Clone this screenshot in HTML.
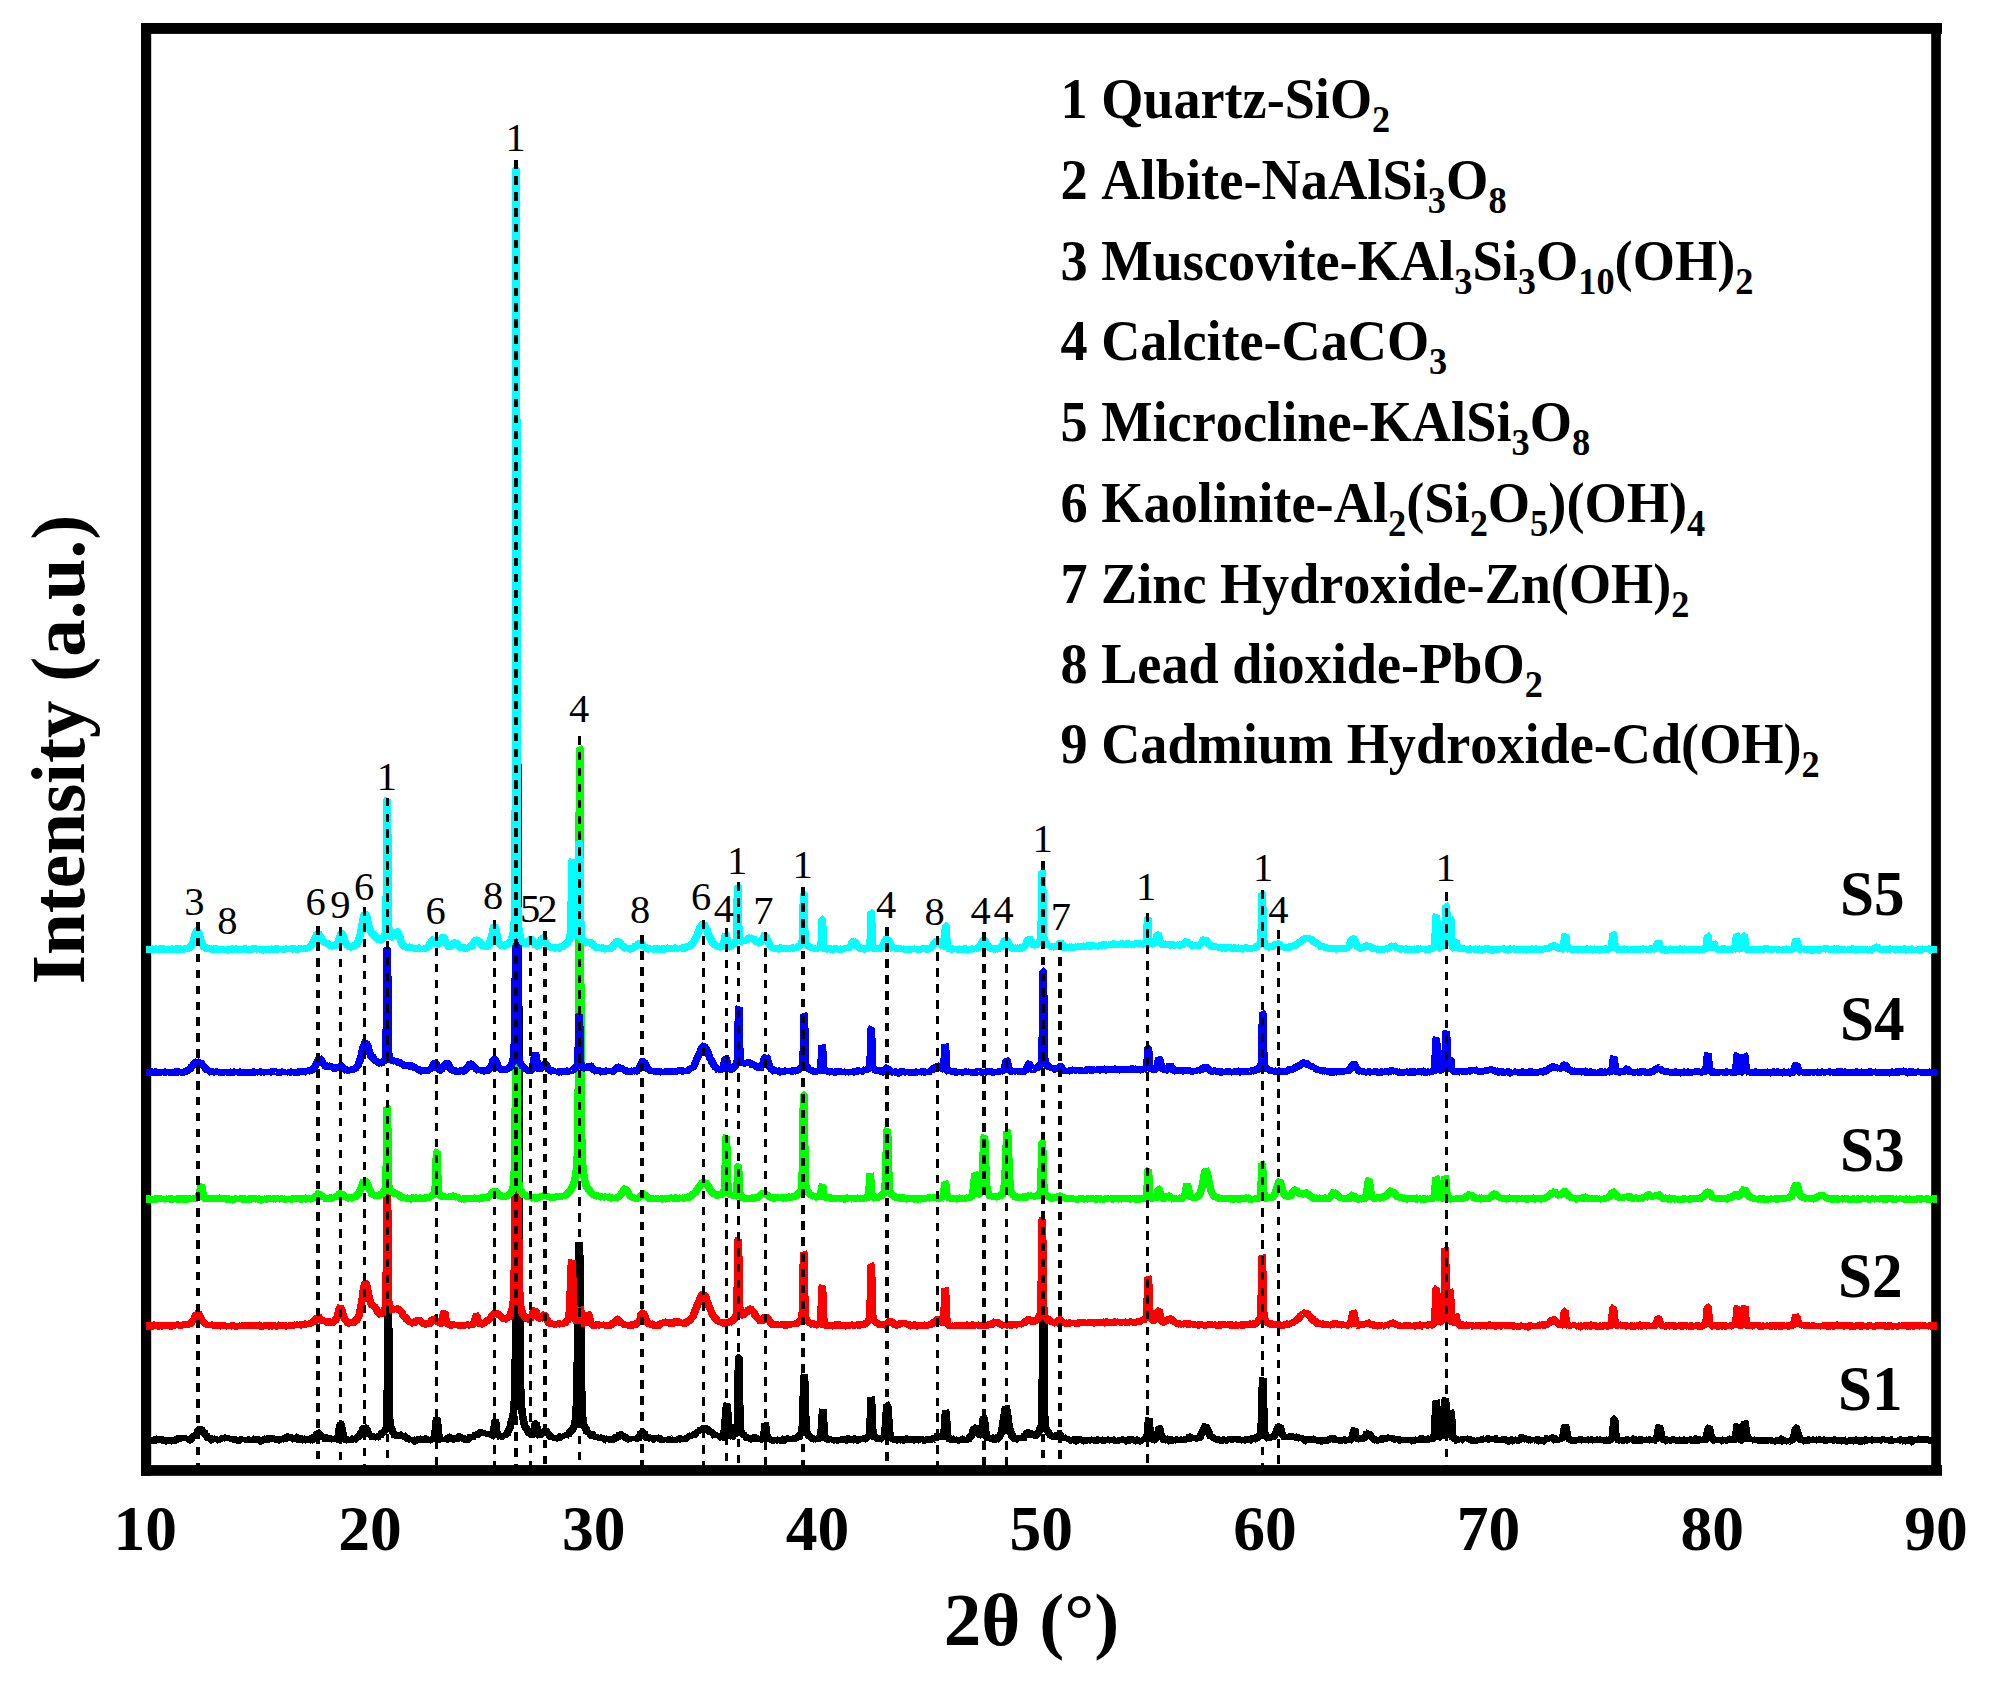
<!DOCTYPE html>
<html lang="en"><head><meta charset="utf-8"><title>XRD patterns</title><style>html,body{margin:0;padding:0;background:#fff}svg{display:block;font-kerning:none;font-variant-ligatures:none}</style></head><body>
<svg width="1993" height="1691" viewBox="0 0 1993 1691">
<rect width="1993" height="1691" fill="#fff"/>
<g fill="#000">
<rect x="141" y="23" width="10.2" height="1452.8"/>
<rect x="141" y="23" width="1801" height="10.9"/>
<rect x="1931.2" y="23" width="9.7" height="1452"/>
<rect x="141" y="1465.1" width="1801" height="10.7"/>
</g>
<g fill="none" stroke-width="7.6" stroke-linejoin="bevel" stroke-linecap="butt" shape-rendering="crispEdges">
<path stroke="#000000" d="M146.0,1440.2l.5,0l.5,0l.5,0l.5,0l.5,0l.5,0l.5,0l.5,0l.5-.3l.5,.6l.5-.8l.5,1.1l.5-1.1l.5,.2l.5,.7l.5,.4l.5-1.2l.5,1.2l.5,.6l.5-2.4l.5,0l.5,1.5l.5,.5l.5-.9l.5-.7l.5,0l.5-.5l.5,1.4l.5-.4l.5-.1l.5,1.4l.5-.5l.5-1.3l.5,0l.5,1l.5-1.4l.5,2.5l.5-.3l.5-.2l.5-.6l.5,0l.5-.6l.5,.4l.5-1.7l.5,2.6l.5-.6l.5-1l.5,1.6l.5-2.5l.5,2.1l.5-.5l.5,.6l.5,.1l.5-1l.5-.4l.5,1.2l.5-1.9l.5,.8l.5,.7l.5,0l.5-1l.5-.3l.5,0l.5,1.1l.5-.8l.5-1.6l.5-.4l.5-.6l.5,1.7l.5,.3l.5-2l.5,.8l.5,.4l.5-2.4l.5,2.4l.5-.8l.5,2.1l.5-1.3l.5,1.7l.5-1.5l.5-.1l.5,2.2l.5-1.9l.5,.3l.5,.3l.5,.2l.5,.2l.5,.3l.5,.6l.5,.1l.5-2.3l.5-1.4l.5,1.3l.5-2.4l.5,1.1l.5-.7l.5-.6l.5-.6l.5,1.4l.5-1.1l.5-1.3l.5,.9l.5-3.3l.5-.7l.5-.5l.5-1.1l.5-.2l.5-.5l.5,.8l.5,.7l.5-1l.5,1l.5,1.5l.5,0l.5,1.4l.5-1.8l.5,1.5l.5,2.9l.5-.9l.5,1.9l.5-2.4l.5,3.3l.5,.3l.5-.1l.5,1.5l.5-1.5l.5,1.2l.5-.8l.5,.2l.5,2.1l.5,0l.5-2.1l.5,.4l.5,1.7l.5-1.1l.5,1.3l.5-1.2l.5-.4l.5,.3l.5,1.4l.5-.7l.5-1l.5,1l.5-1.8l.5,2l.5,.2l.5-1.3l.5,.3l.5,.5l.5-2.2l.5,1.8l.5-.7l.5-.3l.5,.3l.5,.6l.5-2.4l.5,1.8l.5-1.6l.5,.9l.5-.2l.5,.4l.5-1l.5,2.1l.5-3l.5,3.1l.5-1.2l.5-.7l.5,2.8l.5-1.5l.5-.2l.5,1.7l.5-1.5l.5,.9l.5-.5l.5-1.7l.5,1.4l.5,.6l.5,.3l.5,1l.5-.5l.5-.4l.5-.4l.5,1.4l.5-1.9l.5,1.3l.5,.3l.5-.2l.5-1.1l.5,.3l.5-1.1l.5,1.1l.5-.8l.5-.7l.5,2.1l.5-.9l.5,.9l.5-1l.5,1.4l.5-1.8l.5,1l.5,1.4l.5-1.4l.5,1.1l.5-.5l.5-1.1l.5-.1l.5,2.5l.5-1.8l.5,.5l.5-.7l.5,.8l.5-.7l.5,1.3l.5-1.5l.5,.8l.5-1.1l.5,.6l.5-1.2l.5-.3l.5,1.7l.5-3.5l.5,3l.5,0l.5,.8l.5,1.2l.5-.7l.5-.4l.5-.9l.5,1.9l.5,.1l.5-.7l.5,.2l.5,.3l.5-1.1l.5,.4l.5-1.5l.5,0l.5,2.7l.5-1.8l.5-.3l.5-1.1l.5,1.5l.5-.5l.5-1.4l.5-.1l.5,.3l.5,1.4l.5-2.3l.5,1.2l.5,.1l.5-1l.5-.8l.5,1l.5,.2l.5-.7l.5-1l.5,2.7l.5-.4l.5-2.1l.5,2l.5,2.3l.5-2.5l.5,1.5l.5,.9l.5-1.6l.5,.7l.5,0l.5,.2l.5-1.2l.5,.4l.5-1.2l.5,1.1l.5,.8l.5-1.4l.5,0l.5,2.5l.5-2.6l.5,.7l.5-.6l.5-.5l.5-2.1l.5,.1l.5,.7l.5,.7l.5,.2l.5-.7l.5-.7l.5,.8l.5,.8l.5-2l.5,2.6l.5-1.2l.5,2.1l.5-1.1l.5,1.1l.5-.7l.5,1l.5,.8l.5-1.6l.5,.9l.5-.4l.5-2.6l.5-.2l.5,1.6l.5,.5l.5-.5l.5,1.9l.5-.5l.5,1.2l.5-1.4l.5,.5l.5-.2l.5-.9l.5-.1l.5,1.5l.5-.3l.5-1.4l.5,1.4l.5-1.1l.5-.2l.5,.8l.5,1.2l.5-1.5l.5-.8l.5,1.3l.5,.5l.5-1.3l.5,0l.5,.6l.5,.2l.5,.1l.5,.2l.5-1.4l.5,1.3l.5,.1l.5-1.8l.5-2l.5-1l.5,3.2l.5-2.9l.5-1l.5-1l.5-.8l.5,.8l.5-.3l.5-.4l.5,.1l.5,2.8l.5-.7l.5,1.4l.5-.2l.5,.5l.5,1.1l.5-.6l.5,1.4l.5-1.5l.5,1.8l.5-.2l.5,.8l.5-.6l.5-1.2l.5,1l.5-.1l.5-1.3l.5-.6l.5,.8l.5-1.2l.5,2.5l.5-1.5l.5,2l.5-1.4l.5,2.7l.5-1.2l.5,1.2l.5-1.1l.5,.6l.5-3l.5,2.1l.5,.9l.5-1.5l.5,1.2l.5-.2l.5-2.6l.5,.4l.5-3.9l.5-2.4l.5-4l.5-1.4l.5-2.6l.5,.8l.5,1.5l.5,3l.5,2.6l.5,2.5l.5,2l.5,3.4l.5-1.2l.5,1.3l.5,1.2l.5-.7l.5,.7l.5-.5l.5,.1l.5,.9l.5-1l.5,.8l.5-1.1l.5,2.1l.5-2.1l.5,.5l.5-.2l.5-1.5l.5,1.3l.5-.6l.5-.7l.5-.5l.5,2.2l.5-2.1l.5,1.5l.5,0l.5-2.5l.5,1.7l.5-1.2l.5-1l.5-.9l.5,.7l.5-.5l.5-.5l.5-1l.5-1.8l.5,1.6l.5-2.6l.5-1.9l.5-1.1l.5,1.1l.5-3l.5,.5l.5,.5l.5,.4l.5,.3l.5,.7l.5-.2l.5,2.8l.5,1.3l.5,1.1l.5,.3l.5,2.4l.5-2.2l.5,1.6l.5-.2l.5,.4l.5,.5l.5,.6l.5,.8l.5-.6l.5-.2l.5-.4l.5-.4l.5-.3l.5,1.9l.5-.6l.5-.3l.5-.1l.5-1.2l.5,1.2l.5-1.7l.5,1l.5-.2l.5,.4l.5-2.4l.5-1l.5-.1l.5,.4l.5-1.6l.5,.7l.5-2.2l.5,2l.5-2l.5-.1l.5-2.1l.5-1.4l.5-9.6l.5-42.3l.5-80.4l.5-.5l.5,81.3l.5,40.6l.5,8.6l.5,4l.5-.8l.5,1.1l.5,.8l.5,1.5l.5,2.1l.5-1.1l.5,1.7l.5,.2l.5,2.9l.5-2l.5,.2l.5-.8l.5,1l.5,1.5l.5-1.3l.5,2.6l.5-4.4l.5,.5l.5,1.8l.5,1.5l.5-1.1l.5-.7l.5,.2l.5-.4l.5-.4l.5,1.1l.5-.3l.5,.3l.5,0l.5,.2l.5,2.8l.5-1.5l.5-1.1l.5,1.8l.5,.8l.5-.1l.5-1.1l.5,2.3l.5-1.7l.5,3l.5-3.9l.5,1.4l.5-1l.5,1.9l.5-.7l.5-1.8l.5,3.1l.5-1.6l.5,2.7l.5,.2l.5-2.6l.5,.7l.5,.4l.5-.4l.5,.2l.5-.7l.5-.3l.5-.2l.5,1l.5-.8l.5,0l.5,.3l.5,.8l.5,1.9l.5-2.2l.5-.2l.5,1.2l.5-2l.5,.8l.5,1.1l.5-2l.5-.2l.5-.1l.5,2l.5-1.2l.5,1.1l.5,1.7l.5-2.1l.5-.1l.5-2.1l.5,1.7l.5-.9l.5,1.5l.5-1.2l.5,1.5l.5-2.4l.5,1.1l.5-4.1l.5-2.2l.5-4.4l.5-5.3l.5-5.4l.5,1.4l.5,2.8l.5,6.2l.5,4.5l.5,3.6l.5,2.5l.5,1l.5,.6l.5-1.1l.5,.2l.5-1.2l.5,1.4l.5,1.3l.5-2.9l.5,2.1l.5-1.6l.5,1l.5-1.2l.5,.8l.5,.5l.5-.4l.5-.2l.5-.7l.5-2.9l.5,1.4l.5,0l.5-.7l.5,2.2l.5,.4l.5,.4l.5,.4l.5-2.1l.5,2l.5,.6l.5-.9l.5,.5l.5,.4l.5-1.4l.5,1.9l.5-1.8l.5-1l.5-.9l.5,.5l.5,1.1l.5-.8l.5-1.6l.5-.3l.5,1.7l.5,1.4l.5-1.1l.5-1.3l.5,1.8l.5,1.5l.5-.3l.5-1.1l.5,.4l.5,.6l.5-.4l.5,.3l.5,0l.5,1l.5-.4l.5-.6l.5-.3l.5,.2l.5-1.6l.5-.3l.5-.7l.5,.8l.5,.3l.5,.1l.5,.8l.5-2.3l.5,1.2l.5-2.1l.5,.2l.5-.5l.5-.8l.5,.8l.5-.3l.5,.5l.5-.5l.5-.7l.5-1.1l.5,.5l.5-.6l.5-.1l.5,.3l.5-2.5l.5,1.9l.5-.4l.5,2.3l.5-1.6l.5-.5l.5-.4l.5,1.8l.5-1.1l.5,1.9l.5-.6l.5-.2l.5-1.3l.5,1.6l.5-1.2l.5,3.4l.5-.9l.5-.6l.5,1.1l.5-1.5l.5,1.8l.5-1.7l.5,2.1l.5-.3l.5-1.8l.5-.4l.5-4.6l.5-4.5l.5-3.7l.5-1.6l.5,5.3l.5,5.3l.5,3.4l.5,2.7l.5-.5l.5,.1l.5-.2l.5-.8l.5,1.2l.5,1.1l.5-1.3l.5,.7l.5-.1l.5-.1l.5-.9l.5,.4l.5-1.3l.5,1.6l.5,.5l.5-2.9l.5,.6l.5-1l.5,.6l.5-.7l.5-2.5l.5-.1l.5-1.3l.5-.9l.5-.4l.5-3.3l.5-.6l.5-3.8l.5-1.2l.5-1.7l.5-2.4l.5-3.4l.5-4.8l.5-8.6l.5-16.6l.5-35.6l.5-82.9l.5-145.5l.5-195.3l.5-158.1l.5-.2l.5,158.1l.5,194.8l.5,146.3l.5,81.8l.5,37.5l.5,15.6l.5,7.9l.5,4.3l.5,5.7l.5,1.6l.5,3.5l.5,1.5l.5,2.6l.5,.3l.5,2.4l.5,.7l.5-1.5l.5,2.3l.5,.6l.5,2.4l.5-1.1l.5,1.8l.5,.6l.5-.5l.5,.7l.5-.7l.5,2.3l.5-.5l.5-.5l.5-1.1l.5-1l.5-2.4l.5-2.3l.5-3.6l.5-.5l.5,.1l.5,1.2l.5,2.8l.5,2.4l.5,3.5l.5,.1l.5,1l.5,.9l.5,.7l.5-1.8l.5,0l.5-.4l.5-.3l.5-2.1l.5,1.6l.5-1.7l.5-.1l.5,.9l.5-2l.5,1.4l.5-1.3l.5,.6l.5,1.1l.5,.7l.5,1.7l.5-.3l.5,.4l.5,.3l.5,.4l.5,2.7l.5-1.3l.5,2.6l.5-2.7l.5,1.5l.5-.9l.5,.6l.5-.5l.5-.3l.5,1.5l.5-.3l.5-.3l.5-1.2l.5,.9l.5,.2l.5-2l.5,3.9l.5-2.7l.5,.3l.5-.8l.5-.2l.5-.3l.5,1.5l.5-1.9l.5,.4l.5,.8l.5-1.3l.5,1.8l.5-1.9l.5,.5l.5-1.5l.5,1.6l.5-.6l.5-.2l.5-.4l.5,.6l.5-1.7l.5,.1l.5-2l.5-.2l.5,1.1l.5-1.6l.5-.8l.5,.3l.5-2.7l.5,.3l.5-1.2l.5-.3l.5-2.4l.5-3.7l.5-.2l.5-6.8l.5-11.5l.5-20.6l.5-30.9l.5-38.9l.5-41.3l.5-28l.5,1.9l.5,24.8l.5,41.2l.5,40.6l.5,31.3l.5,20.8l.5,10.6l.5,7.3l.5,2.1l.5,1.9l.5,2.1l.5,.4l.5-.8l.5,2.1l.5,2.4l.5,.7l.5-1.2l.5,2.8l.5-2l.5,2.6l.5-.5l.5,.6l.5,.5l.5-.2l.5-1.8l.5,1.2l.5,.7l.5,3.2l.5-1.5l.5-.9l.5,1.6l.5-2.1l.5,1.8l.5,.2l.5,1l.5-.4l.5-1l.5,.9l.5,.8l.5-1.9l.5,.7l.5,1.4l.5-.7l.5,1l.5-.9l.5,1.4l.5-.7l.5-1.2l.5,2.6l.5-1.2l.5,0l.5,.9l.5,0l.5,.5l.5-1l.5-2.7l.5,3.7l.5-1.5l.5-.4l.5,.7l.5,.1l.5-2l.5,2.6l.5-.7l.5,.3l.5-.2l.5,.4l.5,.2l.5-.5l.5,.8l.5-1l.5-1.5l.5-.9l.5,.2l.5,1.9l.5,.5l.5-2.1l.5,.2l.5-1l.5-.8l.5-.4l.5-1.1l.5,1.8l.5-.9l.5-.4l.5,0l.5,1.8l.5-1.1l.5,1l.5-1.2l.5,1.4l.5,2.2l.5-.7l.5,.5l.5-1.7l.5,1.8l.5,.1l.5,.5l.5,0l.5-1l.5,1l.5-.7l.5-.7l.5,.9l.5,.3l.5-.8l.5,.7l.5-1.1l.5,2.3l.5-1.7l.5,1.6l.5-.8l.5-1.5l.5,1.3l.5-1.8l.5,1.8l.5-.3l.5,1.4l.5-1.8l.5-.9l.5,0l.5-1.1l.5-2.3l.5-1.7l.5,.5l.5,.2l.5-.9l.5,0l.5,1.6l.5-1.1l.5,1.1l.5,1.5l.5-.2l.5,2.1l.5,1.1l.5-.4l.5,.7l.5-.7l.5,1.7l.5-1.1l.5,1.5l.5-2.1l.5-.1l.5,1.3l.5,.6l.5-2.2l.5,2.5l.5-.2l.5-3.3l.5,2.6l.5-1l.5,.4l.5,.1l.5-1.1l.5,.4l.5,.3l.5,.8l.5-2.1l.5,2.5l.5-1.6l.5,1.1l.5,.4l.5-.1l.5,.2l.5,1.7l.5-1.6l.5,.5l.5,1.9l.5-2.7l.5,.8l.5-.9l.5,.9l.5,.5l.5-1.1l.5,1.1l.5-.4l.5-1.6l.5,.7l.5,.8l.5-.3l.5-.8l.5,.3l.5-.6l.5,1.3l.5-.2l.5,1l.5-2.1l.5,1.1l.5,.4l.5-.2l.5-1.6l.5,2l.5-.4l.5-.6l.5,1l.5-2.2l.5,1.4l.5,.6l.5-.5l.5,0l.5,.7l.5-1.2l.5-.3l.5-.1l.5,.8l.5-.5l.5,.6l.5-1l.5-.5l.5,2.1l.5-.6l.5-1.7l.5,.4l.5,.1l.5,0l.5-.9l.5,.5l.5-1.4l.5,1.4l.5-1l.5-2.2l.5,1.9l.5-.7l.5-.2l.5-.4l.5,1.7l.5-1.6l.5,.4l.5-1l.5,.1l.5-.5l.5,.5l.5-1l.5-1.8l.5,.3l.5,.1l.5-1.6l.5,1.2l.5-2.3l.5,.9l.5,1.1l.5-1.3l.5-.8l.5-.7l.5,1.3l.5-1.8l.5,.1l.5,.8l.5-.9l.5,1.3l.5,.8l.5-3.4l.5,.9l.5-.3l.5,1.9l.5-.8l.5,.6l.5,.5l.5,1.4l.5,.2l.5,.2l.5,1.3l.5-.9l.5-.1l.5-.4l.5,1l.5,.1l.5,1.2l.5-1.1l.5,2.3l.5,.2l.5,.8l.5-2.3l.5,1.7l.5,.7l.5-1.1l.5-.2l.5,2.2l.5-2.4l.5,1.6l.5-1.1l.5,1.9l.5,.1l.5-.8l.5,1.9l.5-.5l.5,1.1l.5-2.4l.5-.9l.5-2.8l.5-3.9l.5-5.2l.5-6.8l.5-7.2l.5-4.8l.5-.6l.5,4.5l.5,7l.5,5.9l.5,6.8l.5,4.7l.5,2.4l.5,.8l.5-.5l.5,.1l.5,.9l.5-.3l.5-.9l.5-1.1l.5,.9l.5-.9l.5-1.1l.5,1l.5-1.8l.5-1.7l.5-1.3l.5-8.7l.5-26.4l.5-37.4l.5-.1l.5,36.8l.5,26.8l.5,7.5l.5,3.8l.5,.8l.5,.5l.5,.7l.5-.9l.5,1.5l.5,1.2l.5-1.2l.5,2.5l.5-1.4l.5,1l.5,.6l.5,1.3l.5-1.7l.5,3.1l.5-1.6l.5,.6l.5-.7l.5,1.4l.5-.2l.5-1.5l.5-1.5l.5,2.1l.5,1l.5-.5l.5-.8l.5-.8l.5-.3l.5,.4l.5-.3l.5,1l.5,.8l.5-.4l.5-.6l.5,.9l.5,1l.5-1.3l.5-.9l.5,1.2l.5-1l.5,1.3l.5,.1l.5-.6l.5,.6l.5,.9l.5-4.2l.5-1l.5-6.5l.5-5.2l.5,1l.5,4.3l.5,4.1l.5,3.3l.5,2.6l.5-1.5l.5,1.1l.5-.1l.5,1.5l.5-.4l.5,1.9l.5-1.8l.5,1.2l.5-.1l.5-.8l.5,.5l.5,.6l.5-1.3l.5,1l.5-1.5l.5,1.4l.5,.5l.5-.6l.5-1.2l.5,1.3l.5,0l.5,2l.5-2.6l.5-.4l.5,.7l.5,.1l.5-.1l.5-.2l.5,1l.5-1.6l.5,1.5l.5-.4l.5-2l.5-.4l.5,2.2l.5,.2l.5-1.9l.5,.2l.5,2l.5-2l.5-.1l.5,1l.5-1.1l.5-.9l.5,2.1l.5-1.6l.5,.5l.5,1.7l.5-1.3l.5,.7l.5-1.8l.5,1.6l.5-.6l.5-.2l.5,.4l.5,1.5l.5-2.8l.5,.5l.5-1.3l.5,1.3l.5-1.1l.5-.5l.5,.8l.5-.8l.5-2l.5-.6l.5-1l.5,1.5l.5-3.4l.5-8.5l.5-16.5l.5-15.8l.5-14l.5-2.2l.5,16.5l.5,19.7l.5,12.7l.5,8.5l.5,.7l.5,.7l.5,1.8l.5,.7l.5,.3l.5,1.5l.5-1l.5,1l.5-.7l.5,1.3l.5,.7l.5,.1l.5-2.5l.5,3.4l.5-1.4l.5,1.4l.5-.2l.5,.4l.5-1.7l.5,1.7l.5-.6l.5-.1l.5,.4l.5-.4l.5-2.2l.5,2.3l.5,1.1l.5-2.5l.5-5.2l.5-5.9l.5-8.1l.5-7.2l.5-2.1l.5,8.8l.5,8.4l.5,7.4l.5,3.2l.5,1.4l.5-.6l.5,.8l.5,.2l.5,.4l.5,.2l.5,0l.5,.3l.5-.7l.5,1.5l.5-.7l.5-1.7l.5,1.5l.5-.3l.5-.3l.5-.7l.5,1.9l.5,0l.5-1.1l.5,1l.5-.3l.5,1.7l.5-.7l.5-1.2l.5,.8l.5,0l.5-.8l.5,.5l.5,2l.5-2.8l.5,1.7l.5-2.2l.5,.6l.5,.8l.5-1.3l.5-.7l.5,1.2l.5,1.4l.5-1l.5-.2l.5,1.4l.5-.3l.5-1.4l.5-1.6l.5,.3l.5,.7l.5,1.2l.5-.3l.5,.1l.5-1.6l.5,2.8l.5-3.4l.5,1.9l.5,.4l.5-.8l.5,.1l.5,.6l.5,0l.5-.4l.5-.6l.5-.1l.5,2.4l.5-1l.5-.1l.5,.1l.5-.2l.5-.9l.5,.4l.5-.3l.5,.6l.5,.3l.5-1.9l.5,2.1l.5-2l.5,.3l.5,.1l.5-.1l.5,.1l.5-1.8l.5,.9l.5,1.1l.5,.1l.5-.9l.5-.1l.5-1.2l.5,.2l.5-1.4l.5,.7l.5-3.2l.5-7.8l.5-12l.5-15.6l.5,1l.5,14.6l.5,13.2l.5,6.2l.5,4.4l.5,.8l.5-1l.5,1.6l.5-.8l.5-.1l.5,0l.5,1.1l.5,1.7l.5-1.4l.5,.7l.5-.5l.5-1.3l.5,1.6l.5-.2l.5-1.8l.5-1.1l.5,1.5l.5,.2l.5,1.4l.5-2.3l.5-.9l.5-1.1l.5-4.4l.5-6l.5-7.5l.5-8.3l.5-4l.5,.2l.5,3.9l.5,6.3l.5,8.6l.5,6.9l.5,3.3l.5,2.7l.5,1.8l.5-.4l.5,.8l.5-.9l.5,1.1l.5,.5l.5-.3l.5,0l.5,0l.5,.5l.5,2.6l.5-3.1l.5-.1l.5,1.4l.5-1l.5,.7l.5,.3l.5-1.5l.5-.2l.5,1.3l.5-2.4l.5,.9l.5,1.3l.5,.3l.5-.7l.5,.5l.5,.2l.5-.4l.5-1.5l.5,.9l.5-.7l.5,1.1l.5-1.7l.5-.2l.5,1.6l.5-.3l.5-.4l.5,.6l.5,.3l.5,.2l.5,2l.5-2.4l.5,.2l.5,1.2l.5-1.4l.5,1.9l.5-2.3l.5,.8l.5,.4l.5,.2l.5-1.2l.5-.4l.5,2.6l.5-1.6l.5-.5l.5,.2l.5,.2l.5,.1l.5-1.1l.5,.3l.5,0l.5,1.3l.5-1.1l.5,1.5l.5-.7l.5,.1l.5,0l.5-.9l.5,1.5l.5-2.3l.5,2.3l.5,.4l.5-1.4l.5-.6l.5-.2l.5,1.2l.5-.7l.5,.1l.5-.8l.5,.2l.5,.6l.5-.5l.5,.1l.5-.4l.5,1l.5-1.7l.5,.1l.5,.9l.5-.1l.5,.1l.5,.7l.5-3.2l.5,1l.5-1.5l.5-1.6l.5,1l.5,2.3l.5-1.2l.5,.1l.5,1l.5-1.1l.5,.9l.5,1.5l.5-1.6l.5,2.1l.5-3.9l.5-3l.5-5.6l.5-8.2l.5-7.9l.5,1l.5,5.4l.5,9.5l.5,7.5l.5,3l.5-1.7l.5,3.2l.5,.7l.5-1.1l.5,1.4l.5,.1l.5-1.2l.5,1.3l.5,.5l.5-1.5l.5,0l.5,2.6l.5-1.2l.5-.6l.5-.3l.5-.5l.5,.9l.5-.1l.5,.8l.5-.2l.5-1.5l.5,1.6l.5-1.5l.5,1.1l.5,.3l.5-.6l.5-1.2l.5,2.6l.5-2l.5,0l.5-.7l.5,.9l.5-.2l.5,1.6l.5-.5l.5-.5l.5,1.4l.5-3.1l.5,1.6l.5-1.4l.5,1.2l.5-.5l.5-1.4l.5-.5l.5,1.1l.5-2l.5-.8l.5-1.2l.5-1.7l.5-2.3l.5,.7l.5-3.4l.5,.2l.5,.7l.5,.3l.5,.5l.5,1l.5,1.5l.5,.7l.5,.3l.5,1.7l.5-.5l.5,1.6l.5-.2l.5,2.2l.5-3.6l.5-1.7l.5-4.3l.5-3.9l.5-4.1l.5-2.7l.5,.9l.5,2.2l.5,5.5l.5,5.1l.5,1.1l.5,4.4l.5,1.3l.5,.9l.5,.9l.5-.9l.5,0l.5-.4l.5,.4l.5,1.8l.5-2.3l.5,2.3l.5-2.6l.5,.1l.5,2.2l.5-2.8l.5,2.1l.5,.6l.5-.4l.5-.9l.5,.4l.5,1.1l.5-1l.5-.2l.5-1.3l.5,1.6l.5-4.8l.5,1.8l.5-.4l.5-.8l.5-1.1l.5-3.2l.5-1.1l.5-3.5l.5-3.7l.5-2.8l.5-3.4l.5-3.8l.5-4.2l.5,.2l.5-1.9l.5,1.5l.5,2.8l.5,2.9l.5,3.6l.5,4.1l.5,3l.5,2.5l.5,2.4l.5,2.7l.5,2l.5-2.4l.5,4.2l.5,1.8l.5,.1l.5,.1l.5,.8l.5,.1l.5-.3l.5,1.1l.5-.3l.5-.5l.5-.1l.5-.1l.5,1.2l.5-1.8l.5,.6l.5-.4l.5-.3l.5,.7l.5-.5l.5,.4l.5-1.7l.5,.7l.5,1.8l.5-1.3l.5-1.8l.5-.6l.5,1.7l.5-2.7l.5-.1l.5-2.5l.5,.3l.5,.7l.5-.2l.5-.5l.5,.1l.5-.2l.5,1l.5,1.4l.5-.9l.5,0l.5,1.1l.5,.5l.5,.7l.5-1.6l.5,1.9l.5-.4l.5,.3l.5-.5l.5-1.9l.5,2.1l.5-1.8l.5-1.8l.5,.6l.5-1.7l.5,1l.5-3.4l.5,.1l.5-1.3l.5-1.4l.5-2l.5-15.6l.5-46l.5-68.5l.5,2.8l.5,65l.5,49.3l.5,12.3l.5,3.4l.5,1.4l.5,.9l.5,1.6l.5-.2l.5,1.1l.5,1.1l.5,1l.5,.2l.5,.9l.5,1.5l.5-1.4l.5-.5l.5,1.4l.5,.6l.5-.1l.5,.4l.5,.2l.5-2.3l.5,3l.5-1.2l.5,.5l.5-.3l.5-.8l.5-.5l.5-2.1l.5,.5l.5-.4l.5,.3l.5,1.5l.5-.7l.5,.9l.5,.6l.5,.6l.5,.4l.5-1l.5,1.3l.5,.4l.5,.1l.5,.3l.5,1.7l.5-2.7l.5,3.1l.5-2l.5-.5l.5,2.9l.5-.8l.5-1.1l.5,1.7l.5-3l.5,1.9l.5,1.4l.5,.2l.5-1.1l.5,.7l.5-1.2l.5-1.2l.5,.8l.5,1.1l.5-.8l.5-.2l.5,1.5l.5,.8l.5,.2l.5-1.4l.5-.1l.5-1.2l.5,.5l.5-.4l.5,.5l.5-.7l.5,2.7l.5-2.5l.5,1l.5,1l.5-.1l.5,.2l.5-.3l.5,.6l.5-1.8l.5,.6l.5-.9l.5,1.1l.5-.1l.5-1.5l.5,.8l.5,.7l.5-.2l.5-.7l.5,.6l.5,1.1l.5-.9l.5,.1l.5,.9l.5-1l.5,1.7l.5-1.5l.5,1.3l.5-.6l.5-1l.5,.3l.5,.3l.5-.2l.5-.2l.5-.1l.5-.5l.5,.1l.5-.7l.5,2.3l.5-.7l.5-.5l.5-1.8l.5,1.6l.5,0l.5,.5l.5,.6l.5-.3l.5-.5l.5,.7l.5-1.1l.5-1.6l.5,2.2l.5,.6l.5-.6l.5-1.2l.5,1l.5,1l.5-1.6l.5-.2l.5,2.7l.5-2.1l.5,.2l.5,1.1l.5-1.4l.5-.9l.5,1.4l.5-.3l.5,.1l.5,0l.5,1.9l.5-.6l.5-1.6l.5,.5l.5,.3l.5-1.7l.5,1.2l.5,.2l.5,.1l.5-1.2l.5,2.4l.5-3.3l.5,.7l.5,.5l.5,.1l.5-.1l.5,.7l.5-.7l.5,.4l.5-.8l.5,1.7l.5-2.5l.5,2.3l.5,.3l.5,0l.5-1.1l.5-1.2l.5,2.3l.5-.9l.5-.7l.5-.1l.5,1.6l.5-.6l.5,.3l.5-1l.5-.1l.5-.4l.5,1.1l.5-.5l.5-.3l.5,.9l.5,.2l.5,.5l.5,.1l.5-1.5l.5-.1l.5,1.1l.5,.6l.5-1.7l.5,2.5l.5-1.4l.5,.6l.5,.1l.5-1.8l.5,1.7l.5-1.5l.5,.4l.5,1l.5-1.6l.5-.4l.5-.7l.5,3.4l.5-2.3l.5-.4l.5-3.4l.5-2.9l.5-7.2l.5-5.5l.5-2l.5,5.9l.5,7.4l.5,5.3l.5,1.1l.5,1.3l.5,.6l.5-.2l.5-1.2l.5,.9l.5,.7l.5-.1l.5-.7l.5-.1l.5-1.3l.5,1.5l.5-3.7l.5-1.5l.5-.7l.5-4.1l.5-1.1l.5,.2l.5,1.2l.5,2.6l.5,2.8l.5-1.8l.5,4.4l.5,1.8l.5-.5l.5,.8l.5,.2l.5-.5l.5-.5l.5,2.4l.5-1.4l.5,.1l.5,1.5l.5-2.2l.5,0l.5,1.5l.5,0l.5-1.2l.5-.9l.5,.4l.5,1.4l.5,.1l.5-.2l.5-.4l.5-1.5l.5,3.6l.5-2.3l.5,.5l.5,.4l.5-.8l.5,0l.5,.2l.5,.2l.5,.7l.5-1.8l.5,2.7l.5-2.1l.5,.3l.5-.6l.5,1.3l.5-.6l.5-.1l.5,.5l.5-2.4l.5,1l.5,1.5l.5-.8l.5,.6l.5-1.1l.5,.2l.5-.1l.5-1.6l.5,.3l.5-.1l.5,.3l.5,.1l.5-.5l.5-1l.5,0l.5,1.8l.5-.2l.5,.8l.5-2l.5,2.3l.5-1.4l.5-.1l.5,1.6l.5-1.1l.5,1.1l.5-2.1l.5,1.3l.5-.2l.5,1.3l.5-1.6l.5,1.3l.5-2l.5,.1l.5-.8l.5,0l.5-.7l.5-2.3l.5-.6l.5,1.2l.5-2.7l.5-1.9l.5-.9l.5,.7l.5-3l.5-.6l.5-.3l.5-.4l.5,2l.5,.6l.5,1.4l.5,.5l.5-.5l.5,4.7l.5,.5l.5,1.2l.5,1.5l.5-1.2l.5,2.1l.5-1.1l.5,0l.5,.3l.5,1.3l.5-1.3l.5-.2l.5,2.9l.5-1.7l.5,.5l.5,1.1l.5-.9l.5,.4l.5-.3l.5,.7l.5-.8l.5-.6l.5,2.6l.5-1.9l.5,1.1l.5,.1l.5-.5l.5,.2l.5-.3l.5,.5l.5,.7l.5-1.8l.5-.3l.5,2.1l.5-.3l.5-1.6l.5,1l.5,.7l.5-2.3l.5,.3l.5,.2l.5,.3l.5-.7l.5,.7l.5-.8l.5,.5l.5,.4l.5-.2l.5,.1l.5-.8l.5,.6l.5,1.3l.5-2.4l.5,2.7l.5-.7l.5-.9l.5,1.2l.5-.4l.5-1.3l.5,.4l.5,.2l.5,.7l.5,1.3l.5-2.4l.5,2.5l.5-1.9l.5,.9l.5,1.5l.5-1.4l.5,.4l.5-1.8l.5,.3l.5-1.1l.5,1.8l.5,.1l.5-1l.5-.9l.5,.9l.5,.5l.5,.8l.5-2.5l.5,1.9l.5,.8l.5-1.4l.5,.9l.5,.1l.5-2.1l.5,.2l.5,0l.5-.7l.5,.7l.5,1.3l.5-1.5l.5-.1l.5,.8l.5,.1l.5-2.6l.5,.2l.5,.9l.5-.3l.5-1.7l.5-.2l.5-1.3l.5-.8l.5-3.2l.5-10.6l.5-19.5l.5-20.7l.5-1l.5,20.6l.5,21.5l.5,9.9l.5,3.8l.5,1.5l.5-.4l.5-.1l.5,2.4l.5,.8l.5,.2l.5-2.5l.5,.9l.5-.2l.5,1.4l.5-1.1l.5,.3l.5,.9l.5,1.4l.5-2.7l.5,1l.5-1l.5-.5l.5-1.3l.5-.5l.5-1.2l.5-.8l.5-.3l.5-2.3l.5-1.1l.5-.7l.5-1.3l.5-.6l.5,.9l.5-.4l.5,.9l.5,2l.5,1.6l.5,2.2l.5,1l.5,1.2l.5-.9l.5,1.8l.5,.9l.5,.8l.5-.8l.5-1l.5,.4l.5-.4l.5,2.2l.5-1.4l.5,1.2l.5-1.7l.5-.6l.5,1.2l.5-1l.5-.3l.5,.3l.5,.6l.5-1.6l.5,2.1l.5-2l.5,.8l.5,1.4l.5-.5l.5-.5l.5,.7l.5,.1l.5,.2l.5-1.5l.5,1.6l.5,0l.5-.2l.5,.6l.5-1.4l.5,3.7l.5-1.7l.5,.7l.5-1.2l.5,.2l.5-.4l.5-.6l.5,2.5l.5-.7l.5,1.7l.5,0l.5-1.4l.5,1.4l.5-1.4l.5,.2l.5,1.2l.5-2l.5,1.7l.5-1.9l.5,2.6l.5-2l.5-.1l.5,.8l.5,.4l.5,.9l.5-1.3l.5-.9l.5,0l.5,.8l.5,1.1l.5-2.8l.5,1.2l.5,.5l.5,0l.5-.9l.5,1.4l.5,.9l.5-.3l.5-2.8l.5,2.1l.5,.7l.5-1.5l.5,.5l.5,.7l.5,0l.5,.4l.5,.3l.5-.6l.5-2.4l.5,1.8l.5,.8l.5,.6l.5-.7l.5-1.6l.5,.4l.5-1.7l.5,1.6l.5-.1l.5-.5l.5-.5l.5,.3l.5-.8l.5,.5l.5-.5l.5,1l.5-.6l.5,.2l.5,.4l.5,.1l.5,.5l.5,1l.5,1l.5-1.6l.5-.6l.5,.7l.5-1l.5,.6l.5-.4l.5,1.4l.5,.1l.5,.2l.5-1.9l.5,1.2l.5-.1l.5,.6l.5-1.8l.5,1.6l.5-.2l.5-1l.5,.1l.5-.4l.5,1.1l.5-.5l.5,.7l.5,.3l.5-1.3l.5,.4l.5,.3l.5-1.6l.5,.2l.5-.5l.5,1.8l.5-.1l.5-2.1l.5-1.5l.5-2.9l.5-2.3l.5-.8l.5-.4l.5,.9l.5,2.6l.5,4.3l.5,0l.5-.1l.5,2.6l.5-.9l.5,.6l.5-1l.5,.2l.5-.4l.5,.6l.5,.6l.5-.8l.5-.5l.5-.2l.5-1l.5,1.7l.5,.3l.5-2.5l.5-.7l.5,.7l.5-1.6l.5-1.1l.5-1.4l.5,.3l.5-.2l.5-.5l.5,2.6l.5-1.3l.5,1.1l.5,1.6l.5-.1l.5-.3l.5,1.4l.5-.8l.5,3.2l.5-.6l.5,.5l.5,0l.5,.1l.5,.2l.5-.9l.5,1.6l.5-.1l.5-.8l.5-1.6l.5,1.6l.5,.1l.5,.5l.5,.8l.5-.7l.5-.9l.5-.5l.5-.3l.5-.2l.5,.1l.5-.1l.5,1.9l.5-1.6l.5-1.3l.5,1l.5-1.5l.5,.5l.5,.3l.5,1.4l.5-1.5l.5-.1l.5,0l.5-.5l.5,.6l.5,.5l.5,.7l.5-1.3l.5,.5l.5-.8l.5,2.3l.5-1.1l.5,.4l.5,0l.5-.3l.5,.6l.5,1.2l.5-1l.5-2l.5,3.3l.5-.8l.5-.3l.5,.2l.5,.3l.5,.2l.5-.4l.5-.7l.5,.8l.5-.9l.5,1l.5-1.4l.5,2l.5-1.2l.5,1l.5-1.7l.5,.8l.5,.9l.5-.4l.5,.6l.5-2l.5,2l.5-.7l.5-.7l.5,.4l.5,.7l.5-1.2l.5,.5l.5,1.1l.5,0l.5-1.8l.5,2.2l.5-.4l.5-2.5l.5,1.1l.5,0l.5,.9l.5-1.6l.5,1.7l.5-1.3l.5,1.6l.5-.5l.5,2l.5-3.3l.5,1.3l.5-1.5l.5,.4l.5-.5l.5-.2l.5,.2l.5,1.3l.5-.5l.5,2.3l.5-2.1l.5,1.3l.5-1.2l.5-.1l.5,.5l.5-1.4l.5,.3l.5,0l.5,.1l.5,.4l.5,1l.5-1.9l.5-.3l.5,1.2l.5,.4l.5,.9l.5-1.9l.5-.1l.5-.7l.5-1.5l.5,.6l.5-4.7l.5-10.1l.5-11.9l.5-9.6l.5,.9l.5,9.7l.5,11.7l.5,9.4l.5,3.4l.5,1.6l.5-.2l.5-1.5l.5,1.2l.5-.9l.5,0l.5,.6l.5-1l.5-2.7l.5-2.9l.5-8.4l.5-13.1l.5-9.3l.5-.6l.5,8.6l.5,12.1l.5,8.9l.5,4.5l.5,2.4l.5,1.4l.5-2.4l.5,2.6l.5-2l.5-7.5l.5-15.5l.5,.4l.5,16.7l.5,7.1l.5,2.9l.5-2.4l.5,1l.5,.9l.5,.2l.5-.4l.5,1.2l.5,.3l.5,1l.5,.4l.5-2.5l.5-1.1l.5,2.2l.5-1.8l.5,2.4l.5-2.1l.5,1.8l.5-.3l.5-.1l.5-2.5l.5,1.7l.5,.5l.5,.5l.5-2.7l.5,1.3l.5-.7l.5,.6l.5-1l.5,1.6l.5-.3l.5,1.3l.5-1.5l.5,.6l.5,.7l.5-.2l.5-.1l.5,.4l.5,1.4l.5-1.3l.5-.2l.5,1l.5,.7l.5-.9l.5-.2l.5,.9l.5-1.6l.5,.4l.5,.5l.5,.5l.5-.8l.5,.6l.5-.7l.5-1.5l.5,1.4l.5,2.1l.5-2.1l.5,1l.5-1.4l.5-.4l.5,.4l.5-1l.5,.1l.5-.5l.5,2.8l.5-1.9l.5,1.9l.5-3.2l.5,1.7l.5-.3l.5,1.3l.5-1.7l.5-.5l.5-.1l.5,1.8l.5-.9l.5,.7l.5-.8l.5,.5l.5,.6l.5-1.5l.5-.4l.5,1.1l.5-.4l.5-.5l.5,.2l.5,.1l.5,.5l.5-.5l.5,.2l.5,.1l.5-1.2l.5,2l.5,.7l.5-.6l.5,1.3l.5-1.5l.5,.6l.5-1l.5,.1l.5-.7l.5,1.1l.5,.4l.5-.8l.5,.2l.5-.3l.5,.1l.5,1l.5-.6l.5,.5l.5-.3l.5,.8l.5,.4l.5,0l.5-.8l.5,.9l.5-1.2l.5-.7l.5,0l.5,1l.5-.2l.5,.5l.5,.1l.5-2.5l.5,1.4l.5,.1l.5-1.1l.5,2.6l.5-1.2l.5-2.7l.5,1.7l.5,.7l.5,.7l.5,.2l.5-1.4l.5-.9l.5,1.7l.5-2.1l.5-.6l.5-.5l.5,.3l.5-.8l.5,1.4l.5-.2l.5,1.1l.5,0l.5-.6l.5,2.5l.5-1.1l.5-.3l.5-.6l.5,.4l.5,.5l.5,0l.5,1.1l.5-1.9l.5,1.5l.5-2.2l.5,1.7l.5,.2l.5,.4l.5-1.5l.5,1.5l.5-1.5l.5,1.7l.5-.6l.5,.2l.5-1.3l.5,2.3l.5-.3l.5-1.7l.5-.3l.5,.3l.5-1l.5,2.4l.5,1.7l.5-1.7l.5-.1l.5-.3l.5-.1l.5,1.4l.5-.2l.5-2l.5-.7l.5,1.1l.5,1.3l.5-1.7l.5,1.1l.5-1.6l.5-.7l.5-.4l.5,1.2l.5,.5l.5,.5l.5-3.5l.5,1.2l.5,.2l.5,.9l.5-1.4l.5,.2l.5,.7l.5-1.6l.5,1.5l.5-.7l.5,.5l.5,2.5l.5,.5l.5-1l.5-1.1l.5-1l.5,2.5l.5-.9l.5,.7l.5,.5l.5-1.5l.5,.3l.5-1l.5,1.3l.5-1l.5,.6l.5-2l.5-.5l.5-3.4l.5-4.1l.5-1.1l.5-3.1l.5,1.3l.5,1.1l.5,2.1l.5,3.1l.5,3.2l.5,1.7l.5,0l.5,1.1l.5,.4l.5,1.3l.5-.2l.5-1.3l.5,.8l.5,0l.5-1.2l.5,2.1l.5-.3l.5,.8l.5-.7l.5,.9l.5,.8l.5-2l.5,.4l.5,0l.5,.6l.5-3.4l.5,2.6l.5-2.8l.5,2.3l.5-.5l.5,.1l.5,.2l.5,.4l.5,.4l.5,1.7l.5-2.2l.5,.3l.5,.8l.5-1.4l.5,1.1l.5-.5l.5,.7l.5-1.5l.5,.2l.5,1.8l.5-1.7l.5,1.7l.5-1.4l.5,.8l.5-.7l.5,.3l.5-1l.5,.1l.5,.1l.5-1.5l.5,3l.5-1.5l.5-.3l.5,1.2l.5,.5l.5-1.9l.5,2.1l.5-2.8l.5,1.1l.5-.1l.5,1.3l.5-1.8l.5,.9l.5-1.2l.5,1.7l.5-.3l.5,.8l.5-.8l.5-.9l.5-.6l.5,2l.5-.3l.5-.6l.5,1l.5-.7l.5,.2l.5,.9l.5,.4l.5-1.3l.5-.1l.5-.8l.5,1.5l.5-.1l.5,0l.5-1l.5,.6l.5,.1l.5-2.4l.5,.4l.5-3.2l.5-4.5l.5-8.2l.5-3.7l.5,0l.5,4.1l.5,7.9l.5,4.6l.5,2.8l.5,1l.5-.4l.5,.9l.5-.3l.5,3l.5-1.7l.5,.3l.5-1.5l.5,.4l.5,.4l.5,.5l.5-.8l.5,1.4l.5-2.2l.5,1.7l.5,.4l.5-1.1l.5-.2l.5-.8l.5,.2l.5-.1l.5,.6l.5,.1l.5,.2l.5-1.2l.5,1.1l.5,1.4l.5-2.5l.5,1.7l.5-.8l.5-1.1l.5,.3l.5,1.1l.5,0l.5-1.5l.5-.2l.5,1l.5,.5l.5-.2l.5,.8l.5,.4l.5-.5l.5-.8l.5,.5l.5,1.8l.5-2.6l.5-.1l.5,.3l.5,.4l.5,.5l.5,0l.5-.8l.5,.9l.5,.7l.5-.9l.5,1.2l.5-1.4l.5,.6l.5-.6l.5-2.2l.5,1.9l.5-.2l.5,1.8l.5-.8l.5-.9l.5,0l.5,.3l.5-1.5l.5,2.8l.5-1.7l.5,1.6l.5-1.8l.5,3.1l.5-1.7l.5-1.2l.5,.3l.5-.8l.5,.9l.5-1.2l.5-2l.5-.6l.5-.9l.5-4.3l.5-3l.5-1.5l.5-.9l.5,2.9l.5,.9l.5,4.2l.5,2l.5,1.9l.5,1.9l.5,0l.5,1.8l.5-1.5l.5,.2l.5-1.4l.5,.5l.5,1.7l.5,.1l.5-1.8l.5,2.1l.5-.7l.5-.3l.5-1.4l.5,2.3l.5-.3l.5-.3l.5-.1l.5,.8l.5-1.3l.5-.4l.5,.3l.5,.6l.5-.3l.5,.4l.5-1.5l.5,1.4l.5-.2l.5-1.6l.5,.7l.5,1l.5,1l.5-.6l.5,.1l.5-1.2l.5,2l.5-1.1l.5-.6l.5,.4l.5-.4l.5,.5l.5,.1l.5,.2l.5-.5l.5-.2l.5,0l.5-.5l.5,.9l.5,.2l.5,.1l.5-1.4l.5,1.8l.5-3.1l.5,.8l.5,1.5l.5-.8l.5,1.5l.5-.6l.5-.3l.5,2.3l.5-1.2l.5-.3l.5,.9l.5-2.7l.5,1.5l.5,2l.5-3.9l.5-.2l.5-.1l.5,1.8l.5,.2l.5-.3l.5-.8l.5,.9l.5,1l.5-.8l.5-1.2l.5-.3l.5,3.4l.5-2.6l.5,.8l.5,.6l.5-1.1l.5-1.2l.5,2.8l.5-1.6l.5-1.8l.5-.9l.5-1.1l.5-2.8l.5-1.2l.5-2.2l.5-2.1l.5-.3l.5,1.1l.5,2.3l.5,2.7l.5,2.2l.5,1.6l.5,.4l.5,.2l.5,.2l.5,2l.5,.2l.5-.1l.5,0l.5,1l.5-1.5l.5-1.4l.5,3.5l.5-2.5l.5,1.7l.5-2l.5,.6l.5-.9l.5,.7l.5,.9l.5,1.1l.5-1.1l.5-.5l.5,.1l.5,.9l.5,.3l.5-1.4l.5-.4l.5-.5l.5,1.7l.5-.2l.5-1.4l.5,1.2l.5-.7l.5,.4l.5,1.3l.5-.9l.5-1.3l.5-.1l.5,2.3l.5-.9l.5-.6l.5-.4l.5-.2l.5,1l.5,2.2l.5-1.8l.5-1.9l.5,1l.5-2.3l.5-3.4l.5-4.3l.5-3.7l.5-1.8l.5,5.2l.5,4.3l.5,3l.5,2.2l.5-.2l.5,1.6l.5,0l.5-.1l.5-.1l.5-1.6l.5-5l.5-4.6l.5-2.1l.5-5.1l.5,.7l.5,1.8l.5,6.6l.5,2.5l.5,3.1l.5,2.5l.5,.6l.5-.4l.5,0l.5,.6l.5-1.8l.5,2.5l.5-.8l.5,1.2l.5-1.1l.5,1.6l.5-1.6l.5,.2l.5,.2l.5-.6l.5,1.4l.5-.9l.5-.5l.5,.4l.5,.6l.5-.3l.5,.4l.5-.9l.5,.5l.5-1.1l.5,.9l.5,.7l.5,.3l.5-.4l.5-.8l.5-1.7l.5,1.6l.5,1.5l.5-1.2l.5,.3l.5,1.1l.5,1l.5-.9l.5-1.3l.5,.3l.5-1.4l.5,2.9l.5-1.6l.5-1.5l.5,.7l.5,.5l.5,.8l.5-.6l.5-.3l.5,.2l.5-1.3l.5,3.2l.5-1.3l.5,.5l.5-.2l.5,.4l.5-.7l.5,0l.5,.1l.5-.4l.5-.9l.5,.5l.5-.8l.5,2.9l.5-2.3l.5,.5l.5,.4l.5,.6l.5-.2l.5-2.5l.5-.2l.5,2.5l.5-1.3l.5,1.1l.5,1.7l.5-1.7l.5-1l.5,.7l.5-.5l.5,1l.5,.1l.5-1.5l.5,1.8l.5-1.5l.5,2.1l.5-.9l.5,.1l.5,.2l.5-1.4l.5-.5l.5,0l.5-.3l.5-2.9l.5-.2l.5-2.3l.5-.5l.5-5.8l.5,.1l.5,1.7l.5,.6l.5,1.9l.5,1.5l.5,2.4l.5,.3l.5,3.2l.5,.1l.5,1.6l.5-.6l.5-2.3l.5,2l.5,1.3l.5-3.7l.5,1.9l.5,1.5l.5,.1l.5,.4l.5,.4l.5-2.7l.5,1.4l.5,.2l.5,.3l.5-1l.5-.2l.5,.1l.5-.9l.5,.5l.5,.7l.5-.7l.5,.5l.5-.3l.5,.3l.5-.6l.5,.7l.5-.4l.5-.2l.5,1.1l.5-1.7l.5,.8l.5,0l.5,1.5l.5-1.5l.5,.2l.5-1.6l.5,2.1l.5-.6l.5,0l.5,.5l.5-.8l.5,.5l.5-1.5l.5,.6l.5,1.2l.5,.9l.5-1.4l.5,.8l.5-1.7l.5,1.8l.5,.3l.5-2.2l.5,.6l.5,.6l.5-.7l.5,1.2l.5,.5l.5-1.1l.5,.3l.5-1l.5,2.9l.5-2.7l.5,.7l.5-.5l.5,.8l.5-.1l.5-1.3l.5,.2l.5-1l.5,1.8l.5-1l.5,1.7l.5-1.7l.5,.9l.5,.7l.5,.2l.5-1.2l.5,2.2l.5-.4l.5,1.1l.5-2l.5-.3l.5,.7l.5,.1l.5-1.8l.5,.4l.5,1l.5-.7l.5-.4l.5,1.2l.5,.5l.5-.1l.5-.1l.5-.4l.5-.6l.5,1l.5,1.1l.5-1.5l.5,1.5l.5-1.5l.5-.9l.5-1.2l.5,1.4l.5,.6l.5,1.9l.5-2l.5,.3l.5,.6l.5-1.7l.5,2l.5,.6l.5-2.1l.5-.3l.5-.2l.5-.3l.5,1l.5,.9l.5,1.1l.5-.4l.5-2.4l.5,1l.5,.8l.5-.5l.5,.4l.5-.3l.5-.5l.5-.4l.5,1.6l.5-1l.5-1l.5,.1l.5-.4l.5,.8l.5,.1l.5,.3l.5-.7l.5,.4l.5-.9l.5,1.5l.5,1.2l.5-2.3l.5,.5l.5-.2l.5,.1l.5,.4l.5,.7l.5-1.3l.5,.8l.5-1.1l.5,.3l.5,1.9l.5-2.6l.5,1.8l.5-1.1l.5-1.2l.5,3.2l.5-.9l.5-.6l.5-1.2l.5,.3l.5,.4l.5,.9l.5-1.3l.5,1.6l.5-2.2l.5,1.4l.5-.7l.5-.7l.5-.8l.5,1.5l.5-.6l.5,1.4l.5-.4l.5,.6l.5-1l.5-.5l.5,.5l.5,.2l.5,.1l.5,.7l.5,.7l.5-.7l.5-.9l.5,0l.5-.8l.5,1.9l.5,1.5l.5-2.7l.5,1.7l.5-1.5l.5,.5l.5,1.2l.5-2.6l.5,.7l.5,1.2l.5-.4l.5-1.8l.5,.8l.5-.1l.5,.6l.5-.7l.5-1.3l.5,4.3l.5-1.2l.5,.1l.5-1.5l.5-.6l.5,1.4l.5,.4l.5-.1l.5-.3l.5,.4l.5-.3l.5-.8l.5,.9l.5-1.3l.5,1.5l.5-1.3l.5-.7l.5,.4l.5,2.8l.5-.1l.5-1.5l.5,.6l.5-.8l.5,.3l.5-1l.5,1.3l.5-1.6l.5,.9l.5,1.5l.5-1.4l.5-1.1l.5,2l.5-2l.5,0l.5,.1l.5,.2l.5,2.8l.5-1.6l.5-1.6l.5-.5l.5,.6l.5,.7l.5-.6l.5,.2l.5,.5l.5-.2l.5,.2l.5-.4l.5,.7l.5-.8l.5,0l.5,.7l.5-.8l.5,.9l.5,1.5l.5-1.6l.5,.7l.5-.2l.5-.2l.5-.7l.5-.5l.5,1l.5,0l.5,0l.5,0l.5,0l.5,0l.5,0l.5,0l.5,0"/>
<path stroke="#ff0000" d="M146.0,1325.8l.5,0l.5,0l.5,0l.5,0l.5,0l.5,0l.5,0l.5,0l.5-.3l.5,.2l.5,.4l.5-.3l.5,.3l.5,0l.5-1l.5,.4l.5-.8l.5-.2l.5,.8l.5,.2l.5-.6l.5,1.6l.5-.2l.5-.3l.5-.3l.5,.2l.5,0l.5-.4l.5,.2l.5-.3l.5,.2l.5,.5l.5,.1l.5,.2l.5-.7l.5,.2l.5-.8l.5,.6l.5-.8l.5,1.2l.5-.5l.5,.6l.5-.6l.5-.5l.5,.5l.5-.1l.5-.1l.5-.6l.5,1.3l.5,.1l.5-.2l.5-.3l.5,.2l.5-.5l.5-.2l.5,.8l.5-1.3l.5,1.2l.5-.8l.5,.2l.5-.8l.5,1l.5-.3l.5-.2l.5-.1l.5,.6l.5-.9l.5,1.3l.5-.2l.5-.4l.5,.5l.5,.2l.5-1.3l.5,.1l.5,1.2l.5-1.5l.5,0l.5,.9l.5-1l.5,1.1l.5-.4l.5-.2l.5-.4l.5,0l.5,0l.5,.3l.5-1.3l.5,0l.5,.2l.5-.4l.5-1.5l.5-.2l.5,0l.5-1.1l.5-1.6l.5,.4l.5-1.5l.5-1.9l.5-.1l.5-2.2l.5,.4l.5-.4l.5-.3l.5-.5l.5,.7l.5,.9l.5,.6l.5,1.5l.5,.6l.5,.9l.5,1.1l.5,1.5l.5-.1l.5,1.1l.5,.3l.5,.5l.5,1.1l.5-.2l.5,1.2l.5-.4l.5,1.2l.5-.9l.5,.4l.5,1l.5-.9l.5,.4l.5-1.2l.5,.8l.5-.9l.5,.9l.5,.7l.5-.5l.5,0l.5-.2l.5,1.2l.5-.5l.5,.2l.5-.4l.5,0l.5,0l.5-.3l.5,.4l.5-.5l.5,.6l.5,.1l.5-.3l.5,0l.5,.5l.5-1.4l.5,1.5l.5,.2l.5-1.1l.5,.3l.5-.1l.5,.5l.5,.4l.5-.5l.5,0l.5,0l.5,0l.5-.5l.5,1l.5,.4l.5-.8l.5,.6l.5,.5l.5-2l.5,.6l.5,.4l.5-.1l.5-1l.5,.3l.5,.2l.5,.2l.5,.7l.5-.4l.5,.5l.5-1.3l.5,1.4l.5,.2l.5,.2l.5-1.1l.5,1.1l.5-1.1l.5,.2l.5,.2l.5-1.3l.5,1.2l.5-.4l.5,.7l.5-.3l.5-.7l.5,.7l.5-.4l.5-.3l.5,.3l.5,.3l.5-.3l.5,1l.5-.9l.5-.6l.5-.3l.5,.5l.5,.1l.5,0l.5,.5l.5-.6l.5-.1l.5,.7l.5,.4l.5-.8l.5-.4l.5,.9l.5-.3l.5-.1l.5-.3l.5,.3l.5,.6l.5-.7l.5,.5l.5-.2l.5-.4l.5,1.2l.5-1.3l.5,1l.5-.3l.5-.8l.5,0l.5,.9l.5,.1l.5,.1l.5-.2l.5-1.1l.5,.5l.5,.6l.5-.5l.5,.5l.5-.5l.5-.4l.5,1l.5-1l.5-.4l.5,.4l.5,.6l.5-.6l.5,1l.5,.1l.5-1.5l.5,1.6l.5-.2l.5-.2l.5-.1l.5-.5l.5,.2l.5-.3l.5,.2l.5,.2l.5,.7l.5-.7l.5,.4l.5-.1l.5-.2l.5-1.1l.5,.5l.5,0l.5,.9l.5-.6l.5,.2l.5-.2l.5-.2l.5,.5l.5-.1l.5-.2l.5,0l.5-.2l.5,1.6l.5-.9l.5-.3l.5,.3l.5-.1l.5,.7l.5-1.4l.5,.5l.5,.4l.5-1.2l.5,.9l.5-.6l.5,.2l.5-.2l.5,1.2l.5-.9l.5,0l.5-.4l.5-1l.5,.6l.5,.1l.5,1.3l.5-.7l.5,.1l.5,.5l.5-.7l.5-.5l.5,.3l.5-.3l.5-.2l.5,.8l.5-1.2l.5,1.2l.5-.2l.5-.2l.5,.1l.5,.5l.5-1.2l.5-.4l.5,.4l.5,.2l.5,.2l.5-.6l.5-.1l.5,.3l.5,0l.5,.8l.5-1.2l.5-.8l.5,.3l.5,.6l.5-.4l.5,.1l.5,.2l.5-1.8l.5,.3l.5-.3l.5,1.1l.5-1.5l.5-.3l.5-.7l.5,.6l.5-.4l.5-1.7l.5-.3l.5-.1l.5-.9l.5-.8l.5,.4l.5-.2l.5,0l.5,.3l.5,.9l.5,.3l.5,1.4l.5,.2l.5-1.4l.5,1.8l.5,.9l.5-1.2l.5,0l.5,1.5l.5-.5l.5,.2l.5,0l.5,.2l.5-.2l.5-.1l.5-.4l.5,.4l.5,0l.5,.1l.5,.2l.5,.3l.5,.2l.5-.1l.5-.2l.5,.6l.5-.2l.5-1l.5,.6l.5-.7l.5,.3l.5-1.9l.5-.9l.5-.6l.5-1.2l.5-1.9l.5-1.6l.5-1.6l.5-2.5l.5-.8l.5-1.5l.5-.6l.5,1.6l.5,.7l.5,1.7l.5,2.9l.5,1.1l.5,1.4l.5,2.2l.5,.2l.5,.7l.5,.9l.5,.3l.5,1.6l.5-.3l.5,.6l.5,.9l.5,0l.5-.1l.5,.7l.5-.8l.5,.1l.5-1.4l.5,1l.5-.6l.5,.3l.5,.5l.5-.2l.5-.4l.5-.3l.5-1.1l.5-.3l.5,.3l.5-.6l.5-.4l.5-1.2l.5-1.2l.5-.7l.5-1.7l.5-1.5l.5-3l.5-1.9l.5-2.3l.5-3.8l.5-1.8l.5-4.1l.5-4.1l.5-3l.5-2.6l.5-1.7l.5-1.9l.5-.3l.5,.2l.5,2.2l.5,1l.5,3.2l.5,2.5l.5,1.9l.5,2.3l.5,1.6l.5,2.4l.5,1.3l.5,1.9l.5,1l.5,.3l.5,.1l.5-.5l.5,2.1l.5-.9l.5,1.4l.5-.2l.5,1.9l.5,.1l.5,.8l.5,1l.5,.5l.5,.6l.5,.6l.5,1.5l.5,.2l.5,0l.5,1.1l.5-.7l.5-1l.5,0l.5,.3l.5-1.2l.5-.2l.5-.4l.5-1.5l.5-1.6l.5-1.2l.5-9.1l.5-41.3l.5-80.5l.5,.4l.5,80.1l.5,40.9l.5,7.5l.5,1.7l.5,.8l.5-.1l.5,.3l.5,1.7l.5,.3l.5-.8l.5-.5l.5,0l.5,.3l.5,.7l.5-2l.5,1.1l.5-.6l.5,.2l.5,.2l.5-.5l.5,.1l.5,1.3l.5,.9l.5-.4l.5,.1l.5,.5l.5,.6l.5,.2l.5,.7l.5,1.4l.5,1.2l.5,.4l.5-.2l.5,1.5l.5-.2l.5,.8l.5-.1l.5,1.6l.5,1.6l.5-1.4l.5,1.3l.5,.3l.5-.4l.5,1.2l.5,.7l.5-.1l.5-.2l.5,.5l.5-.8l.5,1.4l.5,0l.5,.3l.5-1.4l.5,0l.5,.7l.5,0l.5,0l.5-1.8l.5-.1l.5-.4l.5,.2l.5-1.1l.5,.6l.5,.6l.5,.2l.5,0l.5,1.2l.5-.4l.5,1.2l.5,0l.5,.4l.5,.1l.5-.2l.5,1l.5-.2l.5,.3l.5-.2l.5,.2l.5-.4l.5-.2l.5-.7l.5,.9l.5-.9l.5,.5l.5-.3l.5-1.2l.5-.6l.5-.7l.5-.5l.5-.6l.5-1.3l.5,.6l.5,0l.5,0l.5,.8l.5,.3l.5-.4l.5,2.2l.5-.9l.5,2.1l.5-.7l.5,2l.5-1.7l.5,1.3l.5-.2l.5,.1l.5-.2l.5-1.5l.5-1.2l.5-1.6l.5-2.7l.5-2.8l.5-1.1l.5-.6l.5,1.6l.5,3.3l.5,2.9l.5,1.4l.5,2.1l.5,.4l.5,.8l.5-.2l.5,.2l.5-.5l.5,.4l.5,.4l.5,.5l.5,.1l.5-.6l.5-.3l.5,.2l.5,.4l.5,.3l.5-.9l.5,.5l.5,1l.5-1.4l.5,1.6l.5-.7l.5-.2l.5-.4l.5,.5l.5,.1l.5-.3l.5-.5l.5,.7l.5-1.1l.5,.8l.5,.4l.5-.1l.5,.2l.5-.6l.5,.4l.5-.2l.5,.2l.5-1.1l.5,1.7l.5-.7l.5-.4l.5-.1l.5,.2l.5-.5l.5,.4l.5,.2l.5,.2l.5-.5l.5,.6l.5,.4l.5-1.4l.5,.3l.5-.1l.5-.8l.5-1.2l.5-1.3l.5-2l.5-2.1l.5-1.1l.5-.4l.5,.3l.5,2.5l.5,2l.5,1.7l.5,.8l.5,.3l.5,.5l.5-.3l.5,.1l.5,.5l.5,0l.5-.6l.5-.8l.5,1.1l.5-1l.5,0l.5-.2l.5-.3l.5-1.1l.5-.2l.5,.1l.5,0l.5-1.1l.5-.1l.5-.2l.5-.6l.5-.9l.5,.1l.5-1.3l.5-.6l.5-.4l.5-1.3l.5-.1l.5-.9l.5-.2l.5-.3l.5-.1l.5-1.7l.5,1.2l.5,.5l.5,.7l.5,.4l.5,.1l.5,.2l.5,.3l.5,0l.5,1.2l.5,.2l.5,.6l.5,.1l.5,.5l.5,.7l.5,.2l.5-.7l.5,1l.5,.7l.5-.3l.5,.5l.5-.5l.5,.2l.5-1.4l.5-.9l.5,.6l.5-.2l.5-.5l.5-.5l.5-.6l.5-1.5l.5-1.8l.5-.6l.5-.9l.5-4l.5-1.5l.5-7.4l.5-12.9l.5-23.4l.5-39.5l.5-54.1l.5-61.2l.5-41.2l.5-.2l.5,42.6l.5,59.8l.5,55.3l.5,38.4l.5,24.9l.5,12.6l.5,6.6l.5,1.4l.5,2.7l.5,2.1l.5,2.3l.5,.4l.5,.8l.5-.4l.5,2l.5,0l.5,1.7l.5-.2l.5-.3l.5,1.1l.5,.7l.5-.8l.5,.1l.5,0l.5-.6l.5,.3l.5-.9l.5-.2l.5-1.4l.5-1.4l.5-.3l.5-2l.5-1.7l.5,.1l.5-.7l.5-.3l.5-.4l.5,2l.5,2.1l.5,1.8l.5,.7l.5,.9l.5,.4l.5,1.3l.5-.2l.5-.2l.5,.4l.5-.9l.5-.2l.5-.8l.5-.1l.5-1.4l.5-.8l.5-.1l.5,.8l.5,0l.5,1.6l.5,.9l.5,1.6l.5,0l.5,1.6l.5,.4l.5,.7l.5,.6l.5,.2l.5,.2l.5,.6l.5-.2l.5,.3l.5-.2l.5,.5l.5-.6l.5,.3l.5,.7l.5-.4l.5,.3l.5,.4l.5-.7l.5-.7l.5,.3l.5,.4l.5-.3l.5-.1l.5-.3l.5,.2l.5-.6l.5,.5l.5,1.3l.5-1l.5-.5l.5,.5l.5,.5l.5-.9l.5,.1l.5,.4l.5-1.2l.5-.8l.5-.1l.5-.5l.5-.4l.5,0l.5-1.8l.5-.8l.5-2.6l.5-5.9l.5-10.4l.5-13.2l.5-14.9l.5-9.8l.5-1.4l.5,11.1l.5,14.7l.5,13.6l.5,11l.5,4.6l.5,2.8l.5,2.6l.5-.1l.5,.8l.5,1.1l.5-1l.5,0l.5-1.5l.5-3.6l.5-4.5l.5-4l.5,.9l.5,3.2l.5,5.6l.5,3.9l.5,1.5l.5,.2l.5,1.4l.5-.9l.5,.3l.5-1.3l.5-.2l.5-1.1l.5-2l.5-1.6l.5-2.6l.5-1.2l.5,.3l.5,1.2l.5,2.4l.5,1.7l.5,2.4l.5,1.2l.5,1l.5-.3l.5,1.7l.5,0l.5-.2l.5-.6l.5,1.1l.5-.3l.5-.9l.5,.2l.5,.9l.5-1l.5-.4l.5-.3l.5,1l.5-.1l.5,.1l.5-.7l.5,.6l.5,.6l.5-.8l.5,.6l.5-.5l.5,.8l.5-.4l.5-1.2l.5,1.6l.5-.7l.5-.3l.5,.6l.5-.5l.5,.3l.5,.4l.5,0l.5-.5l.5,.8l.5-.3l.5-.8l.5,.5l.5-.6l.5,.3l.5-1.4l.5-.1l.5-.1l.5-.3l.5-.1l.5-.3l.5-1.8l.5,0l.5-.2l.5-.6l.5-.4l.5-.3l.5,0l.5,.8l.5,1.2l.5-.1l.5,.4l.5,.8l.5,.5l.5,1.9l.5-1.7l.5,1l.5-.5l.5,.5l.5,.3l.5-.5l.5,1.3l.5-1.4l.5,1.3l.5,1l.5-.5l.5-.3l.5,.9l.5-.7l.5,.1l.5,0l.5-.1l.5,0l.5-.4l.5-.1l.5,.1l.5-.1l.5-.1l.5-.1l.5,0l.5-.8l.5,0l.5,.9l.5-.2l.5-.2l.5-1.3l.5,.1l.5-1.4l.5,.2l.5-.7l.5-.9l.5-1.3l.5-1.9l.5-2.6l.5-.6l.5-.8l.5-.2l.5-.1l.5,.7l.5,.7l.5,1l.5,1.2l.5,1.8l.5,.8l.5,1.6l.5,1l.5,.3l.5,1.1l.5,.2l.5,.5l.5-.2l.5,.7l.5-.1l.5,.7l.5-.3l.5-.6l.5,0l.5,.4l.5,.6l.5,.1l.5,0l.5,0l.5-.5l.5,.4l.5,.4l.5,0l.5-.3l.5,.5l.5-.4l.5-.4l.5-.4l.5-1l.5,.2l.5-.1l.5,.6l.5-.7l.5-.8l.5-.5l.5,1.3l.5-1.9l.5,.5l.5-.6l.5,.6l.5-.1l.5,.7l.5-.4l.5-.4l.5,.4l.5,.3l.5,1l.5,0l.5,.3l.5-.4l.5-.4l.5,1l.5-.3l.5-.8l.5-.1l.5,.7l.5-.8l.5-.8l.5-.2l.5,.5l.5-1l.5,.2l.5,.5l.5-1.2l.5,1.1l.5,.1l.5,.8l.5-.4l.5,.3l.5,.7l.5-.9l.5,.8l.5-.7l.5,.6l.5-.8l.5,.5l.5,.2l.5-.1l.5,.2l.5-.2l.5-.9l.5-.2l.5,.2l.5-.2l.5,.2l.5-.7l.5-.4l.5-.2l.5-1.6l.5,.1l.5-.7l.5-1.1l.5,0l.5-1.5l.5,.4l.5-1.7l.5-.2l.5-2.6l.5-.9l.5-.6l.5-1.5l.5-.9l.5-2l.5-1.4l.5-.7l.5-1.9l.5-.8l.5-1.6l.5-1.4l.5-1.3l.5-.2l.5-1.1l.5-.9l.5-.4l.5-.4l.5,.8l.5-.6l.5,1.8l.5,.1l.5,.5l.5,1.1l.5,2l.5,1.6l.5,1.4l.5,.9l.5,2.1l.5,.8l.5,1.7l.5,.3l.5,.9l.5,1.8l.5,.4l.5,1.9l.5,.6l.5,1.5l.5,.4l.5,.6l.5,.9l.5,.2l.5,1l.5,.7l.5,.5l.5,0l.5,.7l.5,.4l.5,.3l.5,0l.5,1.8l.5-.6l.5-.2l.5,.1l.5,.8l.5-1.2l.5,.6l.5,.5l.5-.8l.5,.2l.5,1.1l.5,.4l.5-.6l.5-.8l.5-.1l.5,.3l.5-.4l.5,.3l.5-.8l.5,.1l.5,.7l.5-.5l.5-.2l.5-.5l.5,.5l.5-.6l.5-.8l.5,.2l.5-1.2l.5-.7l.5,0l.5-1.1l.5-1.1l.5-1l.5-1.9l.5-8.7l.5-27.9l.5-36.9l.5-.6l.5,37.8l.5,27.1l.5,6.3l.5,3.1l.5,.4l.5,.9l.5,0l.5,0l.5,.2l.5-.6l.5-.9l.5,.6l.5-1.1l.5,.4l.5-1.1l.5-.1l.5-.9l.5-.5l.5-1.1l.5-.3l.5-.3l.5,.1l.5-.7l.5-.1l.5,.5l.5,.7l.5,0l.5,1.4l.5-.5l.5,2.1l.5-.5l.5,1.8l.5,.8l.5,.7l.5,.3l.5,1.2l.5,.2l.5,.6l.5,.6l.5,1.3l.5-.7l.5,1.3l.5-.9l.5,1.4l.5,.9l.5-1.7l.5,.3l.5,0l.5-.5l.5-1.9l.5,.2l.5-.7l.5-.7l.5-.6l.5,.7l.5-.3l.5,1l.5,.4l.5,.8l.5-.6l.5,1.9l.5-.1l.5,2.2l.5-.1l.5,.9l.5-.3l.5,1.9l.5-.1l.5,.4l.5-1.2l.5,.8l.5-.4l.5,.1l.5,.3l.5-.6l.5,.7l.5-.6l.5,.7l.5-.4l.5-.1l.5,1l.5-.8l.5,.2l.5,.3l.5-1.4l.5,.7l.5-.1l.5-.3l.5,.6l.5,.5l.5-.8l.5,1.2l.5,0l.5-.8l.5-.1l.5,.7l.5-.2l.5,.1l.5-.6l.5,0l.5,.1l.5-.2l.5-.4l.5,.6l.5-.1l.5,.2l.5-.9l.5,.3l.5-.3l.5,.4l.5,.8l.5-.7l.5-.6l.5-.7l.5,1.4l.5-1.5l.5-.4l.5,.7l.5-.2l.5-2.4l.5,1l.5-.1l.5-.8l.5-1.1l.5,0l.5-1.9l.5-.5l.5-8.1l.5-23.2l.5-33.5l.5,.7l.5,32.8l.5,23.3l.5,8.4l.5,1l.5-.2l.5,1.9l.5,.2l.5,1.1l.5,.3l.5,.6l.5,.5l.5-.2l.5,.8l.5-.6l.5,.2l.5,.8l.5,.2l.5-.8l.5,.1l.5,.9l.5-.1l.5,.1l.5-.6l.5,.4l.5,.1l.5,.6l.5,.1l.5-1l.5-.4l.5,1.9l.5-.7l.5-1.6l.5-1.6l.5-6.3l.5-14.5l.5-14l.5-.9l.5,15.4l.5,13.1l.5,7.5l.5,1.6l.5,1.2l.5,.6l.5,0l.5-.2l.5,.7l.5-1.2l.5,.6l.5,1.2l.5-.5l.5-.1l.5,0l.5-.6l.5,.2l.5-.2l.5,.5l.5-.8l.5,.8l.5,.1l.5-.6l.5,.7l.5-.9l.5-.3l.5,.2l.5,.9l.5-.2l.5-.6l.5,.3l.5-.7l.5-.1l.5,.2l.5-.2l.5,1.1l.5,0l.5-.5l.5-.6l.5,1.3l.5-.3l.5-.3l.5,.3l.5,.9l.5-.7l.5,0l.5,0l.5,.3l.5-.5l.5,.8l.5-.6l.5-.2l.5-.3l.5-.4l.5,.5l.5-.6l.5,.3l.5,.7l.5-.8l.5,0l.5-.4l.5,.6l.5-.1l.5-.4l.5,.5l.5,.8l.5-.5l.5-.5l.5,.3l.5-.4l.5-.4l.5,.3l.5,0l.5,.1l.5-.1l.5,.1l.5-.4l.5,.2l.5-.1l.5,.8l.5-.9l.5,.2l.5-.3l.5-.4l.5-.3l.5-.9l.5,0l.5,0l.5,0l.5,0l.5-1.6l.5-1.5l.5,.6l.5-2.6l.5-5.4l.5-18.9l.5-28.1l.5,.3l.5,27.6l.5,18.7l.5,6.7l.5,.7l.5,.6l.5,1.6l.5-.5l.5,1.2l.5,.2l.5-.1l.5,.6l.5,1l.5-.1l.5,.2l.5-.1l.5,0l.5-.5l.5,.5l.5,.9l.5-.1l.5-.4l.5,.6l.5,.9l.5-.7l.5-.1l.5-.3l.5,.2l.5-.1l.5-.3l.5-.1l.5-1.5l.5-.1l.5,.8l.5-1.1l.5-1l.5-.1l.5,0l.5,0l.5,.5l.5,.6l.5-.2l.5,.3l.5,.3l.5,.2l.5,.4l.5,1.3l.5,.3l.5-.9l.5,.2l.5,.9l.5,0l.5-.5l.5,.7l.5-.4l.5-.7l.5,.1l.5-.6l.5,.5l.5-1.3l.5-.7l.5,.9l.5-.8l.5,.7l.5-.2l.5-.6l.5,.5l.5,.5l.5-.1l.5,1l.5-.3l.5-.5l.5,.6l.5,.2l.5,.4l.5-.3l.5,1.6l.5-.1l.5-.8l.5-.5l.5,.6l.5,.6l.5-.1l.5-.1l.5-.8l.5,.1l.5,.1l.5,.2l.5,1.4l.5-.3l.5-.5l.5-.1l.5-.8l.5,.3l.5,.2l.5-.1l.5,.2l.5-.1l.5,.2l.5-.3l.5,.6l.5-1.1l.5,.6l.5-.2l.5,.4l.5,.3l.5-.6l.5,0l.5,.2l.5-.8l.5,.8l.5,.3l.5-.7l.5,.2l.5-1l.5,.8l.5,.2l.5-.6l.5-.3l.5,1.2l.5-1.7l.5,.3l.5-.9l.5-.5l.5-.6l.5,.1l.5-1.6l.5,.8l.5,.1l.5-1.8l.5,.3l.5-.2l.5-1l.5,.7l.5-.4l.5,.5l.5,.7l.5,.7l.5,.9l.5-1.4l.5,.8l.5,.6l.5,.3l.5-.2l.5-1.5l.5-6.2l.5-12.2l.5-13.9l.5,1.4l.5,13.5l.5,12.7l.5,5.6l.5,2l.5,1.6l.5,.1l.5,.3l.5-.1l.5-.2l.5,0l.5,0l.5-.7l.5,1.1l.5-1.2l.5,1.2l.5-.1l.5-.3l.5-1.1l.5,1.5l.5-.2l.5,1.5l.5-1.6l.5,.4l.5-.5l.5-.4l.5,1l.5,.2l.5-1.5l.5,1l.5-.2l.5,.5l.5-.3l.5,.4l.5-.5l.5,.1l.5-.5l.5,1.2l.5-1l.5,.5l.5-.1l.5,.1l.5-1.1l.5,.6l.5,0l.5-.2l.5,.5l.5,.4l.5-.2l.5,.2l.5-.2l.5-.4l.5-.6l.5,.6l.5-.3l.5,0l.5,.1l.5,0l.5,1.1l.5-.8l.5,.2l.5-1l.5,.9l.5-.9l.5,1.8l.5-1.3l.5,0l.5,.4l.5,.2l.5-.4l.5-.4l.5,.8l.5,0l.5-.2l.5,.3l.5-.7l.5-.2l.5,.2l.5,.3l.5-.1l.5,1l.5-.5l.5,.3l.5-1.4l.5,1.1l.5-.8l.5-.7l.5,.1l.5,.3l.5,.2l.5-.2l.5-.6l.5-.2l.5-.1l.5,.2l.5-.1l.5-.8l.5,0l.5-1.1l.5-.2l.5,1.5l.5-.9l.5-.9l.5,.6l.5,1.1l.5-.4l.5,.5l.5,.2l.5-.4l.5,1.4l.5-.7l.5,1.1l.5-.4l.5,.4l.5,0l.5-1.1l.5,1.5l.5-1.1l.5,1l.5-.3l.5-.6l.5,.5l.5-.1l.5,.3l.5,0l.5-.5l.5,.3l.5,.6l.5-.6l.5,.1l.5-.2l.5,.1l.5-.1l.5,.6l.5,.1l.5-.7l.5,.2l.5-.5l.5,.2l.5-.4l.5,.8l.5-.1l.5-.3l.5,.4l.5-.7l.5-.8l.5,.5l.5-.4l.5,.8l.5-.7l.5,.3l.5,.7l.5-.7l.5,.1l.5-1.1l.5,1.5l.5-.9l.5-.5l.5,.2l.5-1.4l.5-.4l.5-.2l.5-.2l.5-.3l.5-.9l.5-.5l.5-.1l.5,.3l.5-.1l.5,.7l.5-.1l.5,.3l.5,.5l.5,.5l.5,0l.5-.4l.5-.1l.5-.3l.5,.3l.5,.1l.5-.1l.5-.9l.5-1.3l.5,.9l.5-.9l.5-.1l.5-1.5l.5-.1l.5-1.7l.5-.2l.5-2.3l.5-10.6l.5-33l.5-49.2l.5-.4l.5,48.8l.5,33.7l.5,10.9l.5,2.1l.5,1.4l.5,0l.5,1.6l.5,.2l.5-.9l.5,1.7l.5,.5l.5,.7l.5,.3l.5,.2l.5-.4l.5,.3l.5,0l.5,1.5l.5-.3l.5,.8l.5-1.9l.5,1.3l.5,.8l.5-.1l.5-.7l.5,2.3l.5-1.2l.5-.2l.5,.3l.5-1.7l.5,.3l.5-1l.5-1.2l.5-.1l.5-.3l.5,0l.5,1.5l.5,.8l.5,0l.5,2.2l.5-.6l.5-.4l.5,1l.5-1.1l.5-.2l.5,.7l.5,.4l.5-.4l.5-.1l.5,.5l.5,.4l.5-.4l.5,.4l.5-.7l.5-.5l.5-.2l.5-.3l.5,1l.5,.4l.5-.6l.5,1l.5-.6l.5-.7l.5,1l.5-.2l.5-.2l.5-.1l.5-1.4l.5,1.5l.5-.4l.5,0l.5,.2l.5-.1l.5-.5l.5,0l.5,.4l.5-.9l.5,.4l.5,.4l.5-.5l.5,0l.5,.9l.5-.6l.5,.2l.5-1.3l.5,.9l.5,.7l.5-.4l.5-.7l.5,1.4l.5-1l.5,0l.5,.5l.5-.6l.5,.6l.5-.5l.5-.2l.5,.5l.5-.2l.5-.5l.5,.6l.5,.5l.5-.1l.5-1.3l.5,.7l.5-.3l.5,.4l.5,.9l.5-.7l.5,.2l.5-.5l.5-.6l.5,.5l.5,.7l.5-.6l.5-.3l.5,.1l.5,.2l.5,0l.5-.6l.5,.3l.5,.8l.5-.1l.5-.8l.5-.1l.5-.3l.5,.5l.5-.2l.5,.1l.5,.3l.5,.4l.5-.8l.5,.6l.5-.9l.5,.8l.5,.2l.5-.6l.5,.2l.5,.5l.5,.2l.5-1l.5,.4l.5-.4l.5,0l.5-.1l.5,.3l.5-.2l.5,.5l.5-.9l.5,.9l.5-.8l.5,.5l.5-.2l.5-.4l.5,1.1l.5-.7l.5,.6l.5-.5l.5,.3l.5-.1l.5,.6l.5-.9l.5,.8l.5-.5l.5,.1l.5,.1l.5-.5l.5-.1l.5-.2l.5,1.9l.5-1.8l.5,.3l.5,0l.5-.9l.5,.2l.5,.1l.5,1l.5-.6l.5,1.3l.5-.5l.5-.2l.5,0l.5,.2l.5-1.2l.5,.6l.5,.3l.5,0l.5-.6l.5,.2l.5-.4l.5,.5l.5-.5l.5-.3l.5,.7l.5-.7l.5,.1l.5-.2l.5,.5l.5-1.2l.5-.3l.5,1l.5-1.3l.5-1.8l.5,1.5l.5-1l.5,0l.5,0l.5-3.7l.5-7.3l.5-14.6l.5-15.7l.5,.7l.5,14.3l.5,14.6l.5,8.5l.5,2l.5,2l.5-.2l.5,0l.5,.8l.5,.3l.5,.3l.5-.1l.5-.8l.5,.4l.5,.4l.5-1l.5-1.8l.5-.9l.5-2.4l.5-2.8l.5-1l.5-.2l.5,1.9l.5,2.5l.5,1l.5,3.8l.5,1.2l.5,.4l.5,.2l.5,.5l.5,.1l.5-.2l.5,0l.5-.5l.5,.6l.5-.7l.5-.7l.5-.4l.5-.1l.5-.8l.5,1l.5-1.4l.5,.1l.5-.8l.5,.2l.5-.3l.5,1.6l.5,.9l.5-.8l.5,1.1l.5,.6l.5,0l.5,1.7l.5-.3l.5,0l.5,.2l.5,0l.5-.2l.5,.4l.5,.6l.5,0l.5-.4l.5-.2l.5,.6l.5-.9l.5,.9l.5,.1l.5-.2l.5-1.1l.5,1.3l.5,0l.5-.8l.5,.3l.5,.7l.5-.5l.5-.3l.5,.5l.5-.1l.5,.1l.5,.2l.5,.3l.5-.3l.5,0l.5,.3l.5-.5l.5,.5l.5-.3l.5-.6l.5,1.3l.5-.4l.5-.2l.5,.5l.5-.4l.5,.7l.5,.4l.5-.3l.5-.3l.5-.8l.5,.5l.5,1l.5-.2l.5-.6l.5-.3l.5,.7l.5-.5l.5,.4l.5-.2l.5,0l.5-.8l.5,1l.5-.1l.5-.8l.5,.9l.5-.5l.5,1l.5,0l.5-.7l.5,.2l.5,.7l.5-.7l.5-.7l.5,.3l.5-.1l.5,.7l.5-.6l.5-.2l.5,.5l.5-.5l.5,.9l.5-.7l.5,.4l.5-1.1l.5,1.1l.5-.1l.5,.5l.5-.9l.5,1.3l.5-.4l.5,.6l.5-.2l.5-.7l.5,.2l.5-.2l.5-.1l.5,.1l.5,.1l.5,1.2l.5-1.2l.5,.2l.5-.7l.5-.2l.5,.5l.5,.3l.5-.8l.5,.5l.5,.5l.5-.6l.5,.2l.5-.3l.5,.9l.5-.3l.5-.2l.5-.1l.5,1.2l.5-.4l.5-1.1l.5-.2l.5,.8l.5-.1l.5-.6l.5,.6l.5-.2l.5,.8l.5-.1l.5,0l.5-.7l.5,0l.5-.6l.5,.9l.5,.3l.5-.5l.5-.4l.5,1.4l.5-1.7l.5,.9l.5-.1l.5,0l.5,0l.5,.2l.5,.1l.5-1l.5,.5l.5-.1l.5,0l.5,.5l.5-1.2l.5,.4l.5,.1l.5,.3l.5-.5l.5-.2l.5,1l.5-1.3l.5,.1l.5-.2l.5,.4l.5,.5l.5-.6l.5-.3l.5,.2l.5-.2l.5,.2l.5-.1l.5-.9l.5-.6l.5,1l.5-.3l.5-2l.5,.7l.5-.3l.5,0l.5-2.5l.5,.3l.5-1.1l.5-2l.5-6.6l.5-22.2l.5-31.6l.5,.8l.5,31.1l.5,21.1l.5,8.4l.5,2.1l.5,.4l.5,.2l.5,1.8l.5-.5l.5,1.3l.5-.4l.5,.8l.5,.7l.5-.4l.5,.6l.5,.1l.5-.3l.5,0l.5,.3l.5-.9l.5,1.1l.5,.5l.5,.4l.5-.7l.5-.5l.5,.4l.5,.7l.5-.4l.5,.5l.5-.4l.5-.1l.5-.3l.5,.7l.5,0l.5-.2l.5,.1l.5,.4l.5-.2l.5,.6l.5-.4l.5-.3l.5-.5l.5,1l.5-.6l.5,0l.5-1.7l.5,.9l.5,.1l.5-.3l.5,.7l.5-.8l.5,.3l.5-.1l.5-.2l.5-.5l.5,1.3l.5-1l.5-1.5l.5,.6l.5,.1l.5,.3l.5-.3l.5-1.5l.5,.4l.5,.2l.5-1.1l.5,0l.5-.3l.5-.4l.5-.4l.5,0l.5-1.5l.5-.2l.5,.4l.5-.1l.5-2.2l.5-.8l.5-1.1l.5,.8l.5-.6l.5,.1l.5,0l.5-1.2l.5,.3l.5-.5l.5-.1l.5,.8l.5-.9l.5,.3l.5-.2l.5,.8l.5,1.2l.5,.2l.5,.4l.5,.9l.5-.2l.5,.8l.5-.3l.5,1.7l.5,.4l.5-.4l.5,.8l.5,1.4l.5,.2l.5-.3l.5,.8l.5,.2l.5,.5l.5-.9l.5,1.9l.5,.3l.5-.1l.5,0l.5,.5l.5,.8l.5-.6l.5,.4l.5-.9l.5,.3l.5,.9l.5-.2l.5-.4l.5,0l.5,1l.5-.9l.5,.3l.5-.4l.5,.4l.5,1.3l.5-.9l.5-.1l.5,0l.5-.2l.5,.5l.5-.3l.5,.3l.5,.7l.5-.8l.5,.2l.5-.9l.5-.9l.5,.7l.5-.2l.5-.2l.5-.1l.5-.3l.5,0l.5-.5l.5,.7l.5,.4l.5,.5l.5,0l.5-.1l.5-.4l.5,.6l.5,.1l.5,.3l.5,.9l.5-.6l.5-.3l.5,.1l.5,.2l.5,.5l.5-.5l.5,.4l.5-1l.5,.6l.5-.3l.5,.7l.5-.3l.5-.3l.5,.2l.5,.2l.5-1.2l.5,.5l.5-.6l.5-.2l.5-2l.5-2.2l.5-2.8l.5-2.7l.5-2.7l.5,.7l.5,1l.5,3.3l.5,3.1l.5,2.5l.5,2.3l.5-.4l.5,1.9l.5-.8l.5,.2l.5-.1l.5-.2l.5,0l.5,.5l.5-.7l.5,.7l.5-.4l.5-.2l.5-.2l.5,0l.5-.3l.5,.1l.5,.5l.5-.8l.5-.7l.5,1.1l.5-.9l.5,.1l.5-1.3l.5,.2l.5,.5l.5-.6l.5,.9l.5-.4l.5,1.1l.5,.2l.5,.3l.5-.7l.5,.6l.5,.4l.5,0l.5,.1l.5,.2l.5-1.2l.5,1.1l.5,.1l.5,.6l.5-.1l.5,0l.5,.6l.5-.8l.5,.2l.5,.2l.5-.3l.5-.3l.5-.1l.5,0l.5,1.2l.5-.7l.5,0l.5-.1l.5-.6l.5,1.3l.5-.8l.5,.1l.5-1.4l.5,1.5l.5-.4l.5-.8l.5,1.2l.5-1.8l.5,.2l.5,0l.5-.9l.5,.3l.5,.6l.5-.7l.5,0l.5-.6l.5,.1l.5,.7l.5,.2l.5-.2l.5,.9l.5-.7l.5,.7l.5,.5l.5,.6l.5-.5l.5-.1l.5,.7l.5-.6l.5,.5l.5-.2l.5-.2l.5,1.6l.5-.8l.5-.6l.5,.9l.5-.7l.5-1l.5,1l.5-.1l.5,0l.5,.2l.5,.6l.5-.5l.5-.8l.5,.5l.5-.4l.5,.1l.5-.3l.5,.7l.5-.1l.5,.5l.5-.3l.5-1.2l.5,.9l.5,.4l.5,.6l.5-.9l.5,.2l.5,.4l.5-.2l.5-.6l.5,0l.5,.8l.5-1.3l.5,.7l.5-.6l.5,.7l.5,.1l.5-.7l.5,0l.5,.3l.5,.3l.5,.2l.5-.1l.5,.3l.5-1.1l.5,.2l.5,.4l.5-.5l.5,1l.5-.5l.5-.1l.5-.8l.5,.2l.5,.3l.5,.3l.5-.5l.5,.1l.5,.1l.5,1l.5-1.7l.5,.1l.5-.8l.5,1.5l.5,0l.5-.9l.5-.4l.5-1.1l.5-1.6l.5-5.8l.5-12.1l.5-14.5l.5-.2l.5,13.9l.5,12.7l.5,5.5l.5,1.1l.5,1.2l.5-1.1l.5-.1l.5-1l.5-.4l.5,.6l.5-.6l.5-1.6l.5-.9l.5-1.7l.5-7l.5-25l.5-35.7l.5,.6l.5,35.7l.5,24.2l.5,7l.5,1.6l.5,1.2l.5,.9l.5-1.1l.5-9.5l.5-18.2l.5,.5l.5,18.8l.5,9.6l.5,3.2l.5-.9l.5,1.2l.5-.4l.5-.7l.5-1.4l.5-3.1l.5-3l.5,.9l.5,2.7l.5,2.7l.5,1.7l.5,1.7l.5-.3l.5,.6l.5,.1l.5,.3l.5-.1l.5-.1l.5-.2l.5,.1l.5,0l.5,.3l.5-.3l.5,.8l.5,.1l.5-.6l.5,.5l.5-.4l.5-.1l.5,0l.5,.6l.5-.4l.5-.1l.5-.1l.5,.8l.5-1.2l.5,1.7l.5-.7l.5,0l.5,0l.5,0l.5-.2l.5-.4l.5-.4l.5,1.8l.5-1.4l.5,.5l.5-.1l.5-.7l.5,.7l.5-.3l.5-.1l.5,.3l.5-.3l.5,.4l.5,.3l.5-.7l.5,.4l.5,.4l.5,.1l.5,.3l.5-.9l.5-.1l.5-.2l.5,.7l.5-.7l.5,1.1l.5-.4l.5,0l.5,.4l.5-1.4l.5,.6l.5-.5l.5,0l.5,0l.5,.2l.5,.5l.5,1l.5-.8l.5-.2l.5-.4l.5,.8l.5-.2l.5-.6l.5,1.1l.5-.4l.5-.4l.5-.2l.5,.5l.5-.5l.5,1.1l.5,.4l.5-1.2l.5,.1l.5,1l.5-.4l.5-.1l.5,.1l.5-1.3l.5,1.6l.5-1.4l.5-.3l.5,.7l.5-.4l.5,.9l.5-.9l.5,.8l.5-1.1l.5,.3l.5,.6l.5,.7l.5-1l.5,.6l.5-.5l.5,.3l.5-.2l.5,.3l.5,.8l.5-1l.5-.6l.5,.3l.5,.5l.5,.1l.5-.2l.5-.5l.5,1l.5-1.5l.5,1l.5-.2l.5-.9l.5,1l.5,.2l.5,.5l.5-.1l.5-1.3l.5,.7l.5,0l.5,.3l.5,1.3l.5-2.5l.5,1.8l.5-.9l.5,.3l.5-.7l.5,.7l.5-.1l.5-.2l.5-.4l.5,.7l.5,0l.5,.6l.5,0l.5-.1l.5-.5l.5-.5l.5,.6l.5-.8l.5-.3l.5,.6l.5-.6l.5,.8l.5,.8l.5-1.7l.5,1l.5-1l.5,1l.5,.7l.5-1l.5,.9l.5-1.2l.5,.8l.5-.5l.5-.8l.5,.9l.5-.7l.5-.1l.5,.7l.5-.5l.5-.4l.5,.6l.5-.5l.5-.3l.5,.2l.5,0l.5-.2l.5,.8l.5-.4l.5,.3l.5-.4l.5-.2l.5-.8l.5,.1l.5-.9l.5,1.3l.5-2.5l.5,.4l.5,.1l.5-1.8l.5-.5l.5-.4l.5-1l.5,.7l.5-.1l.5,.2l.5,.9l.5,.5l.5-.5l.5,1l.5,1l.5,.2l.5,.1l.5,1.2l.5,.1l.5-.2l.5,.2l.5,1.8l.5-.5l.5-.9l.5,1l.5-.7l.5-1.4l.5-1.1l.5-3.2l.5-4.5l.5-3.5l.5-.1l.5,3.4l.5,5.6l.5,2.8l.5,1.6l.5,.5l.5,.4l.5,.4l.5-.9l.5,.3l.5,.2l.5,.1l.5-.8l.5,.8l.5,0l.5,.6l.5-.8l.5,.4l.5,.6l.5-1.6l.5,1.1l.5-.3l.5,.8l.5-1.2l.5,.5l.5,.9l.5-.2l.5,.4l.5-.5l.5-1.2l.5,2.1l.5-.1l.5-.6l.5-.3l.5-.2l.5,.6l.5-.9l.5,.4l.5,.5l.5-.8l.5,0l.5,.2l.5,.6l.5-.8l.5,.4l.5,.3l.5-.5l.5,.1l.5-.6l.5,.6l.5-1.3l.5,.2l.5,1.6l.5,.2l.5-.8l.5,.4l.5-.6l.5,1l.5-1l.5,.1l.5,.3l.5-.2l.5,.6l.5-.3l.5,.2l.5-.7l.5,1l.5,.1l.5-.4l.5-1.1l.5,1l.5-.1l.5,.2l.5-.8l.5,.7l.5,0l.5-.6l.5,.3l.5,.2l.5-.5l.5-.1l.5-.1l.5,.2l.5-.3l.5,.8l.5-.5l.5,.6l.5,.2l.5-.6l.5-.4l.5,.1l.5,.1l.5-.2l.5-2.7l.5-5l.5-5.6l.5-4.3l.5-.2l.5,5l.5,5.2l.5,4.2l.5,3l.5,.5l.5-.9l.5,.9l.5-.4l.5,.5l.5,.6l.5-.7l.5-.1l.5-.1l.5,0l.5,.8l.5-.8l.5-.4l.5,1.4l.5-.7l.5,0l.5,.5l.5-.2l.5-.4l.5-.6l.5,1.1l.5-.1l.5,.3l.5,.6l.5-.8l.5,.4l.5-.9l.5,1.2l.5-.3l.5-.7l.5,.2l.5-.2l.5-.1l.5,.6l.5-.5l.5,.3l.5,.2l.5-.2l.5-.7l.5,1.3l.5-2.1l.5,.9l.5,.9l.5-.3l.5,0l.5-.2l.5,.1l.5-.7l.5-.1l.5,.2l.5,.6l.5-.2l.5,.5l.5,.1l.5-1l.5,.3l.5,.7l.5-1l.5,.4l.5-.5l.5,.8l.5-.1l.5-.4l.5-.1l.5,.3l.5,.8l.5-1.1l.5,.5l.5-1.4l.5,1.8l.5-.7l.5,.3l.5-.4l.5,.6l.5-.8l.5,.2l.5,.7l.5-.4l.5-.3l.5-.9l.5-1l.5-1.4l.5-1l.5-1.7l.5-1l.5,0l.5,.8l.5,1l.5,2l.5,.7l.5,1.5l.5,1.3l.5-.6l.5,.6l.5,.6l.5-1.2l.5,.6l.5,.8l.5-.2l.5-.6l.5,.6l.5-.8l.5,0l.5,.4l.5-.4l.5,.3l.5-.1l.5-1l.5,1.3l.5-.5l.5-.1l.5-.2l.5,.5l.5-.2l.5,.1l.5,.4l.5-.3l.5,.1l.5,0l.5,0l.5,1l.5-1.7l.5,.6l.5,.1l.5-.4l.5,.6l.5-.6l.5,.6l.5-.7l.5,0l.5,.6l.5,.1l.5,.2l.5,.1l.5-.4l.5,.9l.5-1.2l.5-.3l.5,.4l.5-.1l.5,.3l.5,.7l.5-1.5l.5,1l.5,.3l.5-.9l.5,.7l.5-.1l.5-.2l.5,.1l.5-.1l.5-.2l.5,0l.5,.6l.5,0l.5-.1l.5,.5l.5-.7l.5,.3l.5-.6l.5,.2l.5-.7l.5,.7l.5-.3l.5,.3l.5,.5l.5-.2l.5,.1l.5-.5l.5,.2l.5-.5l.5,.6l.5,.1l.5-.6l.5,.8l.5-1.7l.5,0l.5,.2l.5,.4l.5-1.6l.5-2.1l.5-3.7l.5-7l.5-4.3l.5,.1l.5,4.7l.5,5.6l.5,4.7l.5,1.9l.5,2.4l.5-.4l.5,0l.5,.2l.5-.1l.5,.3l.5-1.2l.5,.4l.5,0l.5,.7l.5-.3l.5,0l.5,.6l.5-.5l.5,.4l.5,.2l.5-.2l.5-.1l.5-.6l.5-.3l.5,.4l.5-1.2l.5,1.9l.5-.1l.5-.7l.5-.5l.5,1.4l.5-.9l.5,.6l.5-.2l.5,.2l.5,0l.5,.2l.5-1.5l.5,1.1l.5,.2l.5,1l.5-1.7l.5,.2l.5,.9l.5-.6l.5-.1l.5-.4l.5,1.3l.5-.9l.5-.1l.5,.8l.5-1.1l.5,.1l.5,.4l.5-1.6l.5-3.2l.5-6.6l.5-6.9l.5-.5l.5,8.3l.5,5.9l.5,2.6l.5,.9l.5,.4l.5,.4l.5-.2l.5,.6l.5-1.1l.5,0l.5-.6l.5-3.6l.5-5.8l.5-7.6l.5-1l.5,7.3l.5,7.7l.5,3.1l.5,1l.5,.2l.5-.1l.5-.2l.5-.3l.5,.7l.5-.2l.5,.6l.5,.4l.5-1.5l.5,.3l.5,.8l.5-.2l.5,.1l.5-1.2l.5,1.3l.5-.7l.5,.6l.5-.6l.5-.6l.5,.6l.5,1.1l.5-.6l.5-.5l.5-.1l.5,.7l.5,.1l.5,.4l.5,.1l.5-1.6l.5,1.2l.5,.1l.5-.1l.5-.7l.5,.8l.5-.9l.5-.6l.5,.8l.5,1.3l.5-.6l.5-.6l.5-.5l.5,.9l.5-.4l.5-.3l.5,1l.5-.4l.5-.1l.5,.8l.5,0l.5-1l.5-.7l.5,.3l.5,.6l.5-.4l.5,.2l.5-.2l.5,0l.5,.9l.5,.2l.5-1l.5-.1l.5,.7l.5-.1l.5-.5l.5,.1l.5,.5l.5-.6l.5,.4l.5,.2l.5-.2l.5-.2l.5-.2l.5,0l.5,.7l.5-.3l.5,.4l.5-.8l.5,.2l.5,.2l.5,.5l.5-1.3l.5,1l.5,0l.5-.5l.5-.2l.5,.1l.5,.4l.5-.2l.5-.4l.5-.1l.5,0l.5,0l.5-.7l.5-1.1l.5-2.8l.5-1.1l.5-2.8l.5-.9l.5,.6l.5,.1l.5,3l.5,1.4l.5,2.1l.5,.8l.5,1.4l.5-.3l.5-.3l.5,.9l.5-1.1l.5,.6l.5,1.4l.5-1.4l.5,.6l.5-.5l.5-.2l.5,.3l.5,.8l.5-.2l.5-.9l.5,1l.5-.5l.5,.2l.5,1l.5-.5l.5-.8l.5,.6l.5-.7l.5,1.4l.5-.8l.5-.7l.5,.2l.5,.3l.5-.2l.5-.7l.5,1l.5-.3l.5,.8l.5-.5l.5,.4l.5-.5l.5,.4l.5-1.1l.5,1.4l.5-1.2l.5,1l.5-.2l.5-.4l.5,1.3l.5-1.8l.5,1.7l.5-1.4l.5,.3l.5-.1l.5-.1l.5,.2l.5-.4l.5,0l.5-.2l.5,.4l.5-.2l.5,.8l.5,.1l.5,0l.5,0l.5,0l.5-.3l.5,1l.5-.7l.5-.5l.5-.3l.5,.6l.5,0l.5-.2l.5,0l.5,0l.5,0l.5-.4l.5,.7l.5-.5l.5-.3l.5-.4l.5-.2l.5,.7l.5,.6l.5-1.8l.5,2.7l.5-1.6l.5,.3l.5-.2l.5,.5l.5-.2l.5,0l.5,.3l.5-.1l.5,.3l.5-.4l.5-.1l.5,.3l.5,.9l.5-.5l.5-.6l.5,.6l.5-1.5l.5,1.1l.5-.6l.5,.2l.5,.4l.5,.2l.5-.2l.5-.1l.5,.1l.5-1l.5,1.5l.5,.4l.5-.6l.5,.1l.5-1l.5,.9l.5-.5l.5-.3l.5,.2l.5-.2l.5,.5l.5-.2l.5-.2l.5,.7l.5-.2l.5,.3l.5,0l.5-.5l.5-.7l.5-.1l.5,1.1l.5-.9l.5,1.5l.5-1l.5-.4l.5,1l.5-1.1l.5,.3l.5,.7l.5,.1l.5-1l.5,.5l.5-.5l.5,.3l.5-.5l.5,1.2l.5-.3l.5,.4l.5-.7l.5-.5l.5,1l.5-.1l.5-.3l.5,.9l.5-.9l.5,0l.5-.6l.5,.2l.5,.9l.5-1.3l.5,.3l.5-.1l.5-.8l.5,1l.5-.2l.5,0l.5,.5l.5,.4l.5-.5l.5,.3l.5-.2l.5-.3l.5,.3l.5,.4l.5,0l.5-.7l.5,.5l.5,.3l.5,.2l.5-.4l.5-.2l.5-.3l.5-.4l.5,.9l.5-.7l.5-.4l.5,.7l.5,.6l.5-.1l.5-.7l.5,1l.5-1l.5,.4l.5,.3l.5-1l.5,.9l.5-1.2l.5,.8l.5,.1l.5,.8l.5-.1l.5,.4l.5-.7l.5-.7l.5,.9l.5-.5l.5-.3l.5,.7l.5-.7l.5,.1l.5-.3l.5,.6l.5-.5l.5-.1l.5,.6l.5-.1l.5-.3l.5,.2l.5,.6l.5-.3l.5-.1l.5,.3l.5,0l.5-.4l.5,.5l.5-.9l.5,0l.5-.4l.5,.2l.5,.4l.5,.4l.5,.1l.5,.2l.5-.6l.5,.2l.5-1.4l.5,.9l.5,.4l.5-.3l.5,1.2l.5-1.3l.5-.3l.5,.2l.5,.5l.5,.1l.5-.6l.5,.3l.5,1l.5-1.5l.5,.5l.5,.3l.5-.7l.5,.3l.5-.8l.5,.7l.5,1.2l.5-.4l.5-.8l.5,.4l.5,.5l.5-.9l.5,.1l.5,1l.5-.6l.5-.3l.5,.3l.5,0l.5-.9l.5,.8l.5,0l.5,0l.5,0l.5,0l.5,0l.5,0l.5,0l.5,0"/>
<path stroke="#00ff00" d="M146.0,1199.0l.5,0l.5,0l.5,0l.5,0l.5,0l.5,0l.5,0l.5,0l.5,1.1l.5-1.6l.5,.4l.5,.3l.5,.3l.5-.4l.5-.6l.5,1.2l.5-.9l.5,.2l.5-.1l.5-.7l.5,.2l.5,.6l.5,0l.5-.8l.5,.4l.5,1.3l.5-1.3l.5-.2l.5,.4l.5,.3l.5-.3l.5-.2l.5-1.1l.5,1.7l.5-.2l.5,.8l.5-1.5l.5,.4l.5,.4l.5-.9l.5,1.3l.5-1.1l.5,.7l.5-.9l.5,.3l.5,0l.5,.5l.5,.5l.5-.9l.5-.1l.5,1.1l.5,.2l.5-.8l.5,.2l.5-.1l.5,.5l.5-1l.5,1l.5-1.4l.5,.7l.5,0l.5,0l.5,1l.5-.3l.5-.1l.5-.5l.5-.3l.5,.3l.5-.1l.5-.4l.5-.2l.5,.4l.5,.6l.5-.1l.5-.7l.5,1.2l.5-.1l.5-.7l.5-.2l.5,.3l.5,0l.5-.3l.5,.5l.5,0l.5-.9l.5,.2l.5,.1l.5,.8l.5-.4l.5-.3l.5,.5l.5-.6l.5-.7l.5,1.2l.5-.3l.5-.1l.5,.2l.5-.3l.5,.2l.5-.3l.5,.1l.5-.6l.5-.1l.5,.1l.5-1.1l.5-1.9l.5-2.4l.5-1.2l.5-3.9l.5-1.5l.5-.4l.5,2l.5,2.9l.5,3.3l.5,1.2l.5,1.3l.5,1.5l.5,.3l.5,.4l.5,0l.5-.5l.5,.3l.5,.6l.5-.6l.5-.3l.5,.4l.5,0l.5,.2l.5,0l.5,.4l.5-.7l.5-.5l.5,1.1l.5,.1l.5,.6l.5-.9l.5,.2l.5-.2l.5-.6l.5,.7l.5,1.5l.5-1.8l.5,.4l.5,.6l.5-.8l.5-.5l.5,.2l.5-.3l.5-.2l.5,.7l.5,.5l.5-.5l.5,.2l.5,1.1l.5-1.3l.5,1.2l.5-1.2l.5,.1l.5,.4l.5-.4l.5,1l.5,0l.5-1l.5,.1l.5,.2l.5,.5l.5-.1l.5-.2l.5-.2l.5,.9l.5-.5l.5-.3l.5,.9l.5,0l.5-.9l.5,.2l.5-.6l.5,.1l.5-.1l.5,.1l.5-.9l.5,.8l.5,.8l.5-.5l.5-.9l.5,.4l.5,.2l.5-.5l.5,.6l.5-.3l.5,.7l.5-.5l.5,0l.5,.7l.5,.3l.5-.1l.5-.3l.5-.8l.5,.5l.5-.2l.5,.5l.5-.2l.5-.3l.5,.6l.5-.2l.5-.1l.5,.2l.5,0l.5-.3l.5,1.3l.5-1.9l.5-.3l.5,1l.5,.4l.5-.4l.5-.4l.5-.1l.5,1.1l.5-.8l.5,.1l.5-.7l.5,1l.5-.6l.5,.7l.5,0l.5-.2l.5-.4l.5-.1l.5,1.2l.5,0l.5-.2l.5-.8l.5,.7l.5-1.1l.5,1.8l.5-1l.5-.1l.5,0l.5-.2l.5-.5l.5,.8l.5-.2l.5,.1l.5,.3l.5-1.1l.5,.1l.5,.5l.5-.2l.5-.5l.5,.9l.5-.4l.5-.3l.5,.8l.5-.2l.5-.1l.5,.4l.5-.4l.5-.1l.5,.5l.5-1l.5,.3l.5-.1l.5,0l.5-.4l.5,.7l.5-.1l.5,.7l.5-1.1l.5,.4l.5-.1l.5,0l.5,.2l.5-.7l.5,.8l.5,.4l.5-.3l.5,.2l.5-.2l.5-.2l.5-.1l.5-.2l.5-.6l.5,1.6l.5-.5l.5-.5l.5,.5l.5-.3l.5,.9l.5-.7l.5-1l.5,1.2l.5,.1l.5-.5l.5-.1l.5-.3l.5-.1l.5,.5l.5-.8l.5,1.7l.5-.8l.5-.6l.5,.5l.5-.1l.5-.3l.5,.2l.5,.1l.5,0l.5,.4l.5-.1l.5-.8l.5,1.1l.5-.4l.5,0l.5-.3l.5,.3l.5-.3l.5,.5l.5-.5l.5,.5l.5-.1l.5-.8l.5-.2l.5-.5l.5,1.1l.5-.4l.5,.4l.5,.1l.5,.4l.5-.3l.5,.1l.5-.5l.5,.1l.5-.3l.5,.6l.5-.9l.5-.2l.5-.3l.5-1l.5-.3l.5,0l.5,.1l.5-1.6l.5,0l.5-.5l.5-.4l.5-.2l.5,.7l.5,.4l.5-.4l.5,1.3l.5,0l.5,.1l.5,1.5l.5-.3l.5,1.3l.5-.3l.5,0l.5,.3l.5,.2l.5,0l.5,.4l.5-.1l.5-1l.5,.9l.5-.9l.5,1l.5-.3l.5-.5l.5,.1l.5,.8l.5-.2l.5,.3l.5-1.3l.5,.6l.5-.3l.5,.7l.5-1.1l.5,.9l.5-1.2l.5,.5l.5-1l.5-.5l.5,.4l.5-.6l.5-.4l.5-1.5l.5-.5l.5,.1l.5,.2l.5,0l.5-.3l.5,.9l.5,.2l.5-.2l.5,0l.5,1.9l.5,1.1l.5-.7l.5,1.3l.5-.2l.5-.2l.5,.2l.5,0l.5-.2l.5,.4l.5,.8l.5-.7l.5,0l.5,.3l.5-1.2l.5,.6l.5,.2l.5-.2l.5-.4l.5-.3l.5,.4l.5-.8l.5-.2l.5-.1l.5-.4l.5-.6l.5-.3l.5,.1l.5-1l.5-1.2l.5-.8l.5-.3l.5-.9l.5-1.8l.5-1l.5-1.6l.5-1.2l.5-1.5l.5-1l.5-1.4l.5-1.6l.5,1.3l.5-.2l.5-.5l.5,.5l.5,.1l.5,3l.5-.1l.5,1.3l.5,1.4l.5,2.2l.5,.3l.5,.8l.5,2l.5-.4l.5,1.8l.5,.5l.5,.3l.5,.4l.5,1.2l.5-.5l.5,0l.5,.1l.5,.6l.5-.2l.5,.5l.5-.4l.5-.3l.5-.7l.5,.9l.5-.2l.5,.5l.5-.4l.5-1.2l.5-.4l.5,.7l.5-1l.5-.3l.5-.9l.5-.9l.5-.4l.5-.3l.5-1.5l.5-1.9l.5-5.2l.5-25.5l.5-49.4l.5,.3l.5,48.8l.5,26l.5,5.4l.5,1.8l.5-.1l.5,1.5l.5,.9l.5-.2l.5,.9l.5-1.2l.5,.5l.5,.9l.5,.2l.5,0l.5-.1l.5-.4l.5,.8l.5,.1l.5,.8l.5-.4l.5,1l.5,0l.5,.8l.5,.1l.5-.2l.5,.3l.5,.7l.5-1l.5,1.3l.5,.3l.5-.3l.5,.9l.5,.3l.5-.6l.5,.5l.5-.7l.5,.4l.5,.2l.5,0l.5,.6l.5,.2l.5-.1l.5-.2l.5,.7l.5-.5l.5,.1l.5,.1l.5,0l.5-.2l.5-.8l.5-.1l.5,.1l.5-1.1l.5,1l.5,0l.5,0l.5,.6l.5-.3l.5,.4l.5-.3l.5,1.2l.5-1.2l.5,.1l.5,1.6l.5-2.1l.5,0l.5,1l.5,.2l.5-1.3l.5,.7l.5,.4l.5-.2l.5-.3l.5-1.2l.5,.8l.5,.2l.5-.2l.5-.2l.5,.7l.5-1.4l.5,.7l.5,.1l.5-.2l.5-.3l.5,.3l.5-1.2l.5,.9l.5-1.9l.5-.1l.5,1.5l.5-1.8l.5-.6l.5,.5l.5-1.9l.5-1.9l.5-8.1l.5-14.7l.5-16.4l.5-.2l.5,16.8l.5,14.9l.5,7.8l.5,2.7l.5,.8l.5,.6l.5,.5l.5,.5l.5-.5l.5,.3l.5,.3l.5,.3l.5,.5l.5,.6l.5-.9l.5,.1l.5,.8l.5-1.1l.5,1.3l.5-1.1l.5,.9l.5-.6l.5,.7l.5-1.1l.5-.1l.5,.5l.5-.5l.5-.1l.5-1l.5,.2l.5,.4l.5-.6l.5,.9l.5-.6l.5,.4l.5,.7l.5,.8l.5-.9l.5,.7l.5-.4l.5,.3l.5,1.1l.5-.9l.5,.2l.5-.8l.5,1.4l.5,.5l.5-.1l.5-1.2l.5,1.1l.5-1.9l.5,2.2l.5-.3l.5,.2l.5,0l.5-.8l.5,.6l.5-.7l.5-.3l.5,.6l.5,0l.5-.3l.5,.4l.5-.8l.5,1l.5-.5l.5,.7l.5-.6l.5,.2l.5,.3l.5-.1l.5-.6l.5,.2l.5-1l.5,1.1l.5,.5l.5-.8l.5-.2l.5,.6l.5-.3l.5,.5l.5,.1l.5-1.1l.5,1l.5,.1l.5,0l.5-.5l.5-1.3l.5,1l.5-.2l.5,.3l.5-.1l.5-.5l.5,.5l.5-.8l.5,.2l.5,.6l.5-.2l.5-.5l.5-.4l.5,.3l.5,0l.5-.3l.5-.5l.5-.6l.5-.7l.5,.5l.5-1.1l.5-.9l.5-.5l.5-.9l.5-.8l.5,.1l.5-.3l.5-.3l.5,1l.5-.3l.5,.2l.5,.7l.5,.7l.5,.7l.5,0l.5,.8l.5,.5l.5,.1l.5,.7l.5-.5l.5,.3l.5,.4l.5,.5l.5-.1l.5-.2l.5,.6l.5-.2l.5-.2l.5-.2l.5-.4l.5-.6l.5,.9l.5-1.3l.5,.8l.5-.4l.5-1l.5,.3l.5-.5l.5-1l.5,.1l.5-1.3l.5-.7l.5-.7l.5-.2l.5-3.3l.5-1.5l.5-6l.5-12.4l.5-28.9l.5-47.2l.5-40.2l.5-1.1l.5,42.5l.5,45.5l.5,29.2l.5,12.9l.5,5.8l.5,1.4l.5,3l.5,.6l.5,.5l.5,.5l.5,.8l.5,1.3l.5,.3l.5,.3l.5,.6l.5,.5l.5-1.1l.5,.5l.5,1.6l.5-.6l.5,.2l.5,.6l.5,.4l.5-1.2l.5,.5l.5,.2l.5,.4l.5,.4l.5-.7l.5,1.1l.5,0l.5-.5l.5,.2l.5,0l.5,.1l.5,.8l.5-.1l.5-.4l.5,.1l.5-.3l.5,.1l.5-.1l.5,.1l.5-.4l.5-.5l.5-.4l.5,.8l.5-1l.5,.5l.5-.5l.5,.1l.5-.8l.5,.6l.5-.9l.5,.1l.5,.8l.5-.5l.5-.2l.5,.6l.5-.1l.5-.5l.5,.6l.5,.8l.5-1.2l.5,1.3l.5-.1l.5,.6l.5-.6l.5,.9l.5-.8l.5,.4l.5,0l.5-.3l.5-.6l.5,1.3l.5-.6l.5-.1l.5-.4l.5,.9l.5-.8l.5-.1l.5,.2l.5-.3l.5,.3l.5-1.3l.5,1l.5-.2l.5,0l.5-.1l.5-.2l.5-.3l.5,.4l.5-1.1l.5,1.5l.5-1.2l.5,.1l.5,0l.5,0l.5-.6l.5-.5l.5,.1l.5-.5l.5,0l.5-1.3l.5-.5l.5-.8l.5,0l.5-1.2l.5-.1l.5-1.8l.5-.6l.5-1.3l.5-.9l.5-1.8l.5-1l.5-1.8l.5-1.9l.5-3.1l.5-2.7l.5-4.6l.5-6.2l.5-10.3l.5-22.1l.5-63.2l.5-139.6l.5-179.1l.5,.4l.5,178.7l.5,139.5l.5,63.8l.5,21.5l.5,10.8l.5,5.3l.5,4.7l.5,3.3l.5,2.8l.5,3l.5,.8l.5,2.2l.5,1.7l.5,.7l.5,1.2l.5,.2l.5,.7l.5,1.1l.5,.1l.5,.7l.5,1l.5,.1l.5,.6l.5,.4l.5,.7l.5,0l.5,.8l.5,.6l.5-.3l.5,.3l.5,.2l.5-.8l.5,.3l.5,.4l.5,.3l.5,.2l.5,.7l.5-1.3l.5,1.1l.5-.3l.5-.2l.5,.8l.5,.2l.5-.4l.5,1.2l.5-.4l.5-.1l.5-.6l.5,.2l.5,.6l.5-.4l.5,.7l.5-.8l.5,1l.5-.7l.5-.6l.5,.3l.5,.1l.5-.7l.5,1.1l.5,0l.5,.3l.5,0l.5,.1l.5-1l.5,1.3l.5-.7l.5,.7l.5-.8l.5,.7l.5-1l.5,.4l.5,.5l.5-.2l.5-.1l.5-1.5l.5,.5l.5-.1l.5-.5l.5-.7l.5,0l.5-1.1l.5-.5l.5-1.4l.5,0l.5-1.4l.5-1.2l.5,0l.5-1.3l.5,0l.5-.3l.5,1.1l.5,.1l.5,1l.5,.6l.5,1.6l.5-.3l.5,2.1l.5-.2l.5,1.4l.5,.9l.5,0l.5,.5l.5-1l.5,1l.5,.3l.5,.2l.5,1.1l.5-1.2l.5,.8l.5-.2l.5,.4l.5-.1l.5-.2l.5-.2l.5-1l.5,.5l.5-.3l.5,.1l.5-1l.5,.2l.5-.8l.5-.8l.5-.4l.5-1.2l.5,.6l.5,0l.5,.1l.5,0l.5,1.2l.5-.8l.5,1.2l.5,.5l.5,.4l.5,.6l.5-.2l.5,1l.5,.4l.5,.1l.5-.5l.5,.4l.5-.6l.5,.7l.5,.1l.5-.1l.5,.5l.5,.3l.5-.7l.5-.1l.5-1l.5,1.7l.5-1l.5,.8l.5-.2l.5-.6l.5,.8l.5-1.3l.5,.7l.5-.6l.5,1l.5,0l.5-.8l.5,1l.5,0l.5-.2l.5,0l.5-.1l.5,.1l.5-.2l.5,.3l.5,0l.5-.5l.5,.3l.5-.8l.5,.8l.5,.1l.5-.5l.5,.2l.5-.9l.5,.3l.5,.6l.5-1l.5,1.7l.5-.7l.5-.4l.5,.4l.5,.6l.5-.5l.5-.3l.5,.9l.5-1.4l.5-.1l.5,.6l.5-.1l.5,.6l.5-.9l.5,.4l.5,.1l.5,0l.5,.4l.5-.6l.5-.5l.5,.3l.5,.4l.5-.9l.5,.4l.5,.1l.5-.1l.5-.5l.5,.9l.5-.6l.5,.3l.5-.3l.5,.1l.5,.1l.5,.3l.5-.6l.5-1l.5,0l.5-.6l.5,.3l.5-.4l.5-.4l.5,0l.5-.6l.5,0l.5-.7l.5-1.2l.5,.1l.5,.4l.5-1.1l.5-.5l.5-1.3l.5-1l.5-.2l.5-.8l.5-1.2l.5-.3l.5-.4l.5-1.1l.5-1.5l.5,.6l.5-.6l.5-.5l.5-1.6l.5,.1l.5,.3l.5,.2l.5-.3l.5-.3l.5,1l.5,1.1l.5-1.5l.5,2l.5,1.3l.5,.1l.5,.9l.5,1.2l.5,.6l.5,.9l.5,1.3l.5-.3l.5,.7l.5,.5l.5,.7l.5,.8l.5,0l.5,.5l.5,.5l.5-.1l.5,1l.5-1.1l.5,1.1l.5,.1l.5-.1l.5-.4l.5,1l.5-1l.5,.8l.5-.8l.5-.3l.5,.4l.5-.4l.5-.3l.5-.4l.5-.5l.5-1.4l.5,0l.5-3.6l.5-10.7l.5-19l.5-21.3l.5-.5l.5,21.9l.5,20.8l.5,8.8l.5,3.4l.5,1.8l.5,.1l.5,1l.5,.1l.5,1.1l.5-.7l.5,.9l.5-.7l.5,.4l.5,.5l.5-.6l.5,.7l.5,.9l.5-.7l.5-.1l.5-1.8l.5-6l.5-10.6l.5-11.9l.5-.2l.5,12.2l.5,12.3l.5,5.2l.5,1.7l.5-.4l.5-.3l.5,.8l.5,.7l.5-.1l.5,.2l.5-1.1l.5,1.6l.5,0l.5-.2l.5-.3l.5-.4l.5,.7l.5-.8l.5,.7l.5,.3l.5-.5l.5,.2l.5-.5l.5,.3l.5-.8l.5,.8l.5,.1l.5-.1l.5-.7l.5,1.1l.5-.5l.5,.4l.5,0l.5-.7l.5-.1l.5-1.1l.5,1.1l.5-.3l.5-.3l.5,.2l.5-.1l.5-1.4l.5-.1l.5,0l.5-1.1l.5-.5l.5-.1l.5-.1l.5-.8l.5-.8l.5,.4l.5,.4l.5,.1l.5,.8l.5,1.1l.5-1.6l.5,1.4l.5,.6l.5,0l.5,0l.5,1.3l.5,0l.5,1l.5-.1l.5,0l.5,.4l.5-.4l.5-.2l.5,.5l.5,.1l.5,.5l.5-.1l.5-.5l.5-.8l.5,1.5l.5-.8l.5-.1l.5,.3l.5,.3l.5,.8l.5-1.8l.5,1.2l.5-1.1l.5,.4l.5-.1l.5,.3l.5,.5l.5-.3l.5-1.3l.5,.7l.5,.5l.5-.8l.5,.1l.5,.7l.5-.2l.5,.1l.5-.4l.5,.2l.5-.8l.5,.7l.5-.2l.5-.4l.5-.1l.5,.8l.5-1l.5,.1l.5,0l.5,.1l.5-.3l.5-.7l.5,.4l.5,.1l.5-.3l.5-.7l.5,.6l.5-.4l.5-.4l.5-1.7l.5,1l.5-1.1l.5-.8l.5,.1l.5-1.3l.5,.1l.5-1.1l.5-2.3l.5-6l.5-16.5l.5-33.8l.5-37.3l.5,0l.5,37.3l.5,33.7l.5,17.6l.5,4.3l.5,2.5l.5,1l.5,.2l.5,1.3l.5-.2l.5,1l.5,.9l.5,.4l.5-1.1l.5,1.4l.5,1.2l.5-.5l.5,.3l.5,0l.5-.5l.5,1.9l.5-1.6l.5,1l.5-.1l.5,0l.5,1l.5-.6l.5,.3l.5,.2l.5,.8l.5-1l.5-.7l.5,.8l.5-1.9l.5-3l.5-3.1l.5-3.5l.5-.5l.5,3.2l.5,4.3l.5,2.3l.5,2.6l.5-.5l.5,.6l.5-1.2l.5,1.1l.5,1.1l.5-.5l.5-.3l.5,.6l.5-.7l.5,0l.5,.1l.5-.2l.5,.8l.5-.4l.5,0l.5,.8l.5-.8l.5,.1l.5,.3l.5,.1l.5-.4l.5,.3l.5-.7l.5,.4l.5-.1l.5,.4l.5-.5l.5,.3l.5,.4l.5-1l.5,.9l.5-.4l.5,.3l.5-.9l.5,.9l.5-.3l.5-.1l.5,1l.5-.1l.5-.2l.5-.7l.5,.1l.5-.6l.5,.1l.5,.6l.5-.3l.5-.2l.5,.3l.5-.4l.5,.9l.5-.5l.5,1.1l.5-.7l.5,0l.5,.9l.5-1.3l.5,.6l.5-.5l.5,.1l.5,.1l.5-.4l.5,.6l.5-.9l.5,.8l.5-.6l.5,.1l.5,0l.5,.7l.5-.6l.5,.8l.5-.8l.5,.1l.5,0l.5,.1l.5,0l.5-.4l.5,.2l.5,.4l.5-.6l.5,0l.5,1l.5-.8l.5-.1l.5-.9l.5,1l.5-.6l.5,.1l.5-1.4l.5-5l.5-8.5l.5-9.4l.5,1.6l.5,8.3l.5,8.9l.5,3.3l.5,1.6l.5,1.2l.5-.6l.5-.4l.5-.5l.5,1.3l.5,.3l.5-1l.5,.2l.5,.1l.5-.2l.5-1.4l.5,1.3l.5-.6l.5-.6l.5,.3l.5,.2l.5-.8l.5-.8l.5-.1l.5-.3l.5-.3l.5-.7l.5-.8l.5-1.6l.5-3.6l.5-7.4l.5-15.2l.5-19.8l.5-15.3l.5-.6l.5,16.9l.5,19.5l.5,14.8l.5,8.2l.5,2.5l.5,.9l.5,1.2l.5,.7l.5,.5l.5,.9l.5-.2l.5,1l.5-.4l.5,.9l.5,.9l.5-.6l.5,0l.5,.1l.5,.4l.5-.1l.5-.6l.5,.2l.5,.8l.5,0l.5-.4l.5,.8l.5-.5l.5-.1l.5,.4l.5,.3l.5-.4l.5,.1l.5-.2l.5,.2l.5,.4l.5-.1l.5-.3l.5,.5l.5,0l.5,.4l.5-.7l.5,.8l.5-.8l.5,.3l.5-.5l.5-.6l.5,1.7l.5-.4l.5-.8l.5,.6l.5,.2l.5-.4l.5-.2l.5,.8l.5,.1l.5-.8l.5-.7l.5,1.1l.5,.1l.5-.3l.5,.3l.5,0l.5-.2l.5-.4l.5,.4l.5,0l.5-.4l.5-.2l.5,1.2l.5-1l.5,.1l.5,0l.5,.3l.5-.9l.5,1l.5-.7l.5,.2l.5-.4l.5,.9l.5-.5l.5-.3l.5-.1l.5-.4l.5,.1l.5-.2l.5,.6l.5-.3l.5-.3l.5-.8l.5,1.3l.5-.6l.5,.4l.5-.7l.5,.2l.5,.9l.5-.6l.5,.7l.5-.1l.5-.5l.5,.8l.5-.3l.5,.2l.5,.2l.5-.4l.5,.2l.5,.4l.5-1l.5,.6l.5-.3l.5,.3l.5-2.1l.5-.1l.5-4.5l.5-4.7l.5-4.4l.5,.6l.5,3.3l.5,5.3l.5,3.5l.5,2.9l.5-.6l.5,.3l.5,1l.5-.9l.5,.7l.5-.2l.5-.6l.5-.4l.5,.7l.5,.9l.5-.2l.5-.2l.5,.4l.5-.3l.5,.8l.5-1.1l.5,.5l.5-.1l.5-.7l.5,.3l.5-.5l.5,.2l.5,1l.5-1.5l.5,.9l.5-.9l.5,.5l.5,.2l.5-.4l.5,.3l.5,.3l.5-.5l.5,.4l.5-.8l.5,.9l.5,.2l.5-.7l.5,.3l.5-.4l.5-.5l.5,.6l.5-.3l.5-.6l.5,.5l.5-1.2l.5,.9l.5,0l.5-1.1l.5-.9l.5-.8l.5-2.7l.5-5l.5-4.8l.5-5l.5-3.5l.5,.5l.5,2.4l.5,5l.5,5.3l.5,2.5l.5,4l.5,.3l.5,.8l.5,0l.5-.9l.5-.8l.5,.4l.5-4.5l.5-4.3l.5-10.2l.5-13.1l.5-14.1l.5-10.1l.5-.7l.5,10.5l.5,13.9l.5,13.7l.5,9.9l.5,5.1l.5,3.6l.5,.4l.5,.7l.5,.8l.5,.9l.5,.2l.5,.1l.5,.9l.5-1.3l.5,1.7l.5-.6l.5-.3l.5,.3l.5-.2l.5,.9l.5-.6l.5,.5l.5-.4l.5,.1l.5,0l.5-.8l.5,.8l.5-.5l.5-.4l.5,0l.5,.2l.5-.4l.5,.2l.5-.8l.5,0l.5-.9l.5-1.3l.5-2.2l.5-1.6l.5-5.5l.5-6.3l.5-11l.5-13.6l.5-12.3l.5-9.2l.5,.7l.5,7.7l.5,12.8l.5,13.3l.5,11.6l.5,7.2l.5,4.4l.5,3.1l.5,1.2l.5,1.4l.5-.1l.5,.6l.5,.9l.5-.7l.5,1.1l.5,.3l.5-.2l.5,.1l.5,.3l.5,.7l.5,.4l.5-.6l.5,.4l.5-.2l.5,.5l.5-.9l.5,.1l.5,0l.5,.9l.5-.6l.5,0l.5-.4l.5-.3l.5,0l.5,.6l.5,.1l.5-.2l.5,.1l.5-.3l.5-1l.5,.2l.5-.4l.5-.2l.5-.3l.5,.5l.5,.7l.5-.7l.5,0l.5,.4l.5-.5l.5,.5l.5,1l.5-.7l.5-.2l.5,.7l.5-1.3l.5,.6l.5,.3l.5-1l.5,.4l.5,.5l.5-.9l.5-1.2l.5-1.4l.5,1.2l.5-1.2l.5-3.6l.5-9.8l.5-17.9l.5-19.6l.5,0l.5,19.1l.5,19.1l.5,8.5l.5,3l.5,1.3l.5,1.1l.5,0l.5,.5l.5,.7l.5-.1l.5,1.1l.5,.2l.5-.2l.5,.5l.5,.1l.5,.3l.5-.1l.5,.6l.5,.1l.5-.1l.5-.4l.5-.4l.5-.2l.5,1.2l.5-.3l.5,.3l.5-.6l.5-.4l.5,.7l.5-.4l.5-.5l.5-1l.5,.4l.5-.6l.5,.1l.5,.9l.5,.2l.5,.2l.5-.2l.5,.6l.5-.5l.5,.7l.5,1.1l.5-1.1l.5,.1l.5,.8l.5-.5l.5,.6l.5,.3l.5-1.1l.5,.5l.5,0l.5-.2l.5-.1l.5,.2l.5,.4l.5-.3l.5,.2l.5-.1l.5,.4l.5-.2l.5-.1l.5,0l.5-1.1l.5,.8l.5,.8l.5-.1l.5-.6l.5,.6l.5,.1l.5-.4l.5,.5l.5-.5l.5,.1l.5-.4l.5-.1l.5,.1l.5,.5l.5-.3l.5-.2l.5,.6l.5-.5l.5,.4l.5-.2l.5,.5l.5,.2l.5-1l.5,.7l.5-.5l.5,0l.5,.1l.5-.5l.5,1l.5-.9l.5,.1l.5,0l.5-.1l.5-.2l.5,.2l.5,.8l.5-1.2l.5,.5l.5,1.2l.5-1.1l.5,1.1l.5-1.5l.5,1l.5,.3l.5-.4l.5-.4l.5,0l.5-.1l.5-.1l.5,.4l.5-.1l.5,.1l.5,.8l.5-1.2l.5,1.2l.5-1.2l.5,.3l.5,.2l.5,0l.5-.5l.5,.4l.5-1.1l.5,.9l.5-.2l.5-.1l.5-.2l.5-.3l.5,1l.5-.8l.5,.8l.5-.6l.5,.9l.5-.5l.5,0l.5,.3l.5-.1l.5-.1l.5,.3l.5-.6l.5,.3l.5-.3l.5,.2l.5-.2l.5-.8l.5,1.7l.5-.2l.5-.5l.5-.1l.5-.6l.5,.5l.5-.3l.5,.5l.5-.2l.5,.8l.5-.8l.5,.4l.5,.2l.5-.7l.5,.1l.5,.6l.5-1l.5,.7l.5-.5l.5,.7l.5,.3l.5-.8l.5-.2l.5,.6l.5-.8l.5,.7l.5,.1l.5,.1l.5-.3l.5,.5l.5-.4l.5,.2l.5,.6l.5-.4l.5-.8l.5,0l.5,.9l.5,0l.5,0l.5-.4l.5-.4l.5,.1l.5,0l.5-.1l.5,.4l.5,.1l.5,.1l.5-1l.5,.7l.5,.1l.5-.9l.5,.2l.5,.6l.5,.7l.5-.9l.5-.5l.5,.8l.5-.2l.5-1.1l.5-.6l.5-5.3l.5-10.4l.5-11.1l.5-.3l.5,11.6l.5,9.9l.5,4.6l.5,2l.5-.5l.5,1.2l.5,0l.5-.7l.5,.5l.5,.3l.5-.8l.5-.3l.5,1.1l.5-.6l.5-.4l.5-1.5l.5-2.3l.5-.8l.5-2.3l.5-1.8l.5,.1l.5,1.1l.5,2l.5,2l.5,2.4l.5,1.3l.5-.3l.5,1.4l.5-.9l.5,.6l.5,.2l.5-1l.5-.1l.5,.2l.5-1.1l.5,.5l.5-1.5l.5-.4l.5-1.4l.5,1.1l.5-.1l.5,1.2l.5,.7l.5,.8l.5,.4l.5,1.3l.5-.8l.5,.1l.5-.9l.5,.5l.5-.1l.5-.1l.5-.2l.5,.6l.5-1.1l.5,.8l.5,.2l.5,.2l.5,.1l.5-1.2l.5,.7l.5-.1l.5-.3l.5-.1l.5,.9l.5-.6l.5,.5l.5-.1l.5-1.2l.5,.4l.5-1.2l.5,.1l.5-1.4l.5-3.6l.5-2.2l.5-3.7l.5-1.3l.5,1.3l.5,1.1l.5,2.6l.5,2.2l.5,3.2l.5,1.4l.5,.9l.5-.2l.5,1l.5-.4l.5,.2l.5,.2l.5-.4l.5,0l.5,.4l.5-.9l.5,.5l.5-.2l.5-.3l.5-.1l.5-.1l.5-1.3l.5,.6l.5-.3l.5-1.4l.5-.6l.5-2.3l.5-1.3l.5-.7l.5-2.8l.5-2l.5-2.1l.5-3.9l.5-3.8l.5-.8l.5-3l.5-.3l.5-.8l.5,.5l.5,2.4l.5,1.7l.5,1.9l.5,2.1l.5,3.9l.5,1.4l.5,2.4l.5,2.8l.5,1.6l.5,.9l.5,1.3l.5,1.1l.5,.6l.5,.9l.5,1.6l.5-.4l.5,.7l.5-.7l.5,1.5l.5-.9l.5,0l.5,.6l.5-.4l.5,.4l.5,.2l.5-.4l.5,.3l.5-.1l.5,.9l.5-.3l.5-.6l.5,.6l.5,.2l.5-.8l.5-.3l.5,.8l.5,.5l.5-.5l.5,1.3l.5-.9l.5-.3l.5-.3l.5,.2l.5-.5l.5,1.6l.5-1.2l.5,.5l.5-.3l.5,.2l.5,.1l.5,.9l.5-.7l.5,.1l.5,.1l.5,.1l.5-.7l.5-.8l.5,1.3l.5-.3l.5-.6l.5-.3l.5,1.2l.5,0l.5-.2l.5-.8l.5-.2l.5,.8l.5,.1l.5,.1l.5-1.1l.5,1.7l.5-1.1l.5-.1l.5,.8l.5-.6l.5-.5l.5,.3l.5-.1l.5,0l.5,0l.5,.9l.5-.2l.5-.9l.5,.1l.5,0l.5,.7l.5-.4l.5,.5l.5-.4l.5,.6l.5,0l.5-.5l.5,.4l.5-.3l.5-.8l.5,1.1l.5-.4l.5,.1l.5,.5l.5-.8l.5,.5l.5-.5l.5-.7l.5,.5l.5-.6l.5-.2l.5,.8l.5-3l.5-5.1l.5-13.4l.5-13.1l.5,.2l.5,13.4l.5,12.4l.5,5.8l.5,2.3l.5,.1l.5,.4l.5-.1l.5-.2l.5-.7l.5,.7l.5,.6l.5-1l.5,.4l.5-.2l.5,.3l.5-.7l.5-.2l.5,.2l.5,.2l.5,0l.5-.9l.5-.1l.5-1.2l.5-.8l.5-.9l.5-.4l.5-2.5l.5-1.3l.5-1.9l.5-1l.5-2.1l.5-1.8l.5-.8l.5-.2l.5-.3l.5,1l.5,1.7l.5,2.4l.5,2.1l.5,1.2l.5,1.8l.5,1.7l.5,0l.5,1.1l.5,1.3l.5,.9l.5-.9l.5,.6l.5-.2l.5,.6l.5-.2l.5-.1l.5-.7l.5-.6l.5-.7l.5,1.1l.5-.3l.5-1.1l.5-.9l.5,0l.5-1.3l.5-1.1l.5,.1l.5-.6l.5-.3l.5-.1l.5,.7l.5,.3l.5,.3l.5,.8l.5,.3l.5-.5l.5,.8l.5,.7l.5,.7l.5,1.3l.5-1l.5-.5l.5,1.5l.5-1l.5-.6l.5,.3l.5,.1l.5-1l.5-.1l.5-.5l.5,.5l.5-.1l.5,.2l.5,1l.5-.1l.5,.3l.5,1.2l.5-.1l.5,.4l.5,.3l.5,.7l.5,.1l.5,.1l.5,.4l.5,0l.5,1.1l.5-.5l.5,.3l.5,.3l.5-.3l.5,.4l.5,.1l.5-.6l.5-.1l.5-.3l.5,.9l.5-.7l.5,.2l.5-.1l.5-.1l.5,.8l.5-.6l.5,.4l.5,0l.5,.8l.5-.6l.5,0l.5-.3l.5-.6l.5,0l.5,1l.5-.3l.5,0l.5-.1l.5,.2l.5-.4l.5-.4l.5-.5l.5,.2l.5-.7l.5-.6l.5-.5l.5-1.7l.5,.6l.5-1.3l.5-.7l.5-.3l.5,.7l.5,0l.5,.3l.5,.7l.5,.1l.5,.4l.5,1.1l.5,.3l.5,.8l.5-.8l.5,2l.5-1l.5,1.1l.5,.7l.5-.7l.5,1.5l.5-1.3l.5,.8l.5-.5l.5-.3l.5,.4l.5-.4l.5,.1l.5-.8l.5,.5l.5,.6l.5-.5l.5-.1l.5,.9l.5,.4l.5-.4l.5-1.3l.5,.3l.5-1.5l.5-.5l.5-.5l.5-.6l.5-.2l.5-.9l.5,2.2l.5-.9l.5,1.5l.5,1.6l.5,.1l.5,0l.5,0l.5,.7l.5,0l.5-.3l.5,.1l.5-.1l.5-.2l.5,0l.5,.3l.5,0l.5-.7l.5,1.2l.5-1.7l.5,1.8l.5-.7l.5-.2l.5,.2l.5-1.2l.5-1.8l.5-2.2l.5-2.7l.5-4l.5-3.9l.5-2.7l.5-.3l.5,2.4l.5,3.7l.5,4.7l.5,2.6l.5,2.5l.5,2l.5,0l.5-.3l.5,.6l.5,.1l.5,.5l.5,.3l.5-.6l.5,.2l.5-1l.5,.5l.5-.3l.5-.4l.5,.1l.5,1.1l.5-1.5l.5,1.1l.5,0l.5-1.1l.5,0l.5,.5l.5,.4l.5-.5l.5,1l.5-.8l.5-.9l.5-.5l.5-.3l.5,.3l.5-.6l.5-.4l.5-1.8l.5-.2l.5,0l.5-.9l.5-.2l.5-1.2l.5-.1l.5,.6l.5,0l.5,.5l.5-.1l.5-.4l.5,.8l.5,1l.5,.3l.5,.9l.5,0l.5,.8l.5,.9l.5,.5l.5-.3l.5-.3l.5,1.1l.5,1.2l.5-1.7l.5,1l.5,0l.5,.4l.5,1.2l.5-1.4l.5-.1l.5,.9l.5-.3l.5,.2l.5-.3l.5,0l.5,.4l.5,.4l.5-.2l.5,0l.5,.1l.5-1.2l.5,.8l.5,0l.5-.3l.5,.3l.5,.3l.5-1l.5,.9l.5-.4l.5,.1l.5,.6l.5-.5l.5,0l.5,0l.5-.5l.5,.8l.5-.8l.5,0l.5,1.3l.5-.1l.5,.4l.5-.6l.5-1.1l.5,1.5l.5-.2l.5-.2l.5,0l.5-1l.5,1l.5,0l.5,.2l.5-.6l.5,.8l.5,0l.5-.5l.5-.3l.5-.2l.5,1.1l.5-.6l.5,.2l.5,.3l.5-.8l.5,.7l.5-1l.5-.6l.5,1l.5-.2l.5-.6l.5,.9l.5-.3l.5-.4l.5,.3l.5-1.3l.5-2.6l.5-5.5l.5-5.9l.5-5.5l.5,.5l.5,4.9l.5,6.3l.5,4.8l.5,3.2l.5,.6l.5,.2l.5,1.3l.5-.9l.5,0l.5-.3l.5-.5l.5,.2l.5-1.8l.5-1.6l.5-5.2l.5-7.3l.5-5.6l.5,.9l.5,5.1l.5,7.5l.5,4.6l.5,2.4l.5,.6l.5,.3l.5,1.5l.5-1.5l.5,.7l.5,.2l.5,.1l.5-.4l.5-.4l.5,.8l.5-.6l.5,1.1l.5-.6l.5,.4l.5,.4l.5-1l.5,.1l.5,.6l.5-.6l.5,.5l.5-.4l.5-.3l.5-.1l.5-.1l.5,.7l.5-.5l.5,0l.5-.5l.5,.4l.5-.1l.5-.5l.5,.3l.5-.1l.5-.5l.5,.5l.5-.5l.5-.9l.5-.2l.5,0l.5-.2l.5-1.3l.5-.1l.5,.3l.5,.7l.5-.9l.5,.6l.5,.4l.5-.8l.5,.3l.5,.8l.5,.2l.5,.5l.5,.7l.5,.6l.5-.3l.5,.2l.5,0l.5,.5l.5-.3l.5,.6l.5-.7l.5,.8l.5-.9l.5,.1l.5,.8l.5-.1l.5-.7l.5,0l.5,.8l.5-.3l.5-.1l.5-.1l.5,.2l.5,.1l.5,.3l.5-.4l.5,.9l.5-1l.5,.2l.5-1.1l.5,.3l.5,.4l.5-.3l.5-.3l.5-.6l.5,.9l.5-1.2l.5-.4l.5-.7l.5,0l.5-1.2l.5-.3l.5-.5l.5,0l.5,.7l.5-.2l.5,.4l.5,.4l.5,1.2l.5,.1l.5,0l.5-.2l.5,1.6l.5-.5l.5,.7l.5-.3l.5,.9l.5-.2l.5,1.1l.5-1.4l.5,.2l.5,.2l.5-.5l.5,1.3l.5-1l.5,.6l.5-.1l.5,.3l.5-.5l.5,1l.5-1.3l.5,.6l.5,.3l.5-1.1l.5,0l.5,.6l.5-.9l.5,.6l.5,.4l.5-1.2l.5,1.1l.5-.1l.5,0l.5,1.2l.5-.5l.5-.2l.5,0l.5-.7l.5,.2l.5,.7l.5-1l.5,.1l.5,.9l.5-.3l.5-.2l.5-.3l.5-.1l.5-.9l.5,1.4l.5-.1l.5-.7l.5,.3l.5-.5l.5,1.8l.5-1.5l.5,.4l.5,.2l.5,.2l.5-.2l.5,.3l.5-.2l.5-.4l.5-.2l.5-.4l.5,.9l.5-.1l.5,.1l.5-.7l.5,.3l.5,.6l.5-.9l.5,.1l.5,0l.5,.8l.5-.3l.5,.5l.5,.2l.5-1.2l.5,.1l.5,.1l.5,1.1l.5-1.2l.5,.5l.5,.9l.5-.8l.5,0l.5-.1l.5,.2l.5-.5l.5-.4l.5,1l.5-.9l.5,.2l.5-.7l.5,.2l.5-.1l.5-.2l.5-.4l.5-.6l.5,.6l.5-.8l.5-1l.5,.6l.5-.9l.5-.3l.5-.2l.5-1.2l.5,.1l.5-.8l.5,.3l.5-2.1l.5,.8l.5,0l.5-.3l.5,.9l.5,.6l.5,1.1l.5-.2l.5-.6l.5,2.1l.5-.6l.5,.6l.5,0l.5,1.1l.5-1.3l.5-.2l.5-.8l.5-.1l.5-.3l.5,.4l.5-1.8l.5,0l.5-.2l.5-.7l.5-.1l.5,.5l.5,1l.5,.9l.5,.5l.5,.5l.5,.3l.5,.8l.5,.5l.5-.2l.5,1.1l.5-.1l.5,.6l.5,1l.5-.7l.5,.5l.5-.6l.5,.6l.5-.6l.5,.6l.5-.2l.5-.1l.5,.8l.5,0l.5-.5l.5-.4l.5,.3l.5-.2l.5,.1l.5-.4l.5,1.3l.5-.8l.5-.5l.5-.6l.5,.3l.5,.4l.5,.1l.5-.6l.5,.5l.5,0l.5-.7l.5,0l.5,.6l.5,1l.5-.8l.5,.3l.5,.8l.5-.8l.5-.1l.5,.4l.5-.1l.5-.1l.5,.4l.5,.9l.5-.6l.5-.7l.5-.3l.5,.5l.5,.9l.5-1.3l.5-.1l.5,1l.5-.3l.5-.1l.5,.3l.5-.8l.5,.4l.5-.5l.5,.7l.5,.3l.5-.8l.5,.4l.5,0l.5-.6l.5,.5l.5,.9l.5-.9l.5,.2l.5-1.1l.5,.7l.5,.2l.5,.3l.5-1.3l.5,.7l.5,.2l.5-1.3l.5,1.1l.5-.9l.5,.1l.5-.7l.5-.9l.5-.9l.5-.6l.5-.5l.5-1l.5,.2l.5-1.3l.5,.1l.5,.5l.5,.3l.5,1.4l.5,.3l.5,.5l.5,.9l.5,.7l.5,.2l.5,.2l.5,.4l.5,.9l.5-.9l.5,.9l.5,.5l.5-.8l.5,.5l.5-.5l.5-1l.5,.8l.5-.1l.5,.3l.5-.9l.5,1.2l.5-1.4l.5,.1l.5,.2l.5,.4l.5-.7l.5-.2l.5,.3l.5,.4l.5-.1l.5-.4l.5,.1l.5,1.3l.5-.5l.5-.3l.5,.5l.5,.6l.5-.1l.5-.7l.5,.5l.5-.5l.5,1.9l.5-1.6l.5-.1l.5,.5l.5-.4l.5,.4l.5,0l.5-.4l.5-.3l.5,1.3l.5-1l.5,.7l.5-.7l.5,0l.5-.2l.5,.3l.5-.9l.5,.1l.5,1.1l.5-1.4l.5,.5l.5-.4l.5-1.1l.5-.2l.5-.5l.5-.2l.5-.6l.5-.1l.5,.4l.5,.2l.5,.3l.5-.3l.5,2.5l.5-1.5l.5,.3l.5,.2l.5-.1l.5,.3l.5,.4l.5-2.1l.5,.9l.5-.2l.5,.6l.5-1.5l.5,.3l.5-1l.5,.3l.5,1l.5-.3l.5,.6l.5,.7l.5,.3l.5-.1l.5,1.1l.5,.2l.5-.3l.5,.5l.5,.6l.5,.8l.5-.9l.5-.6l.5-.1l.5,1.5l.5-1l.5,.4l.5,0l.5-.3l.5-.1l.5-.3l.5-.1l.5,.7l.5,.1l.5,.1l.5-.4l.5,.8l.5-1.6l.5,1.6l.5-.6l.5-.2l.5,.4l.5-.3l.5,.4l.5,.2l.5,.3l.5-.8l.5,.8l.5-.1l.5-.6l.5-.6l.5,.8l.5-.4l.5-.7l.5,1.3l.5-.2l.5,.3l.5-.4l.5,.1l.5-.2l.5-.2l.5,.2l.5,.1l.5-.7l.5,1.2l.5-.4l.5-.3l.5,.4l.5-.8l.5,.3l.5,.2l.5,.6l.5,.2l.5-.7l.5-.1l.5,.2l.5-.7l.5,.3l.5,.1l.5-.6l.5,.4l.5-.1l.5,.6l.5-.9l.5,.5l.5,.4l.5-.7l.5,.5l.5,.7l.5-.8l.5-.6l.5,0l.5,.2l.5-.7l.5,.8l.5-.2l.5,.6l.5-1.4l.5-.3l.5-1.2l.5-.2l.5-1.1l.5,.4l.5-1.8l.5-1.1l.5,.3l.5-.6l.5-.7l.5,.9l.5-.2l.5,.7l.5,1.4l.5-.1l.5,1.3l.5-.5l.5,1.9l.5,.8l.5,.2l.5,.1l.5-.2l.5,.7l.5,.4l.5-.6l.5-.4l.5,.8l.5,.1l.5,0l.5-.2l.5,0l.5,.1l.5,.3l.5,.2l.5-.5l.5,0l.5,1.3l.5-.6l.5-.3l.5,.3l.5-.6l.5-.1l.5,.2l.5-.2l.5-.4l.5,.6l.5,.6l.5-.1l.5,0l.5-.9l.5,.3l.5-.7l.5-.2l.5,.6l.5-.6l.5,.8l.5-.9l.5,.1l.5-1l.5-.6l.5,.2l.5,.2l.5-1.2l.5-.2l.5-.3l.5,0l.5,.3l.5,0l.5,.1l.5,.8l.5,.1l.5,0l.5-.7l.5,.5l.5-1.6l.5,0l.5-1.1l.5-.2l.5-.9l.5-1.5l.5,0l.5-1.2l.5-.4l.5,1.2l.5-.4l.5,1.5l.5,1.1l.5,1.1l.5,.5l.5,1.2l.5,0l.5,1.4l.5,.4l.5,.5l.5-.2l.5,.1l.5,1l.5-.3l.5,1.1l.5-1.1l.5,.2l.5,.1l.5,.5l.5,.3l.5-1.1l.5,.7l.5,.6l.5-.2l.5-.6l.5,.6l.5-.5l.5,.7l.5-.4l.5-.3l.5,.2l.5,0l.5-.3l.5,.2l.5-.2l.5,.2l.5,.2l.5,.1l.5-.8l.5,1.3l.5-.3l.5,.2l.5-.8l.5-.8l.5,1.4l.5-.1l.5-.8l.5,1.4l.5-1.2l.5,.3l.5,0l.5,.6l.5-.8l.5,.7l.5-.7l.5,.4l.5,.7l.5-.5l.5,.7l.5-.8l.5-.3l.5,0l.5,.1l.5,0l.5,.1l.5-.2l.5-.4l.5,.4l.5-.6l.5,.1l.5,.7l.5-1l.5,.4l.5,.1l.5,.1l.5-.5l.5,.5l.5,.6l.5-.7l.5,.1l.5,.2l.5-1.1l.5,.4l.5-.3l.5,.6l.5-.8l.5,.1l.5-.1l.5,.3l.5-.7l.5-.4l.5,.6l.5-1.1l.5-1.6l.5-1l.5-1.5l.5-.4l.5-2.5l.5-2.4l.5-.6l.5-1.2l.5-.7l.5,.4l.5,.2l.5,.8l.5,1.4l.5,2l.5,2.2l.5,.5l.5,2.3l.5,1l.5,.6l.5,.8l.5,.9l.5-.1l.5-.4l.5,.2l.5,.2l.5,0l.5,.8l.5-.7l.5,.6l.5,.3l.5-.4l.5,.7l.5-.8l.5,.6l.5-.2l.5-.6l.5,1.1l.5-.1l.5-.2l.5,.2l.5,1l.5-1.2l.5,.4l.5-.1l.5-.7l.5,.3l.5-.1l.5,.4l.5-.7l.5,0l.5-.8l.5-.3l.5-.3l.5,.5l.5-1.7l.5,.2l.5-.3l.5,.2l.5-1.5l.5,.8l.5,.5l.5,.5l.5,.6l.5-1l.5,.9l.5,.8l.5-1.1l.5,1.1l.5-.4l.5,.8l.5,.9l.5,0l.5-.5l.5,.7l.5-.6l.5,.4l.5,.6l.5-.4l.5,.3l.5,.3l.5-.2l.5-.5l.5,.4l.5,.5l.5,0l.5-.9l.5-.4l.5,.4l.5,.9l.5-1.2l.5,.3l.5,.4l.5,.2l.5,.6l.5,0l.5-1.7l.5,.7l.5,.5l.5-.7l.5,1.2l.5-.8l.5,0l.5-.2l.5,1.1l.5-1.1l.5,.4l.5,.5l.5-.7l.5-.3l.5,.3l.5,.2l.5-.7l.5,.6l.5,0l.5-.5l.5,.5l.5-.7l.5,.6l.5,.2l.5,.1l.5,.1l.5-.6l.5,.4l.5-.6l.5,.1l.5-.4l.5,.6l.5,.5l.5,0l.5,0l.5-.5l.5,.1l.5,.4l.5-.9l.5,.6l.5,.2l.5,.3l.5,.3l.5-.6l.5,.1l.5-.6l.5-.1l.5-.1l.5,.8l.5,.7l.5-1.2l.5-.9l.5,.9l.5,.4l.5-.8l.5,.2l.5,.6l.5-.1l.5,.2l.5-.3l.5,.2l.5-.5l.5,.6l.5-.5l.5,.2l.5,.1l.5,.3l.5-.8l.5-.2l.5-.2l.5,1.5l.5-.9l.5,.1l.5-.7l.5,.8l.5-.2l.5,1l.5-.7l.5-.8l.5,.4l.5,0l.5,.2l.5-.6l.5,.9l.5-.3l.5-.5l.5,.2l.5,.9l.5-.3l.5,.2l.5-.3l.5-.1l.5-.1l.5,.4l.5-.2l.5,1l.5-1.4l.5,.4l.5-.7l.5-.1l.5,.8l.5-.5l.5,1l.5-.7l.5-.3l.5,0l.5-.1l.5,.6l.5,.2l.5-.3l.5-.6l.5,.6l.5,.1l.5,.1l.5-.5l.5,.5l.5-.9l.5,.6l.5,.4l.5-.9l.5,.6l.5-.6l.5,1.2l.5-.9l.5-.3l.5,1l.5-1l.5,.8l.5-.3l.5,.4l.5-.2l.5,1l.5-1.2l.5,0l.5,.5l.5,.1l.5-.3l.5,.3l.5-.2l.5,.3l.5-1.2l.5,.8l.5-.1l.5-.8l.5,1.3l.5-.9l.5,.5l.5-.4l.5,.5l.5-.4l.5,.4l.5,.4l.5-.5l.5,.1l.5-.2l.5,.1l.5-.7l.5,.4l.5,.6l.5-.6l.5-.1l.5,.3l.5-.1l.5-.5l.5,.1l.5,.2l.5-.5l.5,.8l.5,.3l.5-1.3l.5,1.3l.5-.4l.5-.4l.5,.5l.5-.1l.5-.2l.5,.3l.5,.5l.5-.2l.5-.4l.5,.4l.5-.3l.5-.6l.5,.4l.5,.1l.5,.6l.5-.6l.5,0l.5,0l.5,0l.5,0l.5,0l.5,0l.5,0l.5,0"/>
<path stroke="#0000ff" d="M146.0,1072.3l.5,0l.5,0l.5,0l.5,0l.5,0l.5,0l.5,0l.5,0l.5,.1l.5-.6l.5,.3l.5-.5l.5-.2l.5,1.3l.5,.1l.5-1.1l.5,.5l.5-.2l.5-.2l.5,0l.5,1.4l.5-1.1l.5-.4l.5,.7l.5,.3l.5,.1l.5-.5l.5,.3l.5-.2l.5,.5l.5-.7l.5,.5l.5,.4l.5-1.3l.5,.7l.5-.2l.5-.2l.5,.1l.5-.1l.5-.2l.5-.4l.5,.4l.5,.3l.5,.6l.5-.4l.5,0l.5-.7l.5,.9l.5,.8l.5-.6l.5-.2l.5,.9l.5-1l.5,0l.5-.4l.5,.4l.5-.4l.5,.7l.5-.7l.5-.2l.5,.4l.5,.3l.5-.1l.5-.7l.5-.2l.5,.4l.5-.5l.5,.8l.5-.3l.5,.4l.5-.5l.5,.3l.5,.3l.5-.3l.5-1l.5,.4l.5,.7l.5-.5l.5-.3l.5,.1l.5-.7l.5,.4l.5-.7l.5-.4l.5-.8l.5,.8l.5-1l.5,.2l.5-1.6l.5-.6l.5-.5l.5-.9l.5,.5l.5-1.4l.5-.1l.5-1.6l.5,.1l.5-1.1l.5-.3l.5,.7l.5-.3l.5-.1l.5-.7l.5-.5l.5,1.1l.5-.1l.5,1l.5-1.2l.5,.9l.5-.8l.5,2.1l.5,.3l.5,.8l.5,.2l.5,.8l.5,0l.5,1l.5,.7l.5,.8l.5,.2l.5,.7l.5,.2l.5,.5l.5-.2l.5,0l.5,1.3l.5-.4l.5,.3l.5,.8l.5,.2l.5-1.3l.5,.3l.5,1.5l.5-.3l.5-.6l.5,.3l.5,.5l.5-.6l.5,.4l.5-1l.5,0l.5,1.3l.5-.5l.5,.3l.5,.8l.5-.6l.5-.6l.5,.7l.5-.9l.5,.3l.5,.1l.5-.8l.5,1.1l.5-.1l.5-.6l.5,.5l.5-.4l.5,.7l.5-.5l.5-.7l.5,1.2l.5-.1l.5-.8l.5,.3l.5,.5l.5,0l.5-.1l.5-.4l.5,.1l.5,.9l.5-.4l.5,.3l.5-.4l.5,.1l.5-1.1l.5,.2l.5-.7l.5,.7l.5-.3l.5,1.4l.5-1l.5,.7l.5-1.8l.5,.6l.5,.1l.5,1.1l.5,.2l.5-.8l.5-.1l.5,1.5l.5-1.2l.5,.2l.5,.5l.5-1.1l.5,.6l.5,.3l.5-.6l.5,.2l.5,.1l.5,0l.5-.2l.5,1l.5-1.4l.5,.6l.5,.2l.5-.6l.5,.4l.5-.6l.5,.4l.5-.7l.5,1.1l.5,0l.5-.5l.5,.1l.5-.3l.5,.1l.5-.2l.5,.5l.5,.4l.5-.5l.5-.7l.5,1.1l.5-.9l.5,.3l.5,.2l.5-1l.5,.4l.5,.5l.5-1l.5,1.9l.5-.6l.5-.3l.5,.4l.5,.5l.5-.8l.5,.5l.5-1l.5,1.2l.5-.6l.5,.3l.5-1l.5,.4l.5-.4l.5,.9l.5-.6l.5,.8l.5-.4l.5-.9l.5,1.8l.5-1.7l.5,0l.5,1.4l.5-.9l.5,.3l.5,.4l.5-.7l.5-.2l.5,.3l.5,.4l.5-.5l.5-.2l.5,.6l.5-.1l.5-.3l.5-.3l.5,1.1l.5-.1l.5,.1l.5-.8l.5,.7l.5-.9l.5,0l.5,.6l.5-.4l.5-.3l.5,.4l.5-.4l.5,1.3l.5-1.3l.5,1.8l.5-1.2l.5-.5l.5,1.2l.5-.5l.5,.6l.5-1l.5,.3l.5-.6l.5,.2l.5,.1l.5-.1l.5,1l.5-1.7l.5,1.1l.5-.5l.5,.7l.5-.4l.5,.2l.5-.5l.5,.7l.5-.7l.5,.4l.5,0l.5-.3l.5,.1l.5-.6l.5-.1l.5,.3l.5,.6l.5-.6l.5-.1l.5-.1l.5-.3l.5,.1l.5,.4l.5-.9l.5,1.2l.5-.1l.5-1l.5,.8l.5,.3l.5-1.2l.5,.2l.5,.6l.5-.6l.5-.1l.5-.2l.5,.3l.5-.3l.5-.1l.5,.1l.5-.9l.5,.2l.5-.5l.5-1.1l.5-.2l.5-.7l.5-.6l.5-1.1l.5-1.5l.5-.2l.5-1.5l.5-1.1l.5-.9l.5-1.1l.5-1l.5-.6l.5,1l.5,.2l.5,.7l.5,.4l.5,1.5l.5,.3l.5,1.1l.5,1l.5-.7l.5,1.3l.5,.9l.5,.6l.5,.2l.5-.3l.5,.4l.5,.8l.5-.7l.5,1.3l.5-1.4l.5-.3l.5,0l.5,.5l.5,1l.5-.2l.5-.5l.5,.2l.5,.7l.5-.3l.5,.2l.5,.6l.5,.2l.5-.1l.5,.8l.5-1.2l.5,.2l.5-.6l.5-1l.5,.7l.5-.8l.5-.4l.5-1.2l.5,1.5l.5-1l.5,.1l.5,1l.5,.6l.5,.5l.5,.5l.5,.4l.5,.4l.5,.6l.5,.4l.5,.2l.5-.6l.5,1.3l.5-.7l.5-.1l.5,.3l.5,0l.5-1.3l.5,.8l.5-.4l.5,.6l.5-.5l.5,.1l.5-.6l.5,1.1l.5-1.4l.5,.4l.5,0l.5,.2l.5-1.4l.5-.9l.5,.2l.5-1.2l.5,.4l.5-1.1l.5-1.2l.5-1.7l.5-1.3l.5-1l.5-2.2l.5-.9l.5-2.1l.5-3.2l.5-1.8l.5-2.3l.5-.9l.5-1.1l.5-3l.5-.3l.5,.6l.5-.2l.5,1.2l.5,.7l.5,.5l.5,1.1l.5,2.6l.5,1.6l.5,1.8l.5,.6l.5,2.3l.5,1.3l.5,.5l.5-.3l.5,1.6l.5-.9l.5,.3l.5,1.5l.5,.9l.5,.8l.5-.5l.5,.7l.5,0l.5,.4l.5,.7l.5,.3l.5,.6l.5,0l.5,1.1l.5-.8l.5-.2l.5,.3l.5,.5l.5-1l.5-.3l.5-.5l.5,.2l.5-1.5l.5,.3l.5-1.5l.5-1.6l.5-6.4l.5-35.8l.5-66.6l.5-1.6l.5,67.8l.5,35.1l.5,6.2l.5,2.1l.5,.1l.5,.8l.5,.1l.5,0l.5-.1l.5,1.2l.5-.1l.5,.6l.5-.7l.5-.2l.5-.2l.5,1.3l.5-1.4l.5,1.3l.5-.4l.5,.1l.5,1l.5,.3l.5-.6l.5,.2l.5,.4l.5,1l.5,0l.5-.3l.5,.6l.5,.7l.5-.5l.5,.9l.5,.8l.5-.1l.5,.3l.5-.4l.5,.2l.5-.4l.5,.3l.5,1.1l.5-.8l.5-.1l.5,.1l.5,0l.5-.1l.5,.4l.5-.5l.5-.2l.5-.2l.5,.7l.5,.6l.5,.3l.5,.3l.5-.1l.5,.2l.5,.5l.5-.8l.5,2.2l.5-.4l.5,.4l.5-.6l.5,.7l.5,.5l.5,.2l.5-.3l.5,.7l.5,.7l.5-.1l.5,.3l.5-.6l.5,1l.5-.5l.5-1l.5-.1l.5,.5l.5,.2l.5-.4l.5,.2l.5,.4l.5-.6l.5,.3l.5-.8l.5,.9l.5-1.3l.5,.4l.5-1.5l.5,1.1l.5-1l.5-1.5l.5-.3l.5-1.8l.5-.1l.5-1.4l.5-.3l.5,.5l.5-.8l.5,.6l.5,1.4l.5,.4l.5,1.1l.5,.5l.5,1.5l.5,.6l.5,.2l.5,.6l.5,.3l.5,0l.5-1.2l.5-.1l.5-.4l.5-.4l.5-.2l.5,.3l.5-1.6l.5-1.7l.5-.5l.5-.7l.5-.6l.5-.5l.5,.9l.5,.3l.5,.8l.5,1.1l.5,.7l.5,1.3l.5,1.1l.5,.2l.5,.3l.5,.6l.5,.2l.5-.2l.5,1.1l.5,.3l.5-.5l.5,.1l.5,.1l.5,.4l.5-.2l.5,.6l.5-.1l.5-.5l.5,.4l.5-.1l.5,0l.5-.4l.5-.5l.5,.1l.5,.4l.5,.4l.5-.5l.5-.3l.5,.9l.5,.1l.5-1.3l.5,.4l.5-1.5l.5-.5l.5-.2l.5-.5l.5-.4l.5-.8l.5-.4l.5-1l.5-1l.5-.5l.5-.6l.5,.7l.5-.1l.5,.6l.5-.1l.5,1.3l.5-.7l.5,1.9l.5,.6l.5-.2l.5,.7l.5,.7l.5,.4l.5,.6l.5,.1l.5,.4l.5,.2l.5,.9l.5-.6l.5-.6l.5,.4l.5,1.2l.5-1.2l.5-.6l.5,1.2l.5,.5l.5-.8l.5,.2l.5-.2l.5,.4l.5-.5l.5,.1l.5-.4l.5,.4l.5-.4l.5-.2l.5-.4l.5-.1l.5-1.6l.5,0l.5-1.5l.5-.2l.5-.4l.5-1.7l.5-1.8l.5-1.5l.5-1.2l.5-.5l.5,0l.5,.5l.5,1.1l.5,1.1l.5,.5l.5,1.2l.5,1.2l.5,1.6l.5-.1l.5,2.3l.5-.5l.5,.7l.5,0l.5,.3l.5,.4l.5,0l.5,.3l.5,.6l.5-.5l.5-.4l.5,.4l.5-.3l.5-.1l.5-1.2l.5,1.1l.5-.4l.5,.1l.5,.2l.5-1.3l.5-.6l.5,.3l.5-.8l.5-.4l.5-1.1l.5-.8l.5-1.2l.5-1.2l.5-1.5l.5-3.1l.5-4.4l.5-13.7l.5-30.3l.5-47.8l.5-43.9l.5,.5l.5,42.8l.5,48.6l.5,29.9l.5,14.7l.5,4.5l.5,1.5l.5,3.1l.5,.4l.5,1l.5,.5l.5,.5l.5,.5l.5,1.8l.5-.2l.5,.3l.5,.7l.5,.2l.5,.4l.5-.3l.5,.7l.5-.4l.5,.8l.5,.2l.5-.7l.5,.3l.5,.4l.5,.2l.5,.1l.5-.2l.5-.4l.5-.3l.5-2l.5-1.6l.5-2.8l.5-3.9l.5-2.4l.5-2.6l.5-1.2l.5,2.9l.5,2.8l.5,4.2l.5,3.2l.5,1.5l.5,1.1l.5,.9l.5-.9l.5,.8l.5-.8l.5-.3l.5-.6l.5-.5l.5-.4l.5-1.2l.5-.4l.5-.9l.5-.2l.5-.4l.5,0l.5,.9l.5,0l.5,1.4l.5,.9l.5,1.8l.5,.9l.5-.8l.5,1.1l.5,.1l.5,.5l.5-.8l.5,1.1l.5,.2l.5-.5l.5,.3l.5-.3l.5-.1l.5,1l.5-1l.5,.7l.5,.9l.5-.6l.5-1l.5,1.1l.5-.5l.5,.7l.5,0l.5-.3l.5-.3l.5-.1l.5,.6l.5-.1l.5-.2l.5,.3l.5-.9l.5,.6l.5-.3l.5,.2l.5,.3l.5-.4l.5,.2l.5-.4l.5-.2l.5,0l.5-.2l.5,.4l.5,0l.5-.9l.5,.7l.5,.4l.5-1l.5,.1l.5,0l.5,0l.5-.1l.5-1.3l.5,.5l.5-.9l.5-.4l.5-.1l.5-.6l.5-.2l.5-1.8l.5-1.1l.5-5.5l.5-18.2l.5-25l.5-1.2l.5,26.5l.5,18.5l.5,5.6l.5,.7l.5,.1l.5,2l.5-.6l.5,.7l.5-.1l.5-.5l.5,1.9l.5-.9l.5-1.2l.5,.7l.5-1l.5-.1l.5-.4l.5,.4l.5-1.7l.5,1.1l.5-.8l.5,.3l.5,.5l.5,1.1l.5,1.2l.5-.9l.5,1.6l.5,.4l.5-.6l.5,1.6l.5,0l.5,.4l.5,.1l.5,.4l.5-.5l.5-.1l.5,0l.5,.9l.5-.6l.5-.2l.5,.1l.5-.2l.5,0l.5,1.1l.5,.2l.5-.9l.5,.5l.5-.2l.5,0l.5-.4l.5-.3l.5,.6l.5-.9l.5,0l.5,1.3l.5-.9l.5,.5l.5-1l.5,.5l.5,.8l.5-1.2l.5,1.1l.5-.3l.5-.5l.5,.3l.5-.8l.5,.5l.5-.1l.5-.2l.5-.8l.5-.4l.5-.2l.5-.4l.5-.9l.5,0l.5-.4l.5-.6l.5,.1l.5,.7l.5-1.8l.5,1.4l.5,.4l.5,.7l.5,.3l.5,.2l.5,.4l.5-.3l.5-.4l.5,1.4l.5,.1l.5,0l.5,.3l.5,.9l.5-.3l.5,.3l.5,.2l.5-.2l.5,.8l.5-1.2l.5,.4l.5-.7l.5,.3l.5,0l.5,.8l.5-1.1l.5,.4l.5,0l.5,.4l.5-.5l.5,0l.5,.4l.5-1l.5,.9l.5-.1l.5-.6l.5-.5l.5,.1l.5-.9l.5-.8l.5-.6l.5-.9l.5-1.4l.5-.5l.5-1l.5-2.1l.5-.5l.5-.1l.5,.2l.5-.5l.5,1.3l.5,.4l.5,1.8l.5,1.4l.5,.5l.5,1.7l.5,.3l.5,.7l.5,1.2l.5-.3l.5-.4l.5,1l.5,.3l.5,.8l.5-1.4l.5,1.9l.5-1.2l.5-.1l.5-.3l.5,.8l.5,.6l.5-.9l.5,.6l.5-.2l.5-.7l.5,1.5l.5-1l.5-.3l.5,.4l.5,.6l.5-.2l.5-.2l.5-.5l.5,.7l.5-.9l.5,1.2l.5-.6l.5,.6l.5-.5l.5-.4l.5,1l.5-1.4l.5,1l.5-.2l.5-.1l.5-.4l.5,.2l.5,.2l.5-.4l.5-.2l.5,.3l.5,.3l.5-.2l.5,.7l.5-.9l.5,.4l.5-.1l.5-.9l.5,.8l.5,0l.5-.1l.5-.2l.5,.4l.5-.7l.5,.2l.5,.1l.5-.3l.5,.6l.5,.4l.5-1.2l.5,.9l.5-.8l.5-.1l.5,0l.5,.5l.5,0l.5,.2l.5-.5l.5,0l.5-.6l.5,.5l.5,.4l.5-.6l.5,.6l.5-1.1l.5,.5l.5,.3l.5-.5l.5-.1l.5-.9l.5-.2l.5,.2l.5-1.2l.5,.4l.5-.6l.5,.1l.5-1.5l.5,.3l.5-.5l.5-.8l.5-1.1l.5-.1l.5-1.9l.5-1.7l.5,.1l.5-2l.5-.6l.5-1.6l.5-1.4l.5-.9l.5-1.4l.5-.7l.5-1.9l.5-1.2l.5-.4l.5-1.1l.5-.5l.5-.7l.5,.3l.5-1.2l.5-.4l.5,2.3l.5,1.1l.5,0l.5,1.9l.5-.5l.5,2l.5,1l.5,1.7l.5,.7l.5,1.4l.5,1.4l.5,1.8l.5-.4l.5,1.6l.5,.9l.5,.7l.5,1.2l.5,.6l.5,1.9l.5-.1l.5,0l.5,2.2l.5-.4l.5,.1l.5-.7l.5,1.8l.5,.3l.5-1.1l.5,.9l.5-.4l.5-.4l.5,.9l.5,.3l.5-.2l.5,.4l.5-.9l.5-1.2l.5-1.3l.5-2.1l.5-2.9l.5-1.4l.5-2.7l.5,.6l.5,1.3l.5,3l.5,2.1l.5,2.2l.5,.9l.5,1.2l.5,.7l.5-.6l.5,.3l.5-.1l.5-.1l.5-.1l.5-.4l.5-.3l.5-.3l.5-.7l.5-.3l.5-.8l.5-.2l.5-.8l.5-2l.5-.8l.5-3.6l.5-17l.5-33.5l.5-.6l.5,33.9l.5,16.9l.5,3.9l.5,.3l.5,0l.5,.3l.5,.5l.5-.3l.5,.7l.5-.6l.5-.2l.5,1.2l.5-1.3l.5,.1l.5-1.1l.5,.3l.5,.9l.5-1.6l.5,1.1l.5,0l.5,.3l.5-.2l.5,.8l.5-.6l.5,1.5l.5,.3l.5,.3l.5-.2l.5,0l.5,.4l.5,1.5l.5-1l.5,0l.5,.6l.5,.9l.5,.5l.5-.4l.5,.9l.5-.8l.5,1.5l.5-.9l.5,1.5l.5-1.5l.5-1.2l.5-.9l.5,.5l.5-1.7l.5-1.3l.5-1.9l.5-1.7l.5-.6l.5-1.6l.5-1.8l.5,1.3l.5-.6l.5,1.4l.5,1.1l.5,2.9l.5,1l.5,1l.5,2.3l.5,1.4l.5,0l.5,1l.5,.6l.5,.6l.5-.1l.5,1.3l.5,.2l.5-.7l.5-.3l.5-.1l.5,.7l.5,.3l.5,.4l.5-1.4l.5,.9l.5,.4l.5-.2l.5,0l.5,.2l.5,.3l.5,0l.5,.3l.5,.3l.5-.4l.5-.5l.5,1.1l.5-1l.5,.3l.5-.7l.5-.1l.5,.2l.5,.5l.5,.4l.5-1.2l.5,.5l.5-1l.5,1.6l.5-.6l.5-.6l.5,.8l.5-.3l.5,0l.5,.2l.5-.2l.5-.4l.5,0l.5-.3l.5-.4l.5,.9l.5-.1l.5-.3l.5-.4l.5,.8l.5-.7l.5,.1l.5-.6l.5,.1l.5-.9l.5,.1l.5,.4l.5-1.1l.5-1l.5-.1l.5-1.1l.5,.2l.5-4.6l.5-15.8l.5-31.8l.5,.6l.5,30.9l.5,16.8l.5,3.9l.5,.6l.5-.1l.5,.6l.5,1l.5,1l.5-.1l.5,.1l.5,.9l.5-1.1l.5,.9l.5-.2l.5,.2l.5,.7l.5,0l.5-.6l.5,.6l.5,.3l.5,.4l.5-.7l.5,.3l.5-.2l.5-.4l.5,.5l.5,.1l.5,.5l.5-1.1l.5,1.2l.5-.9l.5-1.6l.5-4.5l.5-9.2l.5-10l.5,.9l.5,9.8l.5,8.9l.5,4.6l.5,1.3l.5-1l.5,1.7l.5-.9l.5,1.1l.5-.3l.5-.7l.5,1.3l.5-.3l.5-.1l.5-.1l.5,0l.5,.1l.5-.5l.5-.3l.5,.2l.5-1l.5,1l.5,.7l.5,.6l.5-.7l.5,.6l.5-.1l.5-1.3l.5,.4l.5-.4l.5,.5l.5,.2l.5,.8l.5-.7l.5-.4l.5,.7l.5-.5l.5,0l.5-.3l.5,0l.5-.5l.5,1.5l.5-.8l.5,.2l.5-.5l.5,.8l.5-.5l.5,1.3l.5-.5l.5-.5l.5,.3l.5-1.8l.5,.9l.5,.4l.5-.9l.5,.7l.5-.6l.5,.6l.5,.4l.5,.7l.5-.8l.5-.5l.5,.7l.5-.1l.5-.4l.5,0l.5,.4l.5-.6l.5-.6l.5,.1l.5,.4l.5-.1l.5,0l.5,0l.5,.2l.5,.2l.5,.6l.5-.9l.5,0l.5-.2l.5-.4l.5,.7l.5-1.2l.5,0l.5,.4l.5-1.1l.5,.8l.5,.7l.5-1.2l.5-.5l.5-1l.5,.5l.5-.5l.5-.2l.5-.7l.5-2.4l.5-13.5l.5-22.7l.5-.3l.5,24l.5,12.6l.5,2.4l.5,.7l.5,1.5l.5-.9l.5,1.2l.5,.7l.5-.2l.5-1l.5,.8l.5-.4l.5,.8l.5-.1l.5,.3l.5,.3l.5-.5l.5,0l.5,.9l.5,0l.5,.8l.5-.2l.5-.9l.5-.4l.5,.5l.5-.2l.5-.6l.5-1.2l.5-1.1l.5,.1l.5-.9l.5-.3l.5,1.8l.5,.1l.5,.5l.5,.5l.5,.7l.5,.7l.5,.9l.5-.2l.5-.9l.5,.7l.5,.8l.5-1.3l.5,.4l.5-.6l.5,.4l.5,.1l.5-.3l.5,1l.5,.8l.5-.1l.5-.1l.5-.2l.5,.2l.5,.2l.5-1l.5-.4l.5-.1l.5,0l.5,.6l.5,.4l.5-.7l.5,.7l.5-.4l.5-.4l.5-.2l.5,.4l.5,.5l.5-1.7l.5,1.1l.5-.7l.5,1.1l.5-.2l.5-.1l.5-.2l.5-1.2l.5,1.2l.5,.2l.5-.4l.5,.6l.5,.1l.5-.2l.5,.1l.5,0l.5,.3l.5,.4l.5-.3l.5-.7l.5-.1l.5,.3l.5,.1l.5-1.4l.5,.7l.5,.9l.5-.5l.5-.5l.5,.5l.5-.7l.5,.5l.5-.2l.5,.3l.5,.2l.5-.6l.5,.3l.5,.1l.5-.1l.5,.1l.5-1.3l.5,1l.5-.1l.5-.6l.5,1l.5-1.2l.5,.6l.5,.4l.5-.5l.5,.4l.5-1.3l.5-.4l.5-.2l.5-.1l.5-.3l.5-.3l.5-.9l.5-.3l.5-.3l.5-1.1l.5,.4l.5-1.5l.5,.4l.5,.2l.5-.7l.5,.6l.5-1.6l.5,2.4l.5,.1l.5,.2l.5,1l.5-.3l.5,1.2l.5,0l.5,.6l.5-.9l.5-4.9l.5-9.5l.5-9.9l.5,1.5l.5,9.8l.5,9.1l.5,4.6l.5,1.7l.5,.2l.5,.3l.5,.8l.5-.7l.5,0l.5-.9l.5,2.1l.5-.8l.5-.5l.5,.4l.5-.4l.5,.1l.5,.3l.5-.3l.5,.8l.5-.1l.5-.3l.5,.1l.5-.3l.5,.7l.5-1l.5,.8l.5-.7l.5,.4l.5,.6l.5-.9l.5,1.1l.5-.8l.5,.4l.5-.2l.5,.3l.5,.4l.5-1l.5,.2l.5-.5l.5,.9l.5-.6l.5-.2l.5,.4l.5-.4l.5,.6l.5,.5l.5-.6l.5-.2l.5-.1l.5-.4l.5,.7l.5-.5l.5,.6l.5-.1l.5,.7l.5,.3l.5-.7l.5,.4l.5-.4l.5-.1l.5,0l.5-.4l.5-.1l.5-.1l.5-.5l.5,.2l.5,0l.5,.2l.5,.5l.5-.5l.5-.2l.5,.6l.5,.2l.5-.1l.5,.7l.5-.1l.5,.5l.5-2.1l.5,1.3l.5-.5l.5,.1l.5,0l.5-.5l.5,.6l.5-.8l.5,.2l.5-.1l.5,.5l.5-.6l.5,.8l.5-.9l.5,.6l.5-.3l.5-.2l.5,.7l.5,.2l.5,0l.5-.9l.5,1.1l.5-.7l.5,.4l.5,.3l.5,.8l.5-1.8l.5,.1l.5,.5l.5-.7l.5,1.1l.5-.8l.5-.3l.5-.3l.5,.3l.5,.4l.5-1.5l.5,.2l.5-.3l.5-.5l.5-.1l.5-3.2l.5-2.4l.5-2.2l.5-1.8l.5,.4l.5,1.6l.5,2.9l.5,1.5l.5,2.1l.5,1.3l.5,.4l.5,.4l.5,.8l.5,.1l.5-.1l.5,.9l.5-1l.5-.2l.5,.8l.5-.7l.5-.1l.5,1.2l.5-1l.5-.2l.5-.7l.5,.4l.5,1.1l.5-.9l.5,.8l.5-.1l.5-.6l.5,.4l.5,.1l.5-.5l.5,.3l.5,.3l.5-.1l.5-.8l.5,.7l.5-1.3l.5,1.1l.5,.1l.5-1.6l.5-.6l.5-1.6l.5-1.5l.5-.8l.5-1.7l.5-.2l.5,1.3l.5,.2l.5,2.5l.5,1.5l.5,.5l.5-.1l.5,.2l.5,0l.5-.4l.5,.1l.5,.1l.5-.1l.5-1.3l.5,.2l.5,.8l.5-.9l.5-1l.5,0l.5,.1l.5-.7l.5-1l.5-.3l.5-1.6l.5-.1l.5-2.1l.5-5.6l.5-29.7l.5-55l.5,0l.5,56.2l.5,28.6l.5,5.9l.5,1l.5,1.1l.5,1.1l.5,.2l.5,.8l.5,.4l.5,.9l.5-.4l.5,.2l.5,1.3l.5-.3l.5-.9l.5,.7l.5,1.1l.5-.4l.5,.6l.5-1.1l.5,.4l.5,1.4l.5-.1l.5,1.2l.5-1.3l.5-.1l.5,.1l.5,.7l.5-1.5l.5-.7l.5-.1l.5-1.7l.5,.1l.5-.4l.5,.2l.5,.8l.5,2l.5,.4l.5,.2l.5,1l.5,.7l.5-.7l.5-.6l.5,.7l.5-1l.5,.7l.5,.5l.5-.2l.5-.5l.5,1l.5-.2l.5-.2l.5,.2l.5-.3l.5-.8l.5,.2l.5,.8l.5-.5l.5-.6l.5,.9l.5-.4l.5-.3l.5,.6l.5-.2l.5,.3l.5,.2l.5-1.4l.5,.4l.5,.5l.5-.8l.5,.7l.5,0l.5-.3l.5,.5l.5-.5l.5,.9l.5-.4l.5,.4l.5-.9l.5,.5l.5,.2l.5-.7l.5,.9l.5-.2l.5-1.1l.5,1.3l.5-1.3l.5-.2l.5,.2l.5,.4l.5-.4l.5,.1l.5,.4l.5,0l.5,.3l.5-.2l.5,0l.5-.6l.5,.2l.5,.1l.5,0l.5,.1l.5-1.2l.5,1.5l.5-.9l.5,.6l.5,.4l.5-.4l.5-.5l.5-.2l.5,1l.5-.7l.5,.2l.5,0l.5-.3l.5-.5l.5,.4l.5,.7l.5-.4l.5,0l.5-.6l.5,.1l.5,1.2l.5-.1l.5-.5l.5-.2l.5,.1l.5-.3l.5,1l.5-.6l.5-.5l.5,.5l.5-.8l.5,.2l.5,.3l.5-.1l.5-.3l.5,.3l.5,.3l.5-.4l.5,.1l.5-.4l.5,.1l.5,1.4l.5-1.3l.5,.6l.5-.2l.5-.2l.5,1l.5-1.4l.5,.3l.5,.6l.5,0l.5-.8l.5,.5l.5-.4l.5,.2l.5,0l.5,1.1l.5-.5l.5-.6l.5-.1l.5-.2l.5,.2l.5-.6l.5,1.2l.5-.8l.5,.4l.5,.3l.5-.4l.5,.2l.5-.8l.5,.6l.5-.1l.5-.2l.5-.2l.5-.2l.5,.2l.5,.6l.5,.3l.5-.5l.5-.4l.5,.2l.5,.3l.5,0l.5,.5l.5-.4l.5-.6l.5,.6l.5-.4l.5,.2l.5-.3l.5,.5l.5,.5l.5,0l.5-1.2l.5,.5l.5-.7l.5,1.3l.5-.5l.5,.2l.5-1l.5,.3l.5,.6l.5-1.5l.5,.3l.5-4.4l.5-8.1l.5-8l.5,0l.5,7.9l.5,8.6l.5,3.2l.5,1l.5,.4l.5,1.1l.5-1.2l.5,.5l.5,0l.5,.3l.5,.7l.5-.5l.5-.8l.5,.9l.5-1.3l.5-.9l.5-.5l.5-1.9l.5-2.8l.5-2.7l.5-.8l.5,.3l.5,.9l.5,2.3l.5,2.6l.5,1.3l.5,1.2l.5,1.3l.5,.5l.5-.2l.5-.3l.5,1l.5-.3l.5,0l.5,.7l.5-.2l.5-.1l.5-1.2l.5,0l.5-.9l.5-1.4l.5-.3l.5-1.5l.5,.7l.5,.5l.5,1.7l.5,.5l.5,.3l.5,1.2l.5,1.4l.5-.1l.5-.5l.5-.2l.5,.2l.5-.7l.5,1.3l.5-.7l.5-.7l.5,.8l.5,.1l.5,.3l.5-.6l.5-.1l.5-.3l.5,1.1l.5-.5l.5-.6l.5,1l.5,0l.5-.1l.5-.3l.5,.7l.5-.4l.5-.7l.5,.7l.5-.3l.5-.7l.5,.7l.5,1l.5-2.1l.5,1.4l.5-.6l.5,.7l.5-.2l.5-.2l.5,1.1l.5,0l.5-.2l.5-.9l.5,.4l.5,.2l.5,.4l.5-1l.5,.7l.5-.7l.5,.7l.5-1.3l.5,1.2l.5,.7l.5-1.5l.5-.3l.5,.3l.5-.5l.5,.2l.5,0l.5-.5l.5-.8l.5-.6l.5,.1l.5-.5l.5-.9l.5,.6l.5-1l.5-.8l.5,1.8l.5-.4l.5,.8l.5,.5l.5,.6l.5,.4l.5,.4l.5,.5l.5,.3l.5,.3l.5-.2l.5,.9l.5,0l.5-.2l.5-.7l.5,.2l.5,.7l.5-.5l.5-.4l.5-.3l.5,.9l.5,.1l.5-.2l.5,.5l.5-.2l.5,.3l.5,.3l.5-1.3l.5,1.2l.5,.3l.5,.1l.5-.4l.5,.2l.5,.1l.5-.6l.5,.7l.5-1l.5,.4l.5,.1l.5-.8l.5,.6l.5,0l.5,.6l.5-1.3l.5,.6l.5,.2l.5-.4l.5-.4l.5,1.5l.5-.2l.5-.9l.5,.5l.5,.5l.5-1l.5,1.3l.5-.4l.5-.9l.5,.2l.5,.6l.5-.8l.5,.8l.5,.7l.5-.9l.5-.8l.5,.1l.5,1.2l.5,.5l.5-1.2l.5,.3l.5,0l.5-.2l.5,.9l.5-1.2l.5,.2l.5,0l.5,.9l.5-1.3l.5,.1l.5,1.1l.5-1.3l.5,.6l.5,.8l.5-.4l.5-.6l.5,.3l.5-.5l.5-.3l.5,.5l.5-.5l.5,.3l.5-.5l.5,.1l.5-.2l.5,.5l.5-.2l.5-.2l.5,.2l.5-.4l.5-.7l.5,.3l.5-.5l.5-.2l.5-.1l.5,.4l.5-.4l.5-1.1l.5-.4l.5-.5l.5-1.2l.5,0l.5-1.2l.5-3.1l.5-17.1l.5-31.8l.5,.3l.5,31.9l.5,16.4l.5,4.3l.5,.6l.5-.7l.5,1.5l.5,2l.5-.5l.5,.5l.5-.3l.5,.8l.5-.2l.5-.4l.5,1l.5,.5l.5,.3l.5-.4l.5,.8l.5-1.1l.5,1l.5-1.4l.5,1l.5,.1l.5,.3l.5,.3l.5,0l.5-.8l.5,1.2l.5-1.2l.5,.2l.5,.4l.5-.4l.5-.1l.5,.4l.5,.1l.5,.2l.5-.4l.5,.3l.5-.5l.5,.7l.5-.5l.5,.2l.5-.4l.5-.4l.5,.6l.5,.5l.5-.2l.5-.9l.5,.3l.5-.5l.5-.3l.5-.3l.5-.3l.5,.9l.5-1.2l.5,.8l.5-.2l.5-.8l.5-.8l.5,.7l.5,.4l.5-1l.5-.2l.5,.8l.5-1.1l.5-1l.5-.5l.5,.6l.5-.7l.5-.1l.5-.3l.5,0l.5-.2l.5-.5l.5-.1l.5-.3l.5-.9l.5-.5l.5,.5l.5-.8l.5-.2l.5,.1l.5-.2l.5-.2l.5,1.2l.5-.6l.5,.5l.5,.2l.5,.8l.5,.2l.5-.9l.5,1.4l.5,0l.5-.1l.5,1l.5-.2l.5,.5l.5-.8l.5,2.2l.5-1l.5-.1l.5,1.4l.5-.2l.5,.3l.5,.3l.5-.7l.5,1.8l.5-.7l.5,.8l.5,.2l.5-.5l.5,.4l.5-.2l.5,1l.5-.1l.5-.6l.5,1.6l.5-.9l.5,.1l.5,.7l.5-.3l.5,.3l.5-.8l.5,0l.5,.6l.5-.5l.5,1.1l.5-.9l.5,.7l.5-.1l.5,.1l.5-.8l.5,.8l.5,.2l.5,0l.5,.1l.5-.3l.5,.1l.5,.2l.5-.2l.5,.2l.5,0l.5-.3l.5-.7l.5,.6l.5,.3l.5-.1l.5,.5l.5-.6l.5-.3l.5,.4l.5,.9l.5-1l.5-.2l.5-.1l.5,.7l.5-.4l.5-.1l.5-.4l.5,.2l.5-.2l.5,.3l.5,.7l.5-.8l.5,1l.5-1.1l.5,.7l.5-.8l.5-.4l.5,.1l.5,.6l.5-1.4l.5-.2l.5-.4l.5-.1l.5-1.6l.5-1l.5-1.4l.5,.4l.5-1.5l.5-.1l.5,.2l.5,.2l.5,.5l.5,0l.5,2.3l.5,.6l.5,.3l.5,1.3l.5,.1l.5,1l.5,.5l.5-.1l.5,.9l.5-1.3l.5,.8l.5,1.3l.5-1.1l.5,.1l.5-.3l.5,.1l.5,.2l.5-.8l.5,1.7l.5-1.1l.5,.3l.5,.2l.5,.3l.5-.4l.5,.5l.5-1.5l.5,.9l.5-.1l.5,.1l.5-.1l.5,.6l.5-.5l.5,.4l.5-.6l.5,.7l.5-.5l.5-.8l.5,.3l.5,1.3l.5-1.2l.5,.3l.5,0l.5-.3l.5,.5l.5,.3l.5-.2l.5,.4l.5,.7l.5-.8l.5-.4l.5,.1l.5,.1l.5-.1l.5,.3l.5-.7l.5-.7l.5,1l.5-.3l.5,.6l.5-.7l.5,.3l.5-.7l.5-.2l.5,.3l.5,.5l.5,0l.5-.7l.5,.2l.5-.7l.5,0l.5-.3l.5,.7l.5,0l.5-1.1l.5,.2l.5,.1l.5-.8l.5,1.5l.5,.2l.5,.3l.5-1.1l.5,1.3l.5-1l.5,.9l.5,.3l.5,.2l.5-1.3l.5,1.7l.5,.4l.5-.6l.5,.2l.5-.7l.5,.9l.5-.1l.5-.4l.5,.2l.5,.5l.5,.5l.5-1l.5,.6l.5-1.3l.5,.1l.5,1l.5-.2l.5-.8l.5-.4l.5,.8l.5,0l.5-.4l.5,.4l.5-.4l.5,0l.5,1l.5-.6l.5,.3l.5-.3l.5-.3l.5,.2l.5,.2l.5,.3l.5-.7l.5,.4l.5,.4l.5-.5l.5-.6l.5,.2l.5,.1l.5-.5l.5,0l.5,.7l.5-.1l.5,.6l.5-1.1l.5-.3l.5,.1l.5,.9l.5,0l.5-1.1l.5,.8l.5-.4l.5-.3l.5,1.4l.5,.1l.5-1.9l.5,1.5l.5-.2l.5,0l.5-.4l.5,.7l.5-.7l.5,.1l.5,.3l.5-.4l.5,.1l.5-.8l.5,.6l.5-.6l.5-1.6l.5-6.7l.5-11.7l.5-12.1l.5-.7l.5,12.7l.5,11.7l.5,6l.5,1.5l.5,.5l.5-.8l.5,.6l.5-.1l.5,.1l.5-.7l.5,0l.5,.6l.5-1.4l.5-.8l.5-.3l.5-1.9l.5-6.8l.5-13.4l.5-13.3l.5-.8l.5,14.1l.5,13.5l.5,6.5l.5,2.4l.5,.3l.5-.2l.5-3.2l.5-5.1l.5,.3l.5,6.4l.5,3.3l.5-.2l.5-.2l.5,1.6l.5,.8l.5-.1l.5-.8l.5,.3l.5,.5l.5-1.1l.5,1l.5,.2l.5-.2l.5-.8l.5,.4l.5,.6l.5,0l.5,.7l.5-1.2l.5-.4l.5,.6l.5-.3l.5,.2l.5,0l.5,.3l.5-.2l.5,.5l.5-1l.5,.5l.5-.2l.5,.4l.5-.7l.5-.4l.5,1.1l.5-1.6l.5,.7l.5,0l.5-.1l.5-.7l.5-.2l.5-.6l.5,1.3l.5-1l.5,1.1l.5-1.1l.5,.7l.5-.6l.5,.3l.5,.9l.5-.8l.5,.6l.5,.7l.5-.6l.5,.6l.5,.7l.5-.3l.5,.7l.5-.5l.5-.3l.5-.1l.5-.1l.5,.1l.5-.7l.5,.2l.5,.6l.5-1.7l.5,1.6l.5-.4l.5-.2l.5-.2l.5-.1l.5-1l.5,.5l.5-.9l.5,1.1l.5-.7l.5,.6l.5-.7l.5,.1l.5,.8l.5-.4l.5-.4l.5,1.1l.5-.3l.5,.1l.5,.8l.5-.4l.5,.3l.5,.2l.5-.3l.5,.1l.5,.9l.5,.5l.5-.7l.5,.5l.5,.3l.5-.7l.5-.1l.5-.1l.5,0l.5,.1l.5,.3l.5-.2l.5,.4l.5,.1l.5-.1l.5,.6l.5-.6l.5-.6l.5,.1l.5,.6l.5-.9l.5,.3l.5,0l.5-.5l.5,1.3l.5,.3l.5-.1l.5,0l.5-.8l.5,1.3l.5-1.1l.5,.7l.5-1.5l.5,.8l.5,.6l.5-1l.5-.1l.5,.5l.5,.9l.5-.7l.5-.5l.5,.8l.5-1l.5,.4l.5,.3l.5-.4l.5,.3l.5-.6l.5,.2l.5,.3l.5-.1l.5,0l.5-.1l.5-.1l.5,.7l.5-.3l.5-.1l.5-.2l.5,.2l.5-.3l.5,.7l.5-.2l.5,.5l.5-.8l.5-.1l.5,.1l.5,.3l.5-.4l.5,0l.5-1l.5,1.7l.5-.2l.5-.1l.5-.5l.5-.3l.5,.6l.5-1.3l.5,1l.5,.6l.5-.2l.5-.6l.5,.4l.5,.2l.5-.5l.5,.3l.5-.4l.5,.2l.5-.3l.5-.3l.5-.1l.5,.3l.5,.5l.5,0l.5-1l.5-.3l.5,.1l.5,.5l.5,0l.5-1.1l.5-.1l.5-.2l.5-.6l.5-.3l.5,.2l.5-.8l.5-.1l.5-.6l.5-1.1l.5,.2l.5,.3l.5-.8l.5-.1l.5,.7l.5,.7l.5-.7l.5,.2l.5-.1l.5,.3l.5,0l.5,.7l.5-.1l.5,.7l.5-.6l.5,1.1l.5-1.1l.5,.6l.5-.2l.5,.7l.5-.9l.5-.6l.5-.6l.5,.8l.5-2.4l.5-.6l.5,.1l.5-.2l.5,.4l.5,.3l.5,.9l.5,1.2l.5,.4l.5,.9l.5,.5l.5-.9l.5,1.2l.5,1.2l.5-.1l.5-.4l.5,.8l.5,.2l.5-.4l.5,.4l.5,.1l.5-.6l.5,.3l.5-.1l.5,.9l.5-.9l.5,.6l.5-.1l.5-.2l.5,.2l.5,.6l.5-.9l.5,.3l.5,.6l.5-.4l.5,.4l.5-.4l.5,0l.5,.1l.5-.3l.5-.1l.5,.1l.5,.6l.5-1.2l.5,.1l.5,1l.5,.2l.5-.6l.5,.5l.5,.7l.5-.5l.5,.4l.5-.6l.5-.8l.5,.1l.5,.7l.5,.2l.5,.1l.5,0l.5-1l.5,.7l.5,0l.5-.2l.5-.6l.5,1.8l.5-.4l.5-.7l.5,1l.5-.3l.5-1.2l.5,.9l.5-1.3l.5,1.2l.5-.4l.5,0l.5,0l.5,.8l.5-.3l.5,.2l.5-.5l.5-.1l.5,.8l.5-.2l.5-.7l.5,.1l.5-.2l.5,.5l.5-.4l.5,.1l.5,.9l.5-.8l.5-.9l.5,.4l.5,.1l.5,.1l.5-.4l.5-.9l.5-1.5l.5-3l.5-4.7l.5-3.6l.5-.7l.5,4.9l.5,3.7l.5,3.7l.5,1.7l.5,.4l.5-.1l.5,.8l.5-.9l.5,.7l.5-.2l.5,.3l.5,.2l.5-.1l.5,.4l.5-1.1l.5,.2l.5-.2l.5,0l.5,1l.5-.9l.5,.1l.5,.2l.5-1.2l.5-.5l.5-1.2l.5-.2l.5,.6l.5,2l.5-1l.5,.6l.5,.9l.5,.3l.5-.7l.5,.9l.5-.9l.5,.5l.5,.5l.5-.4l.5,.2l.5-.3l.5,.8l.5-.7l.5,.7l.5-.6l.5-.2l.5-.6l.5,1l.5-.4l.5-.2l.5,.6l.5,0l.5-.3l.5-.2l.5,.1l.5-.5l.5,0l.5-.3l.5,.6l.5,.2l.5,.4l.5-.5l.5,.4l.5-.1l.5-.7l.5-.3l.5,1.5l.5-.5l.5,.1l.5,.3l.5,.2l.5-.3l.5-.6l.5,.5l.5,.3l.5-.6l.5-.8l.5-.7l.5,1l.5-.3l.5,.1l.5-1.2l.5,.3l.5-1.1l.5-.5l.5-.1l.5-.8l.5,.1l.5,.1l.5-.5l.5,.1l.5-.9l.5,2.4l.5-.2l.5,.7l.5-.3l.5,1.1l.5-.3l.5,1.1l.5-.4l.5,1.2l.5-.4l.5,0l.5,.3l.5,.5l.5-1l.5-.2l.5,.5l.5-.8l.5,.7l.5,.7l.5-.6l.5-.6l.5,.9l.5-.2l.5,.4l.5,.1l.5-.4l.5-.5l.5,.3l.5,.6l.5-.3l.5-.1l.5,.2l.5-.2l.5,0l.5,1.4l.5-.5l.5-.8l.5,1l.5-.4l.5-.6l.5-.1l.5-.3l.5,1.1l.5,.3l.5,.3l.5-1.1l.5,.6l.5-1.2l.5,.2l.5-.2l.5,.5l.5,.2l.5-.3l.5,1l.5-.9l.5-.4l.5,.1l.5,.4l.5-.3l.5-.4l.5-.5l.5,1l.5,.3l.5,0l.5-.6l.5,1.6l.5-1.8l.5,.4l.5-.6l.5,.6l.5,1l.5-.7l.5-.8l.5-.1l.5,1.6l.5-1.2l.5-.2l.5,.1l.5,.2l.5-.6l.5,.7l.5,.4l.5-.4l.5,.1l.5-.3l.5,1l.5-1.7l.5,.5l.5-.6l.5,.8l.5-.2l.5-.8l.5-2.2l.5-4.3l.5-6.1l.5-3.7l.5-1l.5,5.2l.5,5.5l.5,4.2l.5,2.2l.5,.5l.5,.4l.5,.4l.5,.3l.5,.1l.5-.5l.5-.1l.5,0l.5,.5l.5-.9l.5,1.1l.5,.1l.5-.4l.5,.8l.5-.3l.5-.6l.5,.5l.5-.2l.5,.4l.5-1l.5,.6l.5-.4l.5,.3l.5-.5l.5,.7l.5-.3l.5,.1l.5,.6l.5-.3l.5-.3l.5-.6l.5,.5l.5-.1l.5,.1l.5-.5l.5,.7l.5-.4l.5-.4l.5,.4l.5,.9l.5-.7l.5,.1l.5,.2l.5-.4l.5-.6l.5,.2l.5,.1l.5,.7l.5,0l.5-.2l.5-1.7l.5-2.4l.5-6.6l.5-6.5l.5-.4l.5,6l.5,6.8l.5,2.3l.5,1.7l.5-.2l.5,.2l.5,.6l.5-.5l.5,.2l.5,0l.5-1.2l.5-3.1l.5-5.4l.5-7l.5,.4l.5,6.9l.5,5.3l.5,3.7l.5,1.7l.5-1l.5,.2l.5-1.2l.5,.7l.5,1.4l.5-.9l.5,.2l.5-.6l.5,.8l.5,.1l.5-1l.5,.3l.5,.4l.5-.7l.5,.3l.5-.1l.5,.4l.5,.9l.5-1.1l.5-.3l.5-.2l.5,.7l.5,.5l.5-.3l.5-.3l.5-.1l.5-.2l.5,.5l.5-.2l.5-.6l.5,1.2l.5-.6l.5,.2l.5-.5l.5,.5l.5,.6l.5-1.4l.5,.3l.5,.1l.5,.5l.5-.1l.5-.1l.5,.9l.5-.3l.5-.4l.5-.6l.5,.3l.5,.1l.5-.3l.5,.4l.5-.7l.5,0l.5,.6l.5-.2l.5,.1l.5-.1l.5,.4l.5-.5l.5,.1l.5-.2l.5,.4l.5-.1l.5-.2l.5-.2l.5,.3l.5-.4l.5,1l.5-.1l.5-.3l.5,.5l.5-.1l.5-.9l.5,.4l.5-.3l.5,0l.5-.1l.5-.3l.5,.8l.5,.4l.5-.6l.5,.2l.5-.2l.5,.1l.5-.1l.5,.3l.5,.9l.5-.5l.5,.2l.5,.2l.5-.6l.5-.4l.5-.2l.5-1l.5-1.1l.5-1.3l.5-1.8l.5-1.5l.5-.9l.5-.5l.5,2.1l.5,.8l.5,2.2l.5,.6l.5,1.7l.5,.5l.5,.2l.5,.3l.5-.5l.5,.3l.5,.5l.5-1.8l.5,2.2l.5-.7l.5-.1l.5,.5l.5-.1l.5-.4l.5,.1l.5-.4l.5,.7l.5-.4l.5-.8l.5,.8l.5,0l.5-.2l.5-.6l.5,.5l.5,.9l.5-.4l.5-1.1l.5,1l.5,.5l.5-1l.5,.2l.5,.7l.5,.4l.5-1.4l.5,.3l.5-.3l.5,.5l.5-.1l.5,.1l.5,.5l.5-.7l.5,.3l.5,.1l.5-.2l.5,.2l.5-.5l.5,.1l.5,.6l.5-.9l.5-.2l.5,.9l.5,0l.5-.1l.5,.5l.5-.6l.5-.3l.5,.8l.5-1.4l.5,1.2l.5-.4l.5-.1l.5-.3l.5-.1l.5,1.8l.5-1.1l.5-.4l.5-.2l.5-.8l.5,1.5l.5,.6l.5-1.3l.5,.7l.5,.4l.5-.8l.5,.3l.5-.3l.5-.5l.5,.2l.5-.5l.5,.2l.5,.7l.5,.6l.5-.7l.5,.3l.5-.4l.5,0l.5,.3l.5,.1l.5-.2l.5-.2l.5,.9l.5-.8l.5-.1l.5,.2l.5,.2l.5,.1l.5-.3l.5,.1l.5,0l.5,.4l.5-.6l.5,.2l.5,.3l.5,.3l.5-.4l.5-.2l.5-.3l.5,.4l.5-.9l.5,1.4l.5-.4l.5-.6l.5,.5l.5-.1l.5-.5l.5,.1l.5,.3l.5,.6l.5-.3l.5,.2l.5-.2l.5,.1l.5,.5l.5-.3l.5-.3l.5,.8l.5-.8l.5-.4l.5-.2l.5,.9l.5-.1l.5,.1l.5,.2l.5-1.4l.5,1l.5,.9l.5-.5l.5-.1l.5-.6l.5,.5l.5-.8l.5,.6l.5-.3l.5-.8l.5-.2l.5,.7l.5-.1l.5,1.1l.5-1.2l.5,1.2l.5-.7l.5-.6l.5,1.1l.5-.7l.5-.1l.5,.5l.5-.1l.5,.4l.5-.3l.5,.1l.5,.1l.5-.4l.5,.5l.5-.6l.5-.2l.5,1l.5,.3l.5-.9l.5,0l.5,.3l.5-.2l.5,.4l.5-1.2l.5,1.1l.5-.7l.5,.3l.5-.4l.5,.4l.5,.3l.5-.4l.5,0l.5,.5l.5,0l.5-.7l.5,.9l.5-.7l.5-.4l.5,0l.5,.6l.5-.3l.5,.6l.5-.1l.5-.1l.5-.5l.5,0l.5,.2l.5,0l.5-.2l.5-.1l.5,.9l.5-1.1l.5,0l.5-.2l.5,.3l.5-.2l.5-.4l.5,1.1l.5-1.3l.5,.6l.5-.5l.5,0l.5,.8l.5-.2l.5,.2l.5,1.1l.5-.2l.5-.6l.5-.1l.5-.3l.5,.2l.5,.2l.5-.3l.5,.3l.5,.1l.5-.4l.5,0l.5-.3l.5,1.3l.5-1l.5-.1l.5,.7l.5-.2l.5,0l.5,.1l.5-.1l.5,.9l.5-1.5l.5,.1l.5,.1l.5,.3l.5-.7l.5,.8l.5-.5l.5,.4l.5-1.1l.5,.7l.5,.2l.5,.1l.5,.6l.5,.4l.5,.7l.5-.9l.5-.5l.5-.2l.5,0l.5,.4l.5-.1l.5-.9l.5,.7l.5,.1l.5-.4l.5,.1l.5-.1l.5-.5l.5,.4l.5,0l.5,.5l.5-.2l.5,0l.5,0l.5,0l.5,0l.5,0l.5,0l.5,0l.5,0"/>
<path stroke="#00ffff" d="M146.0,949.4l.5,0l.5,0l.5,0l.5,0l.5,0l.5,0l.5,0l.5,0l.5-.2l.5-.4l.5,.6l.5,.5l.5-.5l.5-.4l.5,.2l.5-.2l.5,.5l.5-.3l.5,.5l.5-.8l.5-.1l.5,1.2l.5-.6l.5,.2l.5,0l.5,.1l.5-.5l.5-.5l.5-.1l.5,.7l.5-.2l.5-.4l.5,.1l.5,.7l.5-.1l.5-.3l.5,.1l.5,.6l.5-.1l.5-.7l.5,.7l.5-.1l.5-.3l.5,0l.5,.1l.5,0l.5-.1l.5,.1l.5-.4l.5,1.1l.5-1l.5-.1l.5,.2l.5,1.2l.5-.8l.5-.3l.5-.3l.5,.2l.5,0l.5,.2l.5-.4l.5,0l.5,.7l.5-.3l.5-.8l.5,.9l.5-.7l.5-.2l.5,.2l.5,.5l.5-.6l.5,.5l.5,.1l.5,.1l.5,0l.5-.6l.5,.2l.5-.3l.5,.1l.5-.4l.5,.4l.5-.9l.5,.7l.5-.7l.5,.2l.5-.1l.5-.3l.5-.6l.5,.1l.5-.7l.5-1.4l.5-.4l.5-1.2l.5-.7l.5-1.8l.5-2.2l.5-1.3l.5-2.5l.5-1.3l.5-.9l.5-2l.5-.2l.5,1l.5-.6l.5,1l.5,1.7l.5,1.9l.5,2.1l.5,1.4l.5,1.6l.5,1l.5,1.6l.5,1.2l.5,.9l.5,.9l.5,.4l.5-1l.5,1.5l.5,1.3l.5,0l.5-.8l.5,.7l.5,0l.5,.4l.5,.2l.5,.3l.5-1.1l.5,.4l.5,.6l.5-.7l.5-.1l.5,1.1l.5,.4l.5-.5l.5-.3l.5-.6l.5,.2l.5,.3l.5-.3l.5-.1l.5,.8l.5,0l.5-.3l.5,.4l.5-.1l.5-.4l.5-.3l.5,.4l.5,.5l.5-.4l.5-.3l.5,.9l.5-.3l.5-1.1l.5,1.2l.5-.1l.5,.8l.5-.4l.5-1.2l.5,.9l.5,.3l.5-.1l.5,.4l.5-1.1l.5,.6l.5,.1l.5,.1l.5-.3l.5,.1l.5-.8l.5,.2l.5,.1l.5-.1l.5,0l.5,.1l.5-.2l.5,.3l.5-.7l.5,.2l.5,.4l.5,.8l.5-.4l.5-.4l.5,.7l.5-.6l.5-.3l.5,.8l.5,.2l.5-1l.5,.5l.5-.2l.5,.4l.5-1.1l.5,.2l.5,.6l.5-.8l.5,.6l.5-.3l.5,.1l.5,1l.5-.6l.5,.2l.5,.2l.5-.1l.5-.5l.5,.2l.5,.4l.5,.1l.5-.8l.5,.4l.5-.2l.5-.3l.5-.1l.5,.2l.5,.2l.5,.3l.5,.4l.5-1l.5-.1l.5,0l.5,.4l.5-.2l.5,.2l.5,.6l.5-.6l.5-1.1l.5,1.4l.5-.1l.5-.1l.5-.1l.5,.6l.5-.5l.5-.1l.5,.7l.5,0l.5-1.1l.5,.4l.5,0l.5,0l.5,.4l.5,.2l.5-.3l.5-.7l.5,.5l.5,.6l.5-1.6l.5,1.3l.5,0l.5-.6l.5,.1l.5-1l.5,.9l.5-.2l.5,.8l.5-.4l.5,.1l.5,.3l.5-.5l.5-.1l.5-.7l.5,.2l.5,.4l.5,.2l.5-.2l.5-.5l.5,1l.5-.4l.5,.8l.5-1.1l.5,.3l.5-.3l.5,.6l.5-.2l.5,.3l.5,.1l.5-.1l.5-.5l.5,1.1l.5-.6l.5-.5l.5-.1l.5,.8l.5-.6l.5,.4l.5-.6l.5-1l.5,1.3l.5,.8l.5-1.3l.5,.1l.5,.3l.5-.5l.5,.7l.5-.1l.5-1.4l.5,1.2l.5-.5l.5,.2l.5-.2l.5,1.5l.5-.2l.5-.4l.5,0l.5-.5l.5,.1l.5,.2l.5,.5l.5-.8l.5-.3l.5,0l.5,.8l.5-.5l.5-.6l.5,1.1l.5-.6l.5-.5l.5,.4l.5,.4l.5-.8l.5,.2l.5-.1l.5-.1l.5-.9l.5,.7l.5-1.1l.5,.1l.5-.2l.5-.3l.5-.4l.5-.5l.5-1.1l.5-.1l.5-1.4l.5-.6l.5-.8l.5-1.1l.5-1.6l.5-.7l.5-1.2l.5-.3l.5-2l.5-.8l.5,.2l.5-1.4l.5,1l.5,1l.5,.7l.5,1.3l.5-.2l.5,.7l.5,1.7l.5,1.5l.5,.3l.5,.1l.5,.8l.5,.4l.5-.1l.5,1.1l.5-.3l.5,.2l.5,.6l.5-.1l.5-.1l.5,.5l.5,.2l.5,.3l.5,.6l.5,.4l.5-.4l.5,.9l.5,.5l.5-.2l.5,.1l.5,.9l.5-.9l.5-.2l.5-.1l.5,.5l.5-.4l.5-.7l.5,.3l.5-1.5l.5-.2l.5-.4l.5-3l.5-.5l.5-2.3l.5-1.7l.5-.7l.5-2.2l.5-.1l.5,.6l.5,.4l.5,.8l.5,1.7l.5,1.4l.5,1.8l.5,1.9l.5,.1l.5,1.6l.5,.4l.5,1l.5,1l.5,0l.5,.1l.5,.8l.5-.1l.5,.1l.5-.1l.5,.6l.5,.1l.5-.7l.5,.1l.5-.5l.5,.5l.5-.9l.5-.3l.5-.5l.5-.1l.5-.3l.5-.2l.5-.3l.5-1.7l.5-.6l.5-.6l.5-2.3l.5-1.9l.5-1.2l.5-2.5l.5-2.3l.5-3.4l.5-2l.5-3.7l.5-2.3l.5-2.3l.5-1.7l.5-1.8l.5,0l.5-.1l.5,1.1l.5,1.1l.5,1.6l.5,3.1l.5,1.4l.5,2.2l.5,1.9l.5,1.9l.5,1.5l.5,.4l.5,1.8l.5,2.1l.5-.9l.5,.5l.5,.4l.5,1.2l.5-.2l.5,.9l.5,.1l.5,.4l.5,1.7l.5,0l.5,0l.5,.3l.5,1.3l.5,.1l.5,0l.5,.8l.5-.2l.5-.4l.5,.2l.5-.5l.5,.1l.5-.6l.5-1l.5-.2l.5-.8l.5-.9l.5-1l.5-2.2l.5-8.6l.5-42.8l.5-81.4l.5-.4l.5,81.8l.5,41.9l.5,9.4l.5,1.3l.5,1l.5,1.3l.5,.2l.5,.6l.5-.1l.5,.1l.5-1.7l.5,.2l.5-1.1l.5-.3l.5-1.3l.5-.1l.5-.6l.5-.1l.5-.9l.5,.1l.5,1.3l.5,1.5l.5,1.5l.5,.9l.5,1.3l.5,1.8l.5,1.4l.5,.9l.5,1.6l.5,1.4l.5,0l.5,.3l.5,.8l.5,.2l.5-.5l.5,1.2l.5,0l.5-.3l.5,.8l.5,0l.5,1l.5-1.1l.5-.1l.5-.1l.5,0l.5,.4l.5-.3l.5,.7l.5-.8l.5,.7l.5-.1l.5-.5l.5,1l.5,.1l.5-.1l.5,.4l.5-.4l.5,.5l.5-.8l.5,.7l.5-.6l.5,0l.5,.2l.5-.2l.5-.1l.5,1.4l.5-.6l.5-.4l.5-.7l.5,1.5l.5-1.8l.5,1.1l.5,.6l.5-.4l.5-.2l.5-.2l.5,.1l.5-.9l.5,0l.5-.9l.5,.3l.5-.6l.5-.6l.5-1l.5-.9l.5-.7l.5-.1l.5-2.1l.5-.2l.5-.9l.5,.1l.5-.3l.5,.8l.5,.4l.5,1.5l.5,.3l.5,.7l.5,.3l.5,.4l.5,.7l.5-.3l.5-.1l.5-.8l.5-.4l.5-1l.5-1.6l.5,0l.5-1.3l.5-.9l.5-1.3l.5-.5l.5,.5l.5,1.1l.5,.7l.5,1.2l.5,1.1l.5,.9l.5,1.9l.5,.6l.5,.3l.5,.7l.5,.8l.5,.4l.5-.4l.5,0l.5,.2l.5,.1l.5-1l.5,.3l.5-.7l.5-1.9l.5,0l.5-1l.5,.2l.5-.9l.5,.8l.5,1.2l.5-.6l.5,.4l.5,1.3l.5,.7l.5,.6l.5,.6l.5,.4l.5,.4l.5-.1l.5,0l.5,.6l.5,.5l.5-.5l.5-.2l.5,.2l.5-.2l.5,.3l.5,.2l.5,.2l.5-.1l.5-.1l.5-.5l.5,.3l.5-1l.5,.6l.5-.7l.5,.5l.5-.7l.5-.3l.5-.2l.5-.8l.5,.6l.5-.5l.5-2l.5,.3l.5-1.2l.5-.5l.5-1.2l.5-.2l.5,.3l.5-.9l.5,0l.5-.5l.5,1l.5,.2l.5-.1l.5,1.1l.5,.9l.5,.4l.5,.8l.5,.6l.5,1.4l.5-.1l.5,0l.5,.8l.5-.7l.5-.2l.5,2.4l.5-1.1l.5-.2l.5,.6l.5-1.1l.5-.1l.5-.7l.5,.4l.5-.4l.5-2.1l.5-1.6l.5-.5l.5-2.3l.5-1.6l.5-2.7l.5-2.8l.5-2.1l.5-1.3l.5-1.6l.5-1l.5,1.2l.5,1.3l.5,2.1l.5,2.6l.5,1.4l.5,3.4l.5,1.6l.5,.3l.5,3.5l.5,0l.5,1l.5,.5l.5,.2l.5,.3l.5-.1l.5,.3l.5,.2l.5-.1l.5,.3l.5-.1l.5-.5l.5-.3l.5-.5l.5-.2l.5,0l.5-.4l.5,.2l.5-.6l.5-.9l.5,.1l.5-.9l.5-.6l.5-.8l.5-1.4l.5-1.8l.5-1.1l.5-2.1l.5-3.2l.5-5.2l.5-7.3l.5-18.8l.5-139.2l.5-591.9l.5,0l.5,591.6l.5,139.5l.5,19.2l.5,7.2l.5,4.9l.5,2.5l.5,2.9l.5,1.3l.5,1.5l.5,1.3l.5-.1l.5,1.6l.5,.7l.5-.4l.5,1.5l.5-.8l.5,.8l.5,.7l.5-.4l.5-.6l.5,.1l.5-1l.5-.1l.5-.6l.5-.7l.5-.8l.5-.8l.5-1l.5,.8l.5-.8l.5,1.2l.5,1.4l.5,.5l.5,.8l.5,1l.5,.3l.5,.9l.5,.6l.5,1l.5-.3l.5-.7l.5,1l.5,.2l.5-.7l.5-1.5l.5,.6l.5-2.5l.5-.1l.5-1l.5-2.2l.5-.7l.5,0l.5,.8l.5-.4l.5,.2l.5,1.2l.5,1.1l.5,1.5l.5,.3l.5,1.4l.5,0l.5,1.3l.5,1.3l.5-1l.5,1l.5,.4l.5-.2l.5,.2l.5,.2l.5,0l.5,1l.5-.9l.5,1.5l.5-.9l.5-.1l.5,0l.5-.4l.5,.1l.5-.2l.5,.3l.5,.6l.5-1.6l.5,1.5l.5-.3l.5,.1l.5-.2l.5-.9l.5,0l.5-.4l.5,0l.5-.1l.5-1l.5,.6l.5-.1l.5-1.2l.5,.9l.5-.6l.5-.8l.5-.4l.5,.1l.5-.1l.5-1.4l.5-.9l.5-.9l.5-.2l.5-1.9l.5-1.5l.5-4.8l.5-13.1l.5-28.5l.5-29.9l.5-.9l.5,28.2l.5,27.8l.5,13.6l.5,4.3l.5,.6l.5,.4l.5,.7l.5,.1l.5-2l.5-4.4l.5-17.1l.5-33.5l.5-36.5l.5,.2l.5,37.3l.5,34.6l.5,17.1l.5,5.9l.5,.6l.5,1.8l.5-.1l.5,.2l.5,2l.5-.8l.5,.9l.5,.1l.5,.8l.5,.1l.5,.3l.5-.7l.5,0l.5,.3l.5-.2l.5,.7l.5-.5l.5-.1l.5,.2l.5,.6l.5,.2l.5,0l.5,.5l.5,1.4l.5,.2l.5,1l.5,0l.5-.2l.5,.8l.5-.1l.5,.1l.5-.4l.5,.5l.5,.2l.5-.2l.5,.5l.5-.8l.5,.4l.5,.1l.5,.6l.5-.6l.5,.1l.5,.4l.5,.1l.5,.1l.5-.1l.5,.5l.5,.1l.5-.9l.5,.5l.5-.1l.5,.9l.5-1l.5,.4l.5-.3l.5-.7l.5,.5l.5,.2l.5-.2l.5-1.4l.5-.1l.5,.5l.5-.6l.5-.4l.5-1.4l.5-.1l.5-.8l.5-.6l.5-.8l.5-.8l.5-.2l.5-.1l.5,.2l.5,.2l.5-.4l.5,.6l.5,.9l.5,.9l.5,.6l.5,1.5l.5-1.1l.5,1.1l.5,.7l.5,.3l.5,.2l.5,.4l.5,.3l.5,.1l.5,.5l.5-.6l.5-.1l.5,.9l.5-.2l.5,1l.5-.6l.5,.3l.5-.2l.5-1l.5,1l.5-.5l.5-.8l.5,.4l.5,0l.5-.7l.5,.7l.5-1.3l.5-.3l.5,.2l.5-.5l.5-.8l.5-.9l.5,.8l.5-1l.5-1l.5,.5l.5-1l.5,.3l.5-.7l.5,.3l.5,1.1l.5,0l.5,1.5l.5,.7l.5,.3l.5,.6l.5-.1l.5,.4l.5,0l.5,.7l.5,.7l.5-.4l.5,.1l.5,.8l.5,.1l.5-.4l.5,.2l.5-.6l.5,.7l.5,.8l.5-1l.5,.4l.5-.2l.5-.7l.5,.9l.5-.1l.5,.2l.5-.6l.5-.1l.5,.4l.5-.1l.5,.1l.5,.2l.5-.9l.5,.9l.5-.1l.5,0l.5-.5l.5,.5l.5,.6l.5-.3l.5-.6l.5,.1l.5-.2l.5,0l.5,0l.5,.6l.5-.7l.5,.3l.5,.1l.5-.7l.5,.5l.5,.4l.5-.8l.5-.3l.5-.2l.5,.6l.5,.3l.5,.3l.5-.6l.5,0l.5,.1l.5,.2l.5-.3l.5-.5l.5,.5l.5,.5l.5-.8l.5-.3l.5-.1l.5,1.1l.5-.2l.5-1.1l.5,1.6l.5-1.1l.5,.9l.5-1l.5,.4l.5,.8l.5-1.2l.5,0l.5,.4l.5-.2l.5,0l.5,0l.5-.1l.5-.3l.5,.3l.5,.1l.5-.8l.5,0l.5,.1l.5-.8l.5-.4l.5,.6l.5-.5l.5-.1l.5-.9l.5-.2l.5,.3l.5-.4l.5-1.2l.5-.9l.5-.2l.5-.6l.5-.8l.5-.7l.5-1.4l.5-1l.5-1.1l.5-.9l.5-.5l.5-1.3l.5-1.6l.5-1.1l.5-1.6l.5-.5l.5-1.6l.5-2l.5,.3l.5-.8l.5-1.1l.5-.4l.5,.1l.5,.2l.5-.4l.5,1.1l.5,1.1l.5,1.1l.5,1.2l.5,.2l.5,1l.5,1.7l.5,1.9l.5,.9l.5,1.2l.5,.7l.5,1.3l.5,1.1l.5,1.1l.5,.3l.5,1.7l.5,.7l.5,.2l.5,1.3l.5,.7l.5,.3l.5,0l.5,.9l.5-.2l.5,1.1l.5-1.3l.5,.8l.5,.5l.5-.2l.5,.6l.5-.5l.5,.6l.5,.1l.5,.2l.5-.8l.5,.3l.5-.6l.5-1.4l.5-.9l.5-2.4l.5-2.5l.5-3l.5-1.4l.5,.4l.5,1.6l.5,2.5l.5,2.8l.5,1.7l.5,1.1l.5,.9l.5,1.1l.5,0l.5-1.3l.5,.9l.5-1.1l.5-.2l.5-.7l.5,.1l.5-.2l.5,0l.5-1l.5-.8l.5-.5l.5-.6l.5-3.8l.5-18.4l.5-33l.5,.3l.5,32.7l.5,17l.5,3.7l.5,.4l.5,0l.5,.9l.5,0l.5-.2l.5,.9l.5-1l.5,.5l.5,.3l.5-1.3l.5-.3l.5,.7l.5-1.1l.5,.7l.5-.7l.5-1.4l.5,.5l.5-.8l.5,0l.5,.3l.5-.7l.5,.3l.5,.4l.5,.3l.5-1l.5,1l.5-.1l.5-.3l.5,.8l.5,1l.5,.5l.5,.5l.5,.4l.5,0l.5,.5l.5,.2l.5,.8l.5-.4l.5,.8l.5-.4l.5,.2l.5-1l.5-.1l.5-1.3l.5-1.1l.5,.5l.5-2.3l.5,.1l.5-2l.5-.6l.5-.1l.5,.9l.5,0l.5,1.6l.5,1.7l.5,1.9l.5,.4l.5,.8l.5,1.3l.5,.4l.5,.6l.5,2l.5,.1l.5-.2l.5,1l.5,.3l.5-.8l.5,.7l.5,.3l.5-.2l.5,.7l.5-.6l.5,.2l.5,.3l.5-.4l.5,.3l.5,.4l.5-.1l.5-.7l.5,.3l.5,.8l.5-1.2l.5-.1l.5,.4l.5,1l.5-.6l.5-.3l.5-.4l.5,.7l.5-.2l.5,.5l.5-.4l.5-.3l.5,.1l.5-.1l.5,.8l.5-.4l.5-.1l.5,.1l.5-.5l.5-.4l.5,.5l.5,1.2l.5-1l.5,.9l.5-1.7l.5-.1l.5,.9l.5,0l.5-.9l.5,.2l.5-.8l.5,1l.5-.2l.5,0l.5-.9l.5-.1l.5,.1l.5,0l.5-1.1l.5-.6l.5,.3l.5-1.3l.5-1.1l.5-.6l.5-2.8l.5-16.4l.5-29.8l.5,0l.5,30l.5,16.5l.5,3.9l.5,.4l.5,.3l.5,.5l.5,.3l.5,0l.5,.7l.5,.4l.5,0l.5,0l.5,1.1l.5-.3l.5,.6l.5,.9l.5-.5l.5-.2l.5-.5l.5,1.2l.5-.1l.5,.2l.5-.2l.5,.4l.5-.3l.5-.5l.5,1.1l.5-1.3l.5,.8l.5-.8l.5,1.1l.5-.9l.5-.7l.5-.8l.5-8.7l.5-19.2l.5,.1l.5,18.1l.5,9.7l.5,1.3l.5,.2l.5,.6l.5,.3l.5-.4l.5,.3l.5-.2l.5-.4l.5-.2l.5-.4l.5,.9l.5-.3l.5,.5l.5,0l.5,.3l.5,.2l.5,0l.5,.2l.5,0l.5-.1l.5-.3l.5-.2l.5-.1l.5,0l.5,.4l.5-.6l.5-.1l.5,.6l.5-.1l.5-.3l.5,.3l.5,.7l.5-.2l.5-.5l.5,0l.5-.1l.5,.9l.5-1.3l.5,.9l.5-.7l.5,.2l.5,.5l.5-1.7l.5,.4l.5-.7l.5,1.2l.5-.5l.5,.6l.5-.9l.5-.6l.5,.4l.5-1.2l.5-.1l.5-.1l.5-1.4l.5-.6l.5-1.5l.5-.6l.5-.6l.5-.8l.5-.7l.5,1.7l.5,.1l.5,.3l.5,.7l.5,1.6l.5,1.3l.5-.1l.5,1.5l.5-.8l.5,.5l.5,1l.5,.3l.5-.3l.5,.3l.5,.4l.5-.5l.5,.8l.5-.3l.5,.1l.5-.5l.5-.1l.5,.3l.5,1.1l.5,.3l.5-1.1l.5-.2l.5,0l.5,.3l.5,.8l.5-1.1l.5-.6l.5-2.2l.5-11.1l.5-22.4l.5,.2l.5,22.3l.5,10.8l.5,3.1l.5-.2l.5-.6l.5,.6l.5,.4l.5-.6l.5,.2l.5-.6l.5,.7l.5,.2l.5-.3l.5,.3l.5,.3l.5-.5l.5,.3l.5-.9l.5-.3l.5-.1l.5-.5l.5-.7l.5-.7l.5-.7l.5-1.9l.5-1l.5-1.1l.5-.3l.5-1.8l.5,0l.5-.9l.5,1.4l.5-.2l.5,1l.5,1.5l.5,.7l.5,1l.5,1.5l.5,.9l.5,.7l.5,.7l.5,1.1l.5,.4l.5-1.2l.5,.7l.5-.1l.5,0l.5,.9l.5-.5l.5,.6l.5,.4l.5-1.3l.5,.4l.5-.1l.5,.6l.5,.8l.5-1l.5-.7l.5-.2l.5,1.5l.5-.5l.5-.3l.5-.8l.5,1l.5,.3l.5-.2l.5-.1l.5-.3l.5-.5l.5,1l.5,.3l.5,.1l.5,0l.5-.5l.5,.3l.5,.5l.5-.7l.5,.3l.5,.1l.5-.9l.5,.4l.5,.3l.5,.6l.5-1.5l.5,1.3l.5-.6l.5-.7l.5,.7l.5-.2l.5,.8l.5-.3l.5-.5l.5,.6l.5,0l.5,.5l.5-.4l.5-.2l.5-.3l.5,.2l.5-.6l.5,1.3l.5-1.4l.5-.1l.5,.2l.5-.1l.5,.2l.5-.2l.5,.2l.5-.2l.5,.5l.5,.3l.5-.5l.5,.2l.5,0l.5-.9l.5-.3l.5,.4l.5,.2l.5-1l.5,.6l.5-1.5l.5-.5l.5-1l.5-1.1l.5,.3l.5-1l.5-.4l.5-1.4l.5-.1l.5-.5l.5,.2l.5-1.3l.5,.7l.5-.4l.5,1l.5,.3l.5,.6l.5,1.8l.5,.4l.5,1l.5,.3l.5,.1l.5,1.1l.5-.2l.5-.8l.5-5l.5-6.6l.5-8.5l.5,.1l.5,8.3l.5,8.8l.5,3.4l.5,2.3l.5-.5l.5,.9l.5,.5l.5-.9l.5,.8l.5-.5l.5,.3l.5-.1l.5-.2l.5,0l.5,.4l.5-.3l.5-.8l.5,.8l.5,.4l.5,.5l.5-.9l.5,.4l.5,.7l.5-.3l.5-.6l.5,.5l.5-.1l.5-.5l.5,.4l.5-.4l.5-.3l.5,.8l.5-.4l.5,.3l.5-.3l.5-.4l.5,.2l.5,.5l.5-.2l.5,.1l.5-.1l.5-.1l.5,.6l.5,.3l.5-.1l.5-.4l.5-.5l.5-.3l.5,1.1l.5-.4l.5-1l.5,.4l.5,0l.5-.3l.5,.8l.5-.9l.5,.8l.5-1.1l.5,1l.5-.8l.5,.6l.5-.6l.5,.1l.5,.1l.5-.7l.5-.4l.5-.7l.5-.3l.5-1.5l.5-.8l.5-.6l.5-1.1l.5-.1l.5-2l.5,0l.5-.5l.5,0l.5,1.2l.5,.9l.5,1.1l.5,1.2l.5,.3l.5,1.6l.5,.6l.5,.2l.5,.2l.5,.2l.5,.8l.5-.6l.5,.6l.5,.2l.5,.1l.5-.6l.5,.9l.5,.7l.5-.1l.5,0l.5-1l.5,.5l.5,.1l.5-.4l.5-.3l.5,.6l.5,.1l.5-.3l.5-.4l.5-.1l.5,.9l.5-2.3l.5-.1l.5,.3l.5-1l.5-.7l.5-1.1l.5-1.1l.5-1.7l.5-.6l.5-.6l.5,.3l.5-.8l.5,.5l.5,.1l.5,1.6l.5,.9l.5,.9l.5,.6l.5,.7l.5,1.3l.5,.6l.5,.6l.5,.4l.5-.4l.5-.1l.5,1.2l.5,.2l.5-.6l.5,.2l.5-.3l.5,.6l.5-.5l.5-.1l.5,1l.5-.3l.5-.2l.5-.6l.5-.3l.5,.8l.5-.2l.5-.3l.5-.1l.5,0l.5-.6l.5,.6l.5,0l.5-.8l.5,.3l.5-1.2l.5-.3l.5-1.3l.5,0l.5-1.5l.5-2.4l.5,.8l.5-1.8l.5-.1l.5-1.7l.5,.9l.5,1l.5-.2l.5,1.3l.5,.7l.5,1l.5,1.1l.5,.6l.5,.7l.5-.1l.5,0l.5,.6l.5,.5l.5-1.1l.5-.2l.5,0l.5-1.3l.5,.3l.5-.8l.5,.5l.5-1.1l.5-1.4l.5-1.2l.5-4.9l.5-20.9l.5-42.4l.5,.4l.5,41.8l.5,21.3l.5,4.3l.5,2.2l.5,.3l.5,1.2l.5,0l.5,1.2l.5,.9l.5-.7l.5,.5l.5-.3l.5,1.4l.5-.6l.5,1.4l.5-.3l.5,.2l.5-.6l.5,.2l.5-.2l.5,1.1l.5-.1l.5,0l.5,.2l.5-.7l.5,.5l.5-.4l.5,.6l.5-.4l.5,.8l.5-1.8l.5-.3l.5-1.4l.5-.8l.5-1.1l.5,.6l.5,.5l.5,1.1l.5,1.1l.5,1.5l.5,.2l.5-.4l.5,.5l.5-.2l.5,0l.5,.4l.5-.2l.5,.1l.5-.7l.5,.6l.5-.8l.5,.5l.5,0l.5,.2l.5,.2l.5,.6l.5-1.1l.5,.3l.5-.1l.5-.1l.5,.6l.5-.3l.5-.4l.5,.7l.5-.6l.5-1.3l.5,1.3l.5-.2l.5,.7l.5-1l.5,.9l.5-1.3l.5,.6l.5-.3l.5,.2l.5-.1l.5-.5l.5,1.1l.5-.8l.5,.2l.5-.2l.5,0l.5-.1l.5,.2l.5-.8l.5,.9l.5-.1l.5,.7l.5-1.5l.5,0l.5,.4l.5-.2l.5,1l.5-.9l.5,.2l.5-.1l.5-.8l.5,.9l.5-.2l.5,.1l.5,.3l.5-.6l.5,.2l.5-.3l.5,1.4l.5-1l.5,.5l.5-1.7l.5,1.6l.5-1l.5,.9l.5,0l.5,.1l.5-1.1l.5-.1l.5,.8l.5-.4l.5-.4l.5-.3l.5,0l.5,.1l.5,.2l.5,.5l.5-.4l.5,.5l.5-.5l.5-.5l.5-.1l.5,1l.5-1.1l.5,1.5l.5-1.1l.5,.8l.5-1l.5-.5l.5,.1l.5,.2l.5-.5l.5-.3l.5,1.1l.5-.7l.5-.2l.5,.1l.5,.7l.5-.4l.5,.3l.5-.7l.5,.3l.5,0l.5-.3l.5,.8l.5-.4l.5,0l.5-1.3l.5,1.1l.5,0l.5-.7l.5,.6l.5-.4l.5,.6l.5-.1l.5,0l.5-.1l.5,.4l.5,.2l.5-.2l.5-.6l.5-.4l.5,.3l.5,.2l.5-.1l.5,0l.5,.2l.5-.5l.5,.4l.5,.5l.5-.3l.5-1l.5,.6l.5,.8l.5-1l.5,1l.5,0l.5-1.1l.5,.1l.5,.3l.5,.3l.5-.7l.5,.2l.5,.2l.5-.3l.5,0l.5,.4l.5,.2l.5-.8l.5,.6l.5-.6l.5,.7l.5-.2l.5-1l.5,1l.5,0l.5-.2l.5-.2l.5,0l.5-1.1l.5,.2l.5-2l.5-6.8l.5-15.2l.5-.2l.5,15.8l.5,8.2l.5,1.5l.5,.1l.5-.5l.5,.7l.5-.4l.5-.8l.5,1.4l.5-.5l.5,.2l.5-.4l.5,.1l.5-1l.5-.9l.5-2.6l.5-1.5l.5-1.8l.5-1.2l.5,0l.5,.9l.5,2.5l.5,1.4l.5,1.7l.5,.5l.5,1.4l.5,.9l.5,.1l.5-.1l.5-.1l.5,.6l.5-.2l.5-.6l.5,.2l.5,.8l.5-.2l.5-.1l.5-.7l.5,.7l.5-.1l.5,0l.5,.4l.5,0l.5,0l.5-.1l.5,.1l.5-.1l.5-.1l.5,.4l.5,.4l.5-.3l.5-.1l.5,.1l.5-.3l.5,.8l.5,.3l.5-2l.5,1l.5,0l.5-.6l.5,1l.5,.1l.5,.3l.5-.4l.5-.4l.5,0l.5,.4l.5-.8l.5,.1l.5,0l.5-.6l.5-.8l.5,.1l.5-.4l.5,.4l.5-.6l.5-1.1l.5-.3l.5,.8l.5,.3l.5,.2l.5,1l.5,0l.5,.8l.5,.9l.5-.5l.5,.3l.5-.2l.5,0l.5,1l.5,.5l.5-1.2l.5,.4l.5,1l.5-1.2l.5,.7l.5-.7l.5,.3l.5,.5l.5-.2l.5-.5l.5-.9l.5,.4l.5-.5l.5,.3l.5-1.6l.5,.1l.5-1l.5-1.1l.5-1.1l.5-.8l.5,0l.5-1.2l.5,1.6l.5-.8l.5,.9l.5,1l.5,1.2l.5,.3l.5,1l.5-.2l.5,2l.5,.1l.5,0l.5,.2l.5,.9l.5,.1l.5,.1l.5-.1l.5,.3l.5,.6l.5-.7l.5,0l.5,.2l.5,.3l.5-.6l.5,.8l.5-.6l.5,1.3l.5-.4l.5-.2l.5-.4l.5,.6l.5,.3l.5-.5l.5,.5l.5-.1l.5-.4l.5,.3l.5,0l.5-.2l.5,.3l.5-.2l.5,.3l.5,.1l.5,.1l.5-.3l.5,.7l.5-.4l.5-.3l.5,.2l.5,.6l.5-.9l.5,.8l.5-.5l.5,0l.5,.2l.5,.3l.5-.4l.5-.8l.5,1.5l.5-.8l.5,0l.5,.1l.5,.8l.5-.6l.5-.1l.5,.4l.5,.2l.5-.6l.5,0l.5-.4l.5,.6l.5-.1l.5-.1l.5,.3l.5,0l.5,.1l.5,.4l.5-.5l.5,.4l.5,.2l.5-1.4l.5,.3l.5,.5l.5-.6l.5-.2l.5,.1l.5,.8l.5-.3l.5,.3l.5-.1l.5-.1l.5,0l.5,0l.5-.7l.5,.4l.5-.1l.5-1.1l.5,1.2l.5-1l.5,.5l.5,.1l.5-.9l.5,.2l.5-.2l.5,.8l.5-.7l.5-.9l.5-1l.5,.6l.5-.7l.5-.3l.5-.5l.5-1.4l.5-3.4l.5-15.6l.5-30.5l.5,.5l.5,30l.5,15.4l.5,3.6l.5-.1l.5,2.1l.5-.3l.5,1.3l.5,.3l.5,.3l.5,.1l.5-.1l.5,.6l.5-.1l.5,.1l.5-.3l.5,.1l.5-.2l.5,.2l.5-.4l.5-.1l.5,.6l.5-.7l.5-.1l.5-1.1l.5-.1l.5-1.3l.5,.7l.5-1.6l.5,1.4l.5-.8l.5,.3l.5-.2l.5,.6l.5,1.2l.5,.5l.5,.9l.5,.7l.5-.3l.5,0l.5,.8l.5-.8l.5,1.4l.5-.7l.5,.1l.5-.3l.5-.7l.5,.5l.5,.5l.5-.8l.5,.2l.5,.5l.5,.1l.5-.4l.5-.3l.5-.1l.5,.1l.5,.3l.5-.8l.5-.6l.5,.6l.5-.4l.5,.3l.5-.6l.5-.2l.5-1.1l.5,.4l.5-.3l.5-.3l.5,0l.5,.1l.5-.1l.5-1.7l.5,.6l.5-.8l.5-.4l.5-.2l.5-.8l.5,.6l.5-1l.5-.1l.5-.9l.5,0l.5-.6l.5-.2l.5,.3l.5-.3l.5-.7l.5,1.2l.5-.9l.5-.3l.5,.5l.5-.1l.5,0l.5,.5l.5,0l.5,0l.5-.2l.5,.5l.5,.6l.5,1l.5-.3l.5,1l.5,.2l.5-.2l.5,.5l.5,.6l.5,.2l.5,.4l.5-.2l.5,.7l.5,.3l.5-.1l.5,.6l.5,.3l.5,.3l.5,1.2l.5,.3l.5-.1l.5-.5l.5,.6l.5-.1l.5,.4l.5-.1l.5-.1l.5,1.6l.5-1.1l.5,0l.5,.8l.5-.5l.5,.5l.5,.5l.5-.7l.5,.3l.5,.2l.5-.7l.5,1l.5,.1l.5-.6l.5-.7l.5,.6l.5,.7l.5-.1l.5,0l.5-.1l.5,.5l.5-.1l.5-1.1l.5,.7l.5-.4l.5,.6l.5-.5l.5,.2l.5-.2l.5,.3l.5,.3l.5-.5l.5,.7l.5-.5l.5-.2l.5-.5l.5,.6l.5,.8l.5-.6l.5-.2l.5-.4l.5-.4l.5,1.4l.5-.7l.5-.4l.5-1l.5,.6l.5-1.2l.5,.2l.5-2.1l.5-.7l.5-1.6l.5-1.4l.5-.7l.5-.7l.5-.8l.5,.5l.5-.3l.5,.2l.5,1l.5,.9l.5,1.8l.5,1.4l.5,.4l.5,1.4l.5-.4l.5,2.1l.5-.4l.5,.6l.5,0l.5-.2l.5,.4l.5-.5l.5,.9l.5,.3l.5-.9l.5-.5l.5,.5l.5-.3l.5-.6l.5,.7l.5-.8l.5-.7l.5-.2l.5,.1l.5-.5l.5,.6l.5-.8l.5,.7l.5-.5l.5,1l.5,.3l.5,.4l.5,.4l.5,1.1l.5-.3l.5,.3l.5-.2l.5,.2l.5,1.1l.5-.9l.5,.3l.5-1l.5,.5l.5,0l.5,.9l.5-1.4l.5,1.2l.5-.8l.5,.9l.5,.5l.5-.3l.5-.4l.5,.7l.5-.4l.5,.1l.5-.4l.5,0l.5-.6l.5,.6l.5-.7l.5-.5l.5,1l.5-.2l.5-.1l.5-.5l.5,.1l.5-.2l.5,.6l.5-1l.5-.4l.5,0l.5-.4l.5-.2l.5-.7l.5-.2l.5,.5l.5,0l.5-.7l.5,.4l.5,.1l.5,1.6l.5-.7l.5,.7l.5-.1l.5,.7l.5,.6l.5-.5l.5-.1l.5,1l.5-.1l.5-.7l.5,.2l.5,.5l.5,0l.5,1.2l.5-2.1l.5,.9l.5,.7l.5-.5l.5,0l.5,.2l.5-.7l.5,0l.5,.5l.5-.1l.5-.6l.5-.4l.5,1l.5,0l.5-1l.5,.8l.5,.3l.5,.7l.5-1.1l.5,.3l.5-.3l.5,.6l.5-.6l.5,0l.5-.3l.5,.6l.5,0l.5-.1l.5-.8l.5,.1l.5,1.1l.5-.3l.5,.5l.5-.9l.5,.1l.5,1.1l.5-.8l.5-.9l.5,.6l.5-.3l.5,.6l.5-.4l.5,.4l.5-.6l.5,1.1l.5-.1l.5-.2l.5-.2l.5-.1l.5-.2l.5,.5l.5-.8l.5,.1l.5,.1l.5,0l.5-.4l.5,.7l.5-.7l.5,.1l.5-.3l.5,.2l.5-.8l.5-.8l.5-1.3l.5-5.8l.5-11.7l.5-12.2l.5-.7l.5,12.3l.5,12.8l.5,5.3l.5,1.8l.5,.2l.5,0l.5-.3l.5,0l.5,.6l.5-1.1l.5,.2l.5-2l.5,.7l.5-.5l.5-.7l.5-2l.5-7.9l.5-13.5l.5-15.5l.5,.2l.5,14.8l.5,14.1l.5,7.7l.5,1.3l.5,.7l.5-1.4l.5-8.1l.5-15.5l.5,.3l.5,17l.5,7.6l.5,2.2l.5,1.2l.5,.1l.5-1.1l.5-1.2l.5-2.7l.5-1.4l.5-.2l.5,2l.5,2l.5,1.7l.5,.9l.5,.6l.5-.5l.5,.7l.5-.4l.5,1l.5-.4l.5,.5l.5-.5l.5-.4l.5,0l.5,0l.5-.1l.5,1.3l.5-1.3l.5,.9l.5-.2l.5,.5l.5-.4l.5,.5l.5-.7l.5,.2l.5,0l.5-.3l.5,.2l.5-.2l.5,.3l.5,.5l.5-.8l.5,.7l.5-.3l.5,.2l.5,1.2l.5-1.8l.5,.1l.5,.3l.5,0l.5,1l.5-.3l.5-1.4l.5,.3l.5,.6l.5-.5l.5,.1l.5-.1l.5,.4l.5,.3l.5,.2l.5-.1l.5-.3l.5,.2l.5,.3l.5-.3l.5-.8l.5,0l.5,.4l.5-.3l.5,1l.5-.5l.5-.6l.5-.2l.5,.2l.5,.7l.5,0l.5-.1l.5-.1l.5-.7l.5,1.2l.5-.1l.5,.1l.5,.2l.5-.8l.5,.6l.5,.2l.5-.6l.5,.2l.5,.3l.5-.8l.5-.4l.5,1.5l.5-.7l.5,.1l.5-.8l.5,.4l.5,.5l.5-.5l.5-.8l.5,.6l.5-.8l.5,.3l.5,1.3l.5-.5l.5-.1l.5-.4l.5,.4l.5,0l.5,0l.5,.2l.5,.1l.5-.1l.5,.4l.5,0l.5-.2l.5,.1l.5-.5l.5,.1l.5-.5l.5-.2l.5,.9l.5-.9l.5,1.4l.5-.4l.5-.8l.5,.5l.5-.5l.5-.2l.5,.7l.5,.7l.5-1.1l.5,.4l.5,.2l.5-.4l.5-.6l.5,.9l.5,.1l.5-1.1l.5,1.3l.5-1.1l.5,.5l.5,.8l.5-.4l.5,.7l.5-1.4l.5,.4l.5,.3l.5-.6l.5-.9l.5,1.8l.5,0l.5-.8l.5,.5l.5,.2l.5-.7l.5,.2l.5,.2l.5-.1l.5-.4l.5,.5l.5-.5l.5,0l.5-.3l.5,.5l.5,1l.5-.7l.5-.4l.5,.3l.5,.1l.5-.6l.5-.1l.5-.2l.5,1l.5-.1l.5-1l.5,.4l.5,.5l.5-.3l.5,.5l.5-.7l.5,.5l.5,.1l.5,.1l.5-.8l.5,1.1l.5-.8l.5-.4l.5,.3l.5-.2l.5,1l.5-.7l.5-1.1l.5,.1l.5-.9l.5,.8l.5-1l.5,.3l.5-.3l.5-.3l.5,.4l.5-1l.5,.3l.5-.4l.5,0l.5-.1l.5,.2l.5,.2l.5-.1l.5,.7l.5,0l.5,.4l.5,.4l.5,.1l.5,.3l.5,.2l.5,.9l.5-.6l.5,.7l.5-.3l.5-.5l.5,.6l.5-.2l.5-1l.5-1.7l.5-2.1l.5-5.3l.5-3.3l.5-.7l.5,4.4l.5,3.7l.5,3.7l.5,1.1l.5,.5l.5,.7l.5,.1l.5,.3l.5-.6l.5,0l.5,1l.5-1.2l.5,1.2l.5,0l.5,0l.5,.8l.5-1.2l.5,.2l.5,.1l.5,.2l.5-1l.5,.7l.5,0l.5,.6l.5-.2l.5-.6l.5,.1l.5,0l.5,.8l.5-1.3l.5,.3l.5,.6l.5-.4l.5-.2l.5-.5l.5,1.4l.5-1.2l.5,.3l.5,.5l.5,.2l.5-.3l.5-.7l.5,.1l.5-.4l.5,.9l.5,.7l.5-.3l.5-.4l.5,.1l.5-.4l.5-.1l.5,.3l.5,.3l.5,0l.5,.1l.5,.3l.5-1.6l.5,.6l.5-.1l.5,.8l.5-.2l.5-.1l.5-.1l.5,.4l.5-.4l.5-.8l.5,.5l.5,.1l.5,.8l.5-.1l.5,.2l.5-.5l.5-.4l.5,.5l.5,.5l.5-1.2l.5,.4l.5-.2l.5-.3l.5,.1l.5,.7l.5-.6l.5,1l.5-.4l.5,.4l.5-1.3l.5,.5l.5-.9l.5,.9l.5-.7l.5,.3l.5-2.8l.5-3l.5-5l.5-4.7l.5,.5l.5,4.5l.5,3.5l.5,3.9l.5,2l.5,1.2l.5-.5l.5,.2l.5,.3l.5,.1l.5,.3l.5,.2l.5-.2l.5,.2l.5-.5l.5,.4l.5-.1l.5,0l.5,.3l.5-.1l.5-.2l.5-.2l.5,0l.5-.2l.5,.3l.5,0l.5,.2l.5,.1l.5,.2l.5-1.1l.5,.7l.5-.1l.5-.4l.5,.6l.5-.9l.5,1.1l.5-.2l.5,.3l.5-.3l.5,0l.5,.1l.5-1.1l.5-1l.5,2l.5,0l.5-.3l.5,1.1l.5-.8l.5,.5l.5,.4l.5-.7l.5,0l.5-.5l.5-.2l.5,.9l.5-.7l.5-.3l.5,.9l.5-.7l.5,.1l.5-.1l.5,.2l.5,.5l.5-1.2l.5,.8l.5,.6l.5-.5l.5-.6l.5,.6l.5-.1l.5-.3l.5,.3l.5-.3l.5,.5l.5-1l.5-.2l.5,.7l.5,0l.5,.6l.5-.4l.5-.4l.5,0l.5,.8l.5-.7l.5-.7l.5-1.4l.5-1.1l.5-1.8l.5-.3l.5-1.2l.5-1.2l.5,1.1l.5,2.7l.5,1.6l.5-.2l.5,2l.5,.5l.5,.4l.5,.1l.5,0l.5-.8l.5,.9l.5,.2l.5,.1l.5,0l.5-.3l.5,.1l.5-.2l.5-.5l.5,1l.5,.3l.5,.1l.5-1.3l.5,.1l.5,.3l.5,.4l.5-.4l.5,.1l.5-.5l.5,1.1l.5-1.3l.5,.6l.5-.1l.5,.3l.5-.2l.5,.4l.5-.3l.5-.4l.5,.8l.5-.1l.5-.6l.5,.3l.5-.2l.5,.2l.5-.7l.5-.2l.5,.6l.5,.2l.5,0l.5,.4l.5-.1l.5-.7l.5,.1l.5,.6l.5-.5l.5,0l.5,.4l.5-.6l.5,.3l.5,0l.5,.2l.5,.6l.5-.9l.5,.3l.5-.5l.5,.6l.5,.3l.5-.5l.5,.2l.5-.9l.5,.5l.5,.7l.5-1.4l.5,.6l.5,.2l.5,.2l.5-.1l.5-1l.5,.6l.5,.5l.5,0l.5,.1l.5-.3l.5,.4l.5,.1l.5-.6l.5-.1l.5,1.4l.5-.8l.5-1.3l.5,1.2l.5,.1l.5,.3l.5-1l.5-1.1l.5-.3l.5-3.3l.5-3.7l.5-5.1l.5,.2l.5,3.4l.5,4.8l.5,2.7l.5,1l.5,.9l.5,1.3l.5-1.8l.5,.6l.5-1.9l.5-2.2l.5-1.4l.5,.4l.5,.8l.5,2.6l.5,1l.5,.3l.5,.9l.5-.4l.5,.1l.5-.4l.5,.7l.5,.6l.5-.3l.5-1l.5,.4l.5,.9l.5-.3l.5-.1l.5-.3l.5-.3l.5,.2l.5-.1l.5,.2l.5,1.3l.5-1.2l.5,.3l.5-.1l.5-.1l.5,.2l.5,.3l.5,.5l.5-1.1l.5,.4l.5,.3l.5-.3l.5,.5l.5-.6l.5-.3l.5-.1l.5-.1l.5,.6l.5-.4l.5-.6l.5-.1l.5-3.3l.5-5.2l.5-5l.5,.4l.5,5.3l.5,5.7l.5,1.9l.5,.6l.5,.6l.5-.4l.5,.1l.5,.7l.5-1.2l.5-.4l.5,.1l.5-2.1l.5-5.9l.5-4.9l.5,0l.5,6.2l.5,3.3l.5,3.7l.5,.1l.5,.5l.5,.3l.5-.2l.5-.5l.5,0l.5-.4l.5,.8l.5-.1l.5-.5l.5,1.4l.5-.5l.5-.6l.5,.2l.5,.2l.5-.3l.5-.4l.5,1l.5-.2l.5,.2l.5,.4l.5-.5l.5,0l.5-.3l.5,.5l.5,.4l.5-.8l.5,.4l.5-.1l.5,.1l.5-.7l.5,.3l.5,.4l.5-.5l.5-.1l.5-.1l.5,.1l.5-.4l.5,.2l.5,.9l.5-.6l.5-.1l.5-.4l.5,.2l.5,.5l.5-.8l.5,.6l.5-.2l.5,.9l.5-1.1l.5,1.4l.5-1.6l.5,.7l.5,0l.5,.3l.5-.6l.5,.3l.5,.6l.5-1l.5,1.1l.5-.7l.5,.1l.5-.5l.5,.5l.5,.1l.5,.1l.5,.1l.5-.2l.5,.8l.5-.5l.5-.2l.5-.5l.5,.7l.5,.1l.5-.9l.5,.9l.5-.6l.5-.5l.5,.2l.5,.6l.5-.7l.5,.4l.5,0l.5,0l.5,0l.5-.6l.5,.9l.5-.5l.5,.6l.5-.1l.5-.8l.5,.6l.5,.3l.5-1l.5-.2l.5-.5l.5-2.3l.5-2.2l.5-2.3l.5-1.4l.5,.6l.5,.6l.5,2.5l.5,1.5l.5,1.1l.5,.9l.5,2l.5,.2l.5-.4l.5,.4l.5-.6l.5,.6l.5,.1l.5,.6l.5-1l.5,.1l.5,.1l.5,.7l.5-.5l.5,.4l.5-.2l.5,.7l.5-.3l.5-.6l.5-.3l.5,.7l.5-.7l.5,.3l.5,.5l.5-.2l.5,.4l.5,0l.5-.2l.5-1.1l.5,1.1l.5-.5l.5,.2l.5,.2l.5-.5l.5,.2l.5,.7l.5-.6l.5-.7l.5,1.5l.5-.5l.5,.1l.5-.2l.5-.5l.5,.8l.5-.6l.5,.2l.5-.8l.5,1l.5-.9l.5,.6l.5-.6l.5-.1l.5-.1l.5,.9l.5-.7l.5-.6l.5,.2l.5,.5l.5,1.2l.5-.5l.5-.6l.5,.5l.5-1l.5,.9l.5,.2l.5-.5l.5,.3l.5,.6l.5-1.6l.5,.1l.5,.8l.5,.5l.5-.3l.5-.6l.5,.3l.5-.2l.5,0l.5,.1l.5,.8l.5-.4l.5-.6l.5-.1l.5,.8l.5-.2l.5,.2l.5-.1l.5-.8l.5,.5l.5-.7l.5,.9l.5-.6l.5,.3l.5,.1l.5-.3l.5,.8l.5-.9l.5,1.2l.5-.4l.5-.9l.5,.5l.5-.3l.5,.5l.5-.4l.5,.2l.5,.3l.5-.9l.5,0l.5,.3l.5,.4l.5-.3l.5,.8l.5-1.4l.5,.5l.5,1.1l.5-.1l.5-.7l.5,.4l.5-1l.5,.8l.5,0l.5-.5l.5,.8l.5-1.1l.5,1l.5-.5l.5,.2l.5-.2l.5,.6l.5,.3l.5-.6l.5,.1l.5-.4l.5,.1l.5-.1l.5,.2l.5,.9l.5-1.3l.5,.9l.5-.1l.5-.4l.5,.7l.5-1.2l.5,.6l.5,.7l.5-.9l.5,0l.5,.7l.5,0l.5-1.4l.5,.4l.5-.4l.5-.1l.5-.7l.5-.8l.5,.1l.5,.3l.5,.7l.5-.5l.5,.3l.5,.4l.5-.3l.5,1.1l.5-.1l.5,.8l.5-.5l.5,.4l.5,0l.5-.2l.5,.1l.5-.1l.5-.8l.5,1.2l.5-.8l.5,.1l.5,.3l.5,.2l.5-.4l.5,.1l.5,.1l.5-.5l.5,.4l.5-.1l.5-.2l.5,0l.5,.3l.5-.8l.5,.5l.5,.9l.5-.8l.5-.4l.5,1.3l.5-.2l.5-.7l.5-.4l.5,.6l.5,1.6l.5-1.1l.5-.1l.5-.7l.5,.4l.5-.7l.5,.4l.5,.2l.5,.1l.5-.1l.5-.8l.5,1.8l.5-1.9l.5,.7l.5-.4l.5,.3l.5-.2l.5,.1l.5,.2l.5,.7l.5-1.2l.5,.4l.5,1.2l.5,.4l.5-1.5l.5,.3l.5-.6l.5,.5l.5-.1l.5-.2l.5-.3l.5,.3l.5-.1l.5,.2l.5-.2l.5-.4l.5,1.7l.5-1.3l.5,.7l.5-.9l.5,.5l.5,.7l.5,.7l.5-1l.5-.5l.5,.7l.5,0l.5-.6l.5,.5l.5,0l.5,0l.5-.5l.5-.7l.5,.4l.5-.1l.5,.7l.5-.8l.5,1.3l.5-1.1l.5,.7l.5-.8l.5,.8l.5-.4l.5-.1l.5-.2l.5,.1l.5-.2l.5,.6l.5,0l.5-.4l.5,.9l.5,.1l.5-.7l.5,0l.5,0l.5,0l.5,0l.5,0l.5,0l.5,0l.5,0"/>
</g>
<g stroke="#000" stroke-dasharray="8.5 7.4" fill="none" shape-rendering="crispEdges">
<line x1="197.8" y1="922" x2="197.8" y2="1466" stroke-width="4"/>
<line x1="317.7" y1="926.2" x2="317.7" y2="1466" stroke-width="4"/>
<line x1="340.4" y1="927" x2="340.4" y2="1466" stroke-width="3"/>
<line x1="364.6" y1="907.1" x2="364.6" y2="1466" stroke-width="3"/>
<line x1="387.4" y1="797.6" x2="387.4" y2="1466" stroke-width="3.4"/>
<line x1="436.1" y1="932" x2="436.1" y2="1466" stroke-width="3"/>
<line x1="494.4" y1="920.4" x2="494.4" y2="1466" stroke-width="3"/>
<line x1="516.1" y1="160.3" x2="516.1" y2="1466" stroke-width="3.4"/>
<line x1="530.3" y1="936.1" x2="530.3" y2="1466" stroke-width="3"/>
<line x1="545" y1="931.1" x2="545" y2="1466" stroke-width="4"/>
<line x1="579.2" y1="736" x2="579.2" y2="1466" stroke-width="2.8"/>
<line x1="641.9" y1="935.3" x2="641.9" y2="1466" stroke-width="4"/>
<line x1="703.5" y1="920.4" x2="703.5" y2="1466" stroke-width="3.2"/>
<line x1="726.3" y1="928" x2="726.3" y2="1466" stroke-width="2.8"/>
<line x1="738.3" y1="882.3" x2="738.3" y2="1466" stroke-width="2.8"/>
<line x1="765.3" y1="932.2" x2="765.3" y2="1466" stroke-width="2.8"/>
<line x1="803.3" y1="887.3" x2="803.3" y2="1466" stroke-width="4"/>
<line x1="887.2" y1="927.4" x2="887.2" y2="1466" stroke-width="4"/>
<line x1="937.6" y1="936.4" x2="937.6" y2="1466" stroke-width="3.2"/>
<line x1="984" y1="932.4" x2="984" y2="1466" stroke-width="4"/>
<line x1="1006.5" y1="932.4" x2="1006.5" y2="1466" stroke-width="2.8"/>
<line x1="1042.5" y1="861.2" x2="1042.5" y2="1466" stroke-width="4"/>
<line x1="1060" y1="941.5" x2="1060" y2="1466" stroke-width="4"/>
<line x1="1147.6" y1="913.4" x2="1147.6" y2="1466" stroke-width="3.2"/>
<line x1="1262.5" y1="890.3" x2="1262.5" y2="1466" stroke-width="3.2"/>
<line x1="1278.5" y1="930.4" x2="1278.5" y2="1466" stroke-width="3.2"/>
<line x1="1446.4" y1="892.3" x2="1446.4" y2="1466" stroke-width="3.2"/>
</g>
<g font-family="'Liberation Serif', 'Times New Roman', serif" font-size="40.5" text-anchor="middle" fill="#000">
<text x="194.3" y="914.5">3</text>
<text x="227.4" y="934.4">8</text>
<text x="315.6" y="914.5">6</text>
<text x="340.3" y="917.8">9</text>
<text x="364" y="900.2">6</text>
<text x="386.9" y="790">1</text>
<text x="435.6" y="924.2">6</text>
<text x="493.2" y="909.3">8</text>
<text x="515.5" y="150.8">1</text>
<text x="530" y="922.4">5</text>
<text x="547.4" y="922.4">2</text>
<text x="579.1" y="722.3">4</text>
<text x="640.2" y="922.9">8</text>
<text x="701" y="910.1">6</text>
<text x="723.9" y="921.5">4</text>
<text x="737.1" y="873.8">1</text>
<text x="763.3" y="923.7">7</text>
<text x="802.7" y="878.2">1</text>
<text x="886.2" y="918.4">4</text>
<text x="934.6" y="924.5">8</text>
<text x="980.5" y="924">4</text>
<text x="1003.5" y="922.8">4</text>
<text x="1042.7" y="851.7">1</text>
<text x="1060.8" y="930.4">7</text>
<text x="1146.2" y="899.9">1</text>
<text x="1263.2" y="881.2">1</text>
<text x="1278.3" y="922.8">4</text>
<text x="1445.5" y="881.2">1</text>
</g>
<g font-family="'Liberation Serif', 'Times New Roman', serif" font-weight="bold" fill="#000">
<text x="1839.9" y="914.6" font-size="63.5" textLength="64.6" lengthAdjust="spacingAndGlyphs">S5</text>
<text x="1839.9" y="1040.2" font-size="63.5" textLength="64.6" lengthAdjust="spacingAndGlyphs">S4</text>
<text x="1839.9" y="1170.6" font-size="63.5" textLength="64.6" lengthAdjust="spacingAndGlyphs">S3</text>
<text x="1837.9" y="1296.8" font-size="63.5" textLength="64.6" lengthAdjust="spacingAndGlyphs">S2</text>
<text x="1837.9" y="1410" font-size="63.5" textLength="64.6" lengthAdjust="spacingAndGlyphs">S1</text>
<text x="145.3" y="1549.6" font-size="63.5" text-anchor="middle">10</text>
<text x="370.0" y="1549.6" font-size="63.5" text-anchor="middle">20</text>
<text x="593.7" y="1549.6" font-size="63.5" text-anchor="middle">30</text>
<text x="817.4" y="1549.6" font-size="63.5" text-anchor="middle">40</text>
<text x="1041.2" y="1549.6" font-size="63.5" text-anchor="middle">50</text>
<text x="1264.9" y="1549.6" font-size="63.5" text-anchor="middle">60</text>
<text x="1488.6" y="1549.6" font-size="63.5" text-anchor="middle">70</text>
<text x="1712.3" y="1549.6" font-size="63.5" text-anchor="middle">80</text>
<text x="1936.0" y="1549.6" font-size="63.5" text-anchor="middle">90</text>
<text x="1031.5" y="1645" font-size="75" text-anchor="middle">2θ (°)</text>
<text transform="translate(83.7,749.5) rotate(-90)" font-size="75.1" text-anchor="middle">Intensity (a.u.)</text>
<text x="1060.5" y="118.2" font-size="57.5" textLength="329.7" lengthAdjust="spacingAndGlyphs" xml:space="preserve">1 Quartz-SiO<tspan font-size="38.5" dy="14">2</tspan></text>
<text x="1060.5" y="198.5" font-size="57.5" textLength="446.1" lengthAdjust="spacingAndGlyphs" xml:space="preserve">2 Albite-NaAlSi<tspan font-size="38.5" dy="14">3</tspan><tspan dy="-14">O</tspan><tspan font-size="38.5" dy="14">8</tspan></text>
<text x="1060.5" y="280" font-size="57.5" textLength="693.0" lengthAdjust="spacingAndGlyphs" xml:space="preserve">3 Muscovite-KAl<tspan font-size="38.5" dy="14">3</tspan><tspan dy="-14">Si</tspan><tspan font-size="38.5" dy="14">3</tspan><tspan dy="-14">O</tspan><tspan font-size="38.5" dy="14">10</tspan><tspan dy="-14">(OH)</tspan><tspan font-size="38.5" dy="14">2</tspan></text>
<text x="1060.5" y="360.3" font-size="57.5" textLength="386.7" lengthAdjust="spacingAndGlyphs" xml:space="preserve">4 Calcite-CaCO<tspan font-size="38.5" dy="14">3</tspan></text>
<text x="1060.5" y="440.5" font-size="57.5" textLength="529.6" lengthAdjust="spacingAndGlyphs" xml:space="preserve">5 Microcline-KAlSi<tspan font-size="38.5" dy="14">3</tspan><tspan dy="-14">O</tspan><tspan font-size="38.5" dy="14">8</tspan></text>
<text x="1060.5" y="522.3" font-size="57.5" textLength="644.8" lengthAdjust="spacingAndGlyphs" xml:space="preserve">6 Kaolinite-Al<tspan font-size="38.5" dy="14">2</tspan><tspan dy="-14">(Si</tspan><tspan font-size="38.5" dy="14">2</tspan><tspan dy="-14">O</tspan><tspan font-size="38.5" dy="14">5</tspan><tspan dy="-14">)(OH)</tspan><tspan font-size="38.5" dy="14">4</tspan></text>
<text x="1060.5" y="602.6" font-size="57.5" textLength="628.8" lengthAdjust="spacingAndGlyphs" xml:space="preserve">7 Zinc Hydroxide-Zn(OH)<tspan font-size="38.5" dy="14">2</tspan></text>
<text x="1060.5" y="682.8" font-size="57.5" textLength="482.3" lengthAdjust="spacingAndGlyphs" xml:space="preserve">8 Lead dioxide-PbO<tspan font-size="38.5" dy="14">2</tspan></text>
<text x="1060.5" y="763.1" font-size="57.5" textLength="759.2" lengthAdjust="spacingAndGlyphs" xml:space="preserve">9 Cadmium Hydroxide-Cd(OH)<tspan font-size="38.5" dy="14">2</tspan></text>
</g>
</svg>
</body></html>
